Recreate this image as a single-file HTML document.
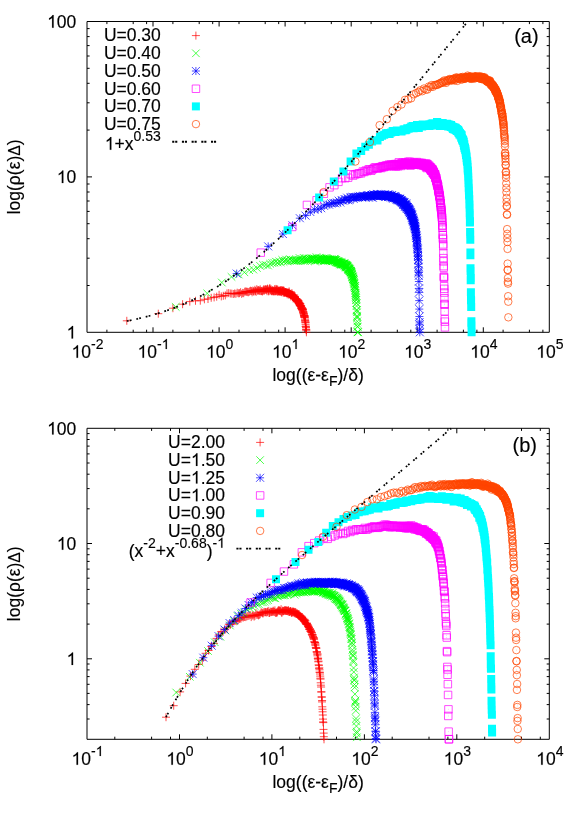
<!DOCTYPE html>
<html><head><meta charset="utf-8"><title>log-log density plots</title>
<style>
html,body{margin:0;padding:0;background:#fff;overflow:hidden}
svg{display:block;will-change:transform}
text{font-family:"Liberation Sans",sans-serif;fill:#000;stroke:#000;stroke-width:.15px}
.o{fill:none;stroke:none}
</style></head>
<body>
<svg width="581" height="814" viewBox="0 0 581 814">
<rect width="581" height="814" fill="#fff"/>
<g id="panel-a">
<path d="M87 21.5H549.3V332.3H87Z" stroke="#000" stroke-width="1" fill="none"/>
<path d="M106.9 332.3v-2.6M106.9 21.5v2.6M133.2 332.3v-2.6M133.2 21.5v2.6M146.6 332.3v-2.6M146.6 21.5v2.6M153 332.3v-5M153 21.5v5M172.9 332.3v-2.6M172.9 21.5v2.6M199.2 332.3v-2.6M199.2 21.5v2.6M212.7 332.3v-2.6M212.7 21.5v2.6M219.1 332.3v-5M219.1 21.5v5M239 332.3v-2.6M239 21.5v2.6M265.2 332.3v-2.6M265.2 21.5v2.6M278.7 332.3v-2.6M278.7 21.5v2.6M285.1 332.3v-5M285.1 21.5v5M305 332.3v-2.6M305 21.5v2.6M331.3 332.3v-2.6M331.3 21.5v2.6M344.8 332.3v-2.6M344.8 21.5v2.6M351.2 332.3v-5M351.2 21.5v5M371.1 332.3v-2.6M371.1 21.5v2.6M397.3 332.3v-2.6M397.3 21.5v2.6M410.8 332.3v-2.6M410.8 21.5v2.6M417.2 332.3v-5M417.2 21.5v5M437.1 332.3v-2.6M437.1 21.5v2.6M463.4 332.3v-2.6M463.4 21.5v2.6M476.9 332.3v-2.6M476.9 21.5v2.6M483.3 332.3v-5M483.3 21.5v5M503.1 332.3v-2.6M503.1 21.5v2.6M529.4 332.3v-2.6M529.4 21.5v2.6M542.9 332.3v-2.6M542.9 21.5v2.6M87 285.5h2.6M549.3 285.5h-2.6M87 258.2h2.6M549.3 258.2h-2.6M87 238.7h2.6M549.3 238.7h-2.6M87 223.7h2.6M549.3 223.7h-2.6M87 211.4h2.6M549.3 211.4h-2.6M87 201h2.6M549.3 201h-2.6M87 192h2.6M549.3 192h-2.6M87 184h2.6M549.3 184h-2.6M87 176.9h5M549.3 176.9h-5M87 130.1h2.6M549.3 130.1h-2.6M87 102.8h2.6M549.3 102.8h-2.6M87 83.3h2.6M549.3 83.3h-2.6M87 68.3h2.6M549.3 68.3h-2.6M87 56h2.6M549.3 56h-2.6M87 45.6h2.6M549.3 45.6h-2.6M87 36.6h2.6M549.3 36.6h-2.6M87 28.6h2.6M549.3 28.6h-2.6" stroke="#000" stroke-width="1" fill="none"/>
<text x="76.3" y="27.7" text-anchor="end" font-size="17.5"><tspan class="o">1</tspan>00</text>
<text x="76.3" y="183.1" text-anchor="end" font-size="17.5"><tspan class="o">1</tspan>0</text>
<text x="76.3" y="338.5" text-anchor="end" font-size="17.5"><tspan class="o">1</tspan></text>
<text x="87.5" y="357.8" text-anchor="middle" font-size="17.5"><tspan class="o">1</tspan>0<tspan font-size="14.0" dy="-8.8">-2</tspan></text>
<text x="153.5" y="357.8" text-anchor="middle" font-size="17.5"><tspan class="o">1</tspan>0<tspan font-size="14.0" dy="-8.8">-<tspan class="o">1</tspan></tspan></text>
<text x="219.6" y="357.8" text-anchor="middle" font-size="17.5"><tspan class="o">1</tspan>0<tspan font-size="14.0" dy="-8.8">0</tspan></text>
<text x="285.6" y="357.8" text-anchor="middle" font-size="17.5"><tspan class="o">1</tspan>0<tspan font-size="14.0" dy="-8.8"><tspan class="o">1</tspan></tspan></text>
<text x="351.7" y="357.8" text-anchor="middle" font-size="17.5"><tspan class="o">1</tspan>0<tspan font-size="14.0" dy="-8.8">2</tspan></text>
<text x="417.7" y="357.8" text-anchor="middle" font-size="17.5"><tspan class="o">1</tspan>0<tspan font-size="14.0" dy="-8.8">3</tspan></text>
<text x="483.8" y="357.8" text-anchor="middle" font-size="17.5"><tspan class="o">1</tspan>0<tspan font-size="14.0" dy="-8.8">4</tspan></text>
<text x="549.8" y="357.8" text-anchor="middle" font-size="17.5"><tspan class="o">1</tspan>0<tspan font-size="14.0" dy="-8.8">5</tspan></text>
<text x="318.1" y="381.3" text-anchor="middle" font-size="17.5">log((&#949;-&#949;<tspan font-size="14.0" dy="4.6">F</tspan><tspan dy="-4.6">)/&#948;)</tspan></text>
<text transform="translate(19.9 176.9) rotate(-90)" text-anchor="middle" font-size="17.5">log(&#961;(&#949;)<tspan font-size="15.6">&#916;</tspan>)</text>
<text x="538.6" y="42.9" text-anchor="end" font-size="20">(a)</text>
<path d="M122.8 320.8h8M126.8 316.8v8M154.3 313.7h8M158.3 309.7v8M168.9 308.2h8M172.9 304.2v8M178.6 304.2h8M182.6 300.2v8M185.8 301.6h8M189.8 297.6v8M191.5 300.8h8M195.5 296.8v8M196.3 300.7h8M200.3 296.7v8M200.4 299.3h8M204.4 295.3v8M204 299h8M208 295v8M207.2 297.8h8M211.2 293.8v8M210.1 297.4h8M214.1 293.4v8M212.7 296.7h8M216.7 292.7v8M215.1 294.8h8M219.1 290.8v8M217.3 296.4h8M221.3 292.4v8M219.3 295.8h8M223.3 291.8v8M221.3 295.4h8M225.3 291.4v8M223 293.4h8M227 289.4v8M224.7 293.1h8M228.7 289.1v8M226.3 293.5h8M230.3 289.5v8M227.8 293.6h8M231.8 289.6v8M229.3 294h8M233.3 290v8M230.6 293.5h8M234.6 289.5v8M231.9 293.8h8M235.9 289.8v8M233.2 292.7h8M237.2 288.7v8M234.4 293.3h8M238.4 289.3v8M235.5 293.2h8M239.5 289.2v8M236.6 292.2h8M240.6 288.2v8M237.7 293.9h8M241.7 289.9v8M238.7 292.9h8M242.7 288.9v8M239.7 293.2h8M243.7 289.2v8M240.7 291.7h8M244.7 287.7v8M241.6 291.5h8M245.6 287.5v8M242.5 291.7h8M246.5 287.7v8M243.4 291.8h8M247.4 287.8v8M244.2 292.3h8M248.2 288.3v8M245 291.9h8M249 287.9v8M245.8 291.2h8M249.8 287.2v8M246.6 290.7h8M250.6 286.7v8M247.4 291h8M251.4 287v8M248.1 292.3h8M252.1 288.3v8M248.8 290.6h8M252.8 286.6v8M249.5 291.4h8M253.5 287.4v8M250.2 291.4h8M254.2 287.4v8M250.9 289.8h8M254.9 285.8v8M251.5 291h8M255.5 287v8M252.1 291.9h8M256.1 287.9v8M252.8 289.2h8M256.8 285.2v8M253.4 290.5h8M257.4 286.5v8M254 290.6h8M258 286.6v8M254.6 290h8M258.6 286v8M255.1 291h8M259.1 287v8M255.7 290.5h8M259.7 286.5v8M256.2 289.3h8M260.2 285.3v8M256.8 291.1h8M260.8 287.1v8M257.3 290.9h8M261.3 286.9v8M257.8 291.1h8M261.8 287.1v8M258.4 291.5h8M262.4 287.5v8M258.9 290.6h8M262.9 286.6v8M259.4 290.4h8M263.4 286.4v8M259.8 289.2h8M263.8 285.2v8M260.3 290.7h8M264.3 286.7v8M260.8 289.7h8M264.8 285.7v8M261.2 289.8h8M265.2 285.8v8M261.7 289.2h8M265.7 285.2v8M262.2 289.4h8M266.2 285.4v8M262.6 289.8h8M266.6 285.8v8M263 291.2h8M267 287.2v8M263.5 288.6h8M267.5 284.6v8M263.9 289h8M267.9 285v8M264.3 290.4h8M268.3 286.4v8M264.7 291.4h8M268.7 287.4v8M265.1 290.7h8M269.1 286.7v8M265.5 288.7h8M269.5 284.7v8M265.9 288.2h8M269.9 284.2v8M266.3 290.5h8M270.3 286.5v8M266.7 289.7h8M270.7 285.7v8M267 289.4h8M271 285.4v8M267.4 291.1h8M271.4 287.1v8M267.8 291.2h8M271.8 287.2v8M268.1 290.5h8M272.1 286.5v8M268.5 290.5h8M272.5 286.5v8M268.9 290.7h8M272.9 286.7v8M269.2 291.6h8M273.2 287.6v8M269.6 290.9h8M273.6 286.9v8M269.9 290.8h8M273.9 286.8v8M270.2 290.9h8M274.2 286.9v8M270.6 289.2h8M274.6 285.2v8M270.9 291.5h8M274.9 287.5v8M271.2 291.2h8M275.2 287.2v8M271.5 290.9h8M275.5 286.9v8M271.9 288.9h8M275.9 284.9v8M272.2 290h8M276.2 286v8M272.5 291.2h8M276.5 287.2v8M272.8 289.1h8M276.8 285.1v8M273.1 290.4h8M277.1 286.4v8M273.4 291.4h8M277.4 287.4v8M273.7 289.6h8M277.7 285.6v8M274 291.9h8M278 287.9v8M274.3 291.1h8M278.3 287.1v8M274.6 290.6h8M278.6 286.6v8M274.9 291h8M278.9 287v8M275.2 291.3h8M279.2 287.3v8M275.4 290.9h8M279.4 286.9v8M275.7 291.7h8M279.7 287.7v8M276 290.3h8M280 286.3v8M276.3 290.5h8M280.3 286.5v8M276.5 291.7h8M280.5 287.7v8M276.8 290.9h8M280.8 286.9v8M277.1 290.2h8M281.1 286.2v8M277.3 291.7h8M281.3 287.7v8M277.6 292.2h8M281.6 288.2v8M277.9 290.7h8M281.9 286.7v8M278.1 290h8M282.1 286v8M278.4 291.1h8M282.4 287.1v8M278.6 291.1h8M282.6 287.1v8M278.9 291h8M282.9 287v8M279.1 292.5h8M283.1 288.5v8M279.4 290.6h8M283.4 286.6v8M279.6 292.5h8M283.6 288.5v8M279.8 290.5h8M283.8 286.5v8M280.1 291h8M284.1 287v8M280.3 292.2h8M284.3 288.2v8M280.5 292.6h8M284.5 288.6v8M280.8 292.5h8M284.8 288.5v8M281 292.2h8M285 288.2v8M281.2 292.1h8M285.2 288.1v8M281.5 292.2h8M285.5 288.2v8M281.7 292.6h8M285.7 288.6v8M281.9 292h8M285.9 288v8M282.1 292.5h8M286.1 288.5v8M282.4 292.8h8M286.4 288.8v8M282.6 292.4h8M286.6 288.4v8M282.8 293.1h8M286.8 289.1v8M283 293h8M287 289v8M283.2 294.3h8M287.2 290.3v8M283.4 293h8M287.4 289v8M283.7 292.5h8M287.7 288.5v8M283.9 292.6h8M287.9 288.6v8M284.1 293h8M288.1 289v8M284.3 293.8h8M288.3 289.8v8M284.5 292.9h8M288.5 288.9v8M284.7 293.6h8M288.7 289.6v8M284.9 294.8h8M288.9 290.8v8M285.1 291.4h8M289.1 287.4v8M285.3 292.7h8M289.3 288.7v8M285.5 293.9h8M289.5 289.9v8M285.7 294.1h8M289.7 290.1v8M285.9 294.1h8M289.9 290.1v8M286.1 293.7h8M290.1 289.7v8M286.3 294.7h8M290.3 290.7v8M286.5 294.5h8M290.5 290.5v8M286.6 294h8M290.6 290v8M286.8 296.4h8M290.8 292.4v8M287 294.9h8M291 290.9v8M287.2 294.3h8M291.2 290.3v8M287.4 294.8h8M291.4 290.8v8M287.6 294.9h8M291.6 290.9v8M287.8 295.1h8M291.8 291.1v8M287.9 293.1h8M291.9 289.1v8M288.1 295.1h8M292.1 291.1v8M288.3 296.4h8M292.3 292.4v8M288.5 294.8h8M292.5 290.8v8M288.7 295.8h8M292.7 291.8v8M288.8 296.8h8M292.8 292.8v8M289 296.9h8M293 292.9v8M289.2 297.5h8M293.2 293.5v8M289.4 295.1h8M293.4 291.1v8M289.5 296.4h8M293.5 292.4v8M289.7 296.5h8M293.7 292.5v8M289.9 297.4h8M293.9 293.4v8M290 298h8M294 294v8M290.2 295.1h8M294.2 291.1v8M290.4 298.3h8M294.4 294.3v8M290.5 296.4h8M294.5 292.4v8M290.7 298.3h8M294.7 294.3v8M290.9 296.7h8M294.9 292.7v8M291 298.2h8M295 294.2v8M291.2 299.1h8M295.2 295.1v8M291.3 298.2h8M295.3 294.2v8M291.5 298.7h8M295.5 294.7v8M291.7 299.3h8M295.7 295.3v8M291.8 298.9h8M295.8 294.9v8M292 298.9h8M296 294.9v8M292.1 300.4h8M296.1 296.4v8M292.3 300.2h8M296.3 296.2v8M292.5 299.3h8M296.5 295.3v8M292.6 301.9h8M296.6 297.9v8M292.8 298.9h8M296.8 294.9v8M292.9 300.8h8M296.9 296.8v8M293.1 300h8M297.1 296v8M293.2 300.5h8M297.2 296.5v8M293.4 301.2h8M297.4 297.2v8M293.5 301h8M297.5 297v8M293.7 301.5h8M297.7 297.5v8M293.8 300h8M297.8 296v8M294 300.2h8M298 296.2v8M294.1 302.1h8M298.1 298.1v8M294.2 301h8M298.2 297v8M294.4 301.2h8M298.4 297.2v8M294.5 301h8M298.5 297v8M294.7 303.4h8M298.7 299.4v8M294.8 303.2h8M298.8 299.2v8M295 304h8M299 300v8M295.1 302.3h8M299.1 298.3v8M295.2 303.3h8M299.2 299.3v8M295.4 302.6h8M299.4 298.6v8M295.5 304.3h8M299.5 300.3v8M295.7 305.2h8M299.7 301.2v8M295.8 303.5h8M299.8 299.5v8M295.9 305.7h8M299.9 301.7v8M296.1 305.4h8M300.1 301.4v8M296.2 304.7h8M300.2 300.7v8M296.3 303.5h8M300.3 299.5v8M296.5 306.5h8M300.5 302.5v8M296.6 305.5h8M300.6 301.5v8M296.8 305.4h8M300.8 301.4v8M296.9 306.4h8M300.9 302.4v8M297 306.7h8M301 302.7v8M297.1 307.8h8M301.1 303.8v8M297.3 306.1h8M301.3 302.1v8M297.4 308.1h8M301.4 304.1v8M297.5 308.6h8M301.5 304.6v8M297.7 308.9h8M301.7 304.9v8M297.8 307.9h8M301.8 303.9v8M297.9 307.7h8M301.9 303.7v8M298.1 309.4h8M302.1 305.4v8M298.2 309h8M302.2 305v8M298.3 309.4h8M302.3 305.4v8M298.4 310.7h8M302.4 306.7v8M298.6 309.7h8M302.6 305.7v8M298.7 308.4h8M302.7 304.4v8M298.8 310.3h8M302.8 306.3v8M298.9 309.5h8M302.9 305.5v8M299.1 312h8M303.1 308v8M299.2 312h8M303.2 308v8M299.3 311.6h8M303.3 307.6v8M299.4 312.5h8M303.4 308.5v8M299.5 313.6h8M303.5 309.6v8M299.7 313.4h8M303.7 309.4v8M299.8 314.8h8M303.8 310.8v8M299.9 314.2h8M303.9 310.2v8M300 315.5h8M304 311.5v8M300.1 316.3h8M304.1 312.3v8M300.3 316.9h8M304.3 312.9v8M300.4 315.6h8M304.4 311.6v8M300.5 317.4h8M304.5 313.4v8M300.6 315.8h8M304.6 311.8v8M300.7 317h8M304.7 313v8M300.8 317h8M304.8 313v8M301 320.1h8M305 316.1v8M301.1 319h8M305.1 315v8M301.2 320.7h8M305.2 316.7v8M301.3 321.3h8M305.3 317.3v8M301.4 322.3h8M305.4 318.3v8M301.5 322.7h8M305.5 318.7v8M301.6 324.3h8M305.6 320.3v8M301.7 326.5h8M305.7 322.5v8M301.9 326.1h8M305.9 322.1v8M302 327.5h8M306 323.5v8M302.1 329.1h8M306.1 325.1v8M302.2 329.6h8M306.2 325.6v8M302.3 330.3h8M306.3 326.3v8M302.4 332.3h8M306.4 328.3v8" fill="none" stroke="#ff0000" stroke-width="0.7"/>
<path d="M171.9 303.1l7.6 7.6M171.9 310.7l7.6 -7.6M203.4 289.6l7.6 7.6M203.4 297.2l7.6 -7.6M218 278.7l7.6 7.6M218 286.3l7.6 -7.6M227.7 273.1l7.6 7.6M227.7 280.7l7.6 -7.6M234.9 270.7l7.6 7.6M234.9 278.3l7.6 -7.6M240.6 268.5l7.6 7.6M240.6 276.1l7.6 -7.6M245.4 266.4l7.6 7.6M245.4 274l7.6 -7.6M249.5 265.8l7.6 7.6M249.5 273.4l7.6 -7.6M253.1 264.2l7.6 7.6M253.1 271.8l7.6 -7.6M256.3 262.1l7.6 7.6M256.3 269.7l7.6 -7.6M259.2 261l7.6 7.6M259.2 268.6l7.6 -7.6M261.8 261.1l7.6 7.6M261.8 268.7l7.6 -7.6M264.2 261.7l7.6 7.6M264.2 269.3l7.6 -7.6M266.4 260l7.6 7.6M266.4 267.6l7.6 -7.6M268.4 259.2l7.6 7.6M268.4 266.8l7.6 -7.6M270.4 258.9l7.6 7.6M270.4 266.5l7.6 -7.6M272.1 257.9l7.6 7.6M272.1 265.5l7.6 -7.6M273.8 258.7l7.6 7.6M273.8 266.3l7.6 -7.6M275.4 257.6l7.6 7.6M275.4 265.2l7.6 -7.6M276.9 258.5l7.6 7.6M276.9 266.1l7.6 -7.6M278.4 256.1l7.6 7.6M278.4 263.7l7.6 -7.6M279.7 258l7.6 7.6M279.7 265.6l7.6 -7.6M281 257l7.6 7.6M281 264.6l7.6 -7.6M282.3 255.8l7.6 7.6M282.3 263.4l7.6 -7.6M283.5 257.7l7.6 7.6M283.5 265.3l7.6 -7.6M284.6 256.8l7.6 7.6M284.6 264.4l7.6 -7.6M285.7 255.1l7.6 7.6M285.7 262.7l7.6 -7.6M286.8 256l7.6 7.6M286.8 263.6l7.6 -7.6M287.8 256.8l7.6 7.6M287.8 264.4l7.6 -7.6M288.8 256.1l7.6 7.6M288.8 263.7l7.6 -7.6M289.8 257l7.6 7.6M289.8 264.6l7.6 -7.6M290.7 256.9l7.6 7.6M290.7 264.5l7.6 -7.6M291.6 256.8l7.6 7.6M291.6 264.4l7.6 -7.6M292.5 256.4l7.6 7.6M292.5 264l7.6 -7.6M293.3 257.1l7.6 7.6M293.3 264.7l7.6 -7.6M294.1 256.5l7.6 7.6M294.1 264.1l7.6 -7.6M294.9 256.3l7.6 7.6M294.9 263.9l7.6 -7.6M295.7 254.2l7.6 7.6M295.7 261.8l7.6 -7.6M296.4 256.5l7.6 7.6M296.4 264.1l7.6 -7.6M297.2 256.8l7.6 7.6M297.2 264.4l7.6 -7.6M297.9 255.4l7.6 7.6M297.9 263l7.6 -7.6M298.6 255.2l7.6 7.6M298.6 262.8l7.6 -7.6M299.3 257.1l7.6 7.6M299.3 264.7l7.6 -7.6M299.9 254.1l7.6 7.6M299.9 261.7l7.6 -7.6M300.6 255.9l7.6 7.6M300.6 263.5l7.6 -7.6M301.2 257.4l7.6 7.6M301.2 265l7.6 -7.6M301.9 254.7l7.6 7.6M301.9 262.3l7.6 -7.6M302.5 255.9l7.6 7.6M302.5 263.5l7.6 -7.6M303.1 256.9l7.6 7.6M303.1 264.5l7.6 -7.6M303.7 255.2l7.6 7.6M303.7 262.8l7.6 -7.6M304.2 255.8l7.6 7.6M304.2 263.4l7.6 -7.6M304.8 256l7.6 7.6M304.8 263.6l7.6 -7.6M305.3 254.6l7.6 7.6M305.3 262.2l7.6 -7.6M305.9 255.2l7.6 7.6M305.9 262.8l7.6 -7.6M306.4 255.5l7.6 7.6M306.4 263.1l7.6 -7.6M306.9 256l7.6 7.6M306.9 263.6l7.6 -7.6M307.4 255.3l7.6 7.6M307.4 262.9l7.6 -7.6M308 255.1l7.6 7.6M308 262.7l7.6 -7.6M308.4 254.5l7.6 7.6M308.4 262.1l7.6 -7.6M308.9 255l7.6 7.6M308.9 262.6l7.6 -7.6M309.4 256l7.6 7.6M309.4 263.6l7.6 -7.6M309.9 255.4l7.6 7.6M309.9 263l7.6 -7.6M310.3 254.6l7.6 7.6M310.3 262.2l7.6 -7.6M310.8 254.7l7.6 7.6M310.8 262.3l7.6 -7.6M311.2 257.5l7.6 7.6M311.2 265.1l7.6 -7.6M311.7 256.3l7.6 7.6M311.7 263.9l7.6 -7.6M312.1 255.9l7.6 7.6M312.1 263.5l7.6 -7.6M312.6 253.3l7.6 7.6M312.6 260.9l7.6 -7.6M313 255.9l7.6 7.6M313 263.5l7.6 -7.6M313.4 255.8l7.6 7.6M313.4 263.4l7.6 -7.6M313.8 256.7l7.6 7.6M313.8 264.3l7.6 -7.6M314.2 255.8l7.6 7.6M314.2 263.4l7.6 -7.6M314.6 255.4l7.6 7.6M314.6 263l7.6 -7.6M315 255.8l7.6 7.6M315 263.4l7.6 -7.6M315.4 253.9l7.6 7.6M315.4 261.5l7.6 -7.6M315.8 256.3l7.6 7.6M315.8 263.9l7.6 -7.6M316.1 255.7l7.6 7.6M316.1 263.3l7.6 -7.6M316.5 254.9l7.6 7.6M316.5 262.5l7.6 -7.6M316.9 256.5l7.6 7.6M316.9 264.1l7.6 -7.6M317.2 256.9l7.6 7.6M317.2 264.5l7.6 -7.6M317.6 254.4l7.6 7.6M317.6 262l7.6 -7.6M318 255l7.6 7.6M318 262.6l7.6 -7.6M318.3 255.8l7.6 7.6M318.3 263.4l7.6 -7.6M318.7 255.7l7.6 7.6M318.7 263.3l7.6 -7.6M319 255.2l7.6 7.6M319 262.8l7.6 -7.6M319.3 254.8l7.6 7.6M319.3 262.4l7.6 -7.6M319.7 257.3l7.6 7.6M319.7 264.9l7.6 -7.6M320 256.4l7.6 7.6M320 264l7.6 -7.6M320.3 254.7l7.6 7.6M320.3 262.3l7.6 -7.6M320.6 254.5l7.6 7.6M320.6 262.1l7.6 -7.6M321 257l7.6 7.6M321 264.6l7.6 -7.6M321.3 256.4l7.6 7.6M321.3 264l7.6 -7.6M321.6 257.1l7.6 7.6M321.6 264.7l7.6 -7.6M321.9 256.3l7.6 7.6M321.9 263.9l7.6 -7.6M322.2 255l7.6 7.6M322.2 262.6l7.6 -7.6M322.5 256l7.6 7.6M322.5 263.6l7.6 -7.6M322.8 254l7.6 7.6M322.8 261.6l7.6 -7.6M323.1 255.2l7.6 7.6M323.1 262.8l7.6 -7.6M323.4 255.8l7.6 7.6M323.4 263.4l7.6 -7.6M323.7 256.3l7.6 7.6M323.7 263.9l7.6 -7.6M324 255.3l7.6 7.6M324 262.9l7.6 -7.6M324.3 255.8l7.6 7.6M324.3 263.4l7.6 -7.6M324.5 256.3l7.6 7.6M324.5 263.9l7.6 -7.6M324.8 256.3l7.6 7.6M324.8 263.9l7.6 -7.6M325.1 256.5l7.6 7.6M325.1 264.1l7.6 -7.6M325.4 256.2l7.6 7.6M325.4 263.8l7.6 -7.6M325.6 255.8l7.6 7.6M325.6 263.4l7.6 -7.6M325.9 256.7l7.6 7.6M325.9 264.3l7.6 -7.6M326.2 256.2l7.6 7.6M326.2 263.8l7.6 -7.6M326.4 255.5l7.6 7.6M326.4 263.1l7.6 -7.6M326.7 255.7l7.6 7.6M326.7 263.3l7.6 -7.6M326.9 256.3l7.6 7.6M326.9 263.9l7.6 -7.6M327.2 256.2l7.6 7.6M327.2 263.8l7.6 -7.6M327.5 256.5l7.6 7.6M327.5 264.1l7.6 -7.6M327.7 256.4l7.6 7.6M327.7 264l7.6 -7.6M328 256.6l7.6 7.6M328 264.2l7.6 -7.6M328.2 256.3l7.6 7.6M328.2 263.9l7.6 -7.6M328.4 255.5l7.6 7.6M328.4 263.1l7.6 -7.6M328.7 256.9l7.6 7.6M328.7 264.5l7.6 -7.6M328.9 257.4l7.6 7.6M328.9 265l7.6 -7.6M329.2 257l7.6 7.6M329.2 264.6l7.6 -7.6M329.4 256.5l7.6 7.6M329.4 264.1l7.6 -7.6M329.6 257.1l7.6 7.6M329.6 264.7l7.6 -7.6M329.9 256l7.6 7.6M329.9 263.6l7.6 -7.6M330.1 255.3l7.6 7.6M330.1 262.9l7.6 -7.6M330.3 256.9l7.6 7.6M330.3 264.5l7.6 -7.6M330.6 256.1l7.6 7.6M330.6 263.7l7.6 -7.6M330.8 257.5l7.6 7.6M330.8 265.1l7.6 -7.6M331 256.1l7.6 7.6M331 263.7l7.6 -7.6M331.2 254.9l7.6 7.6M331.2 262.5l7.6 -7.6M331.5 256.2l7.6 7.6M331.5 263.8l7.6 -7.6M331.7 258.4l7.6 7.6M331.7 266l7.6 -7.6M331.9 256.8l7.6 7.6M331.9 264.4l7.6 -7.6M332.1 256.1l7.6 7.6M332.1 263.7l7.6 -7.6M332.3 256.6l7.6 7.6M332.3 264.2l7.6 -7.6M332.5 257.7l7.6 7.6M332.5 265.3l7.6 -7.6M332.7 257.8l7.6 7.6M332.7 265.4l7.6 -7.6M333 257.6l7.6 7.6M333 265.2l7.6 -7.6M333.2 258.7l7.6 7.6M333.2 266.3l7.6 -7.6M333.4 258.1l7.6 7.6M333.4 265.7l7.6 -7.6M333.6 257.6l7.6 7.6M333.6 265.2l7.6 -7.6M333.8 258.2l7.6 7.6M333.8 265.8l7.6 -7.6M334 259.1l7.6 7.6M334 266.7l7.6 -7.6M334.2 258.6l7.6 7.6M334.2 266.2l7.6 -7.6M334.4 258.7l7.6 7.6M334.4 266.3l7.6 -7.6M334.6 257.1l7.6 7.6M334.6 264.7l7.6 -7.6M334.8 257.9l7.6 7.6M334.8 265.5l7.6 -7.6M335 258.7l7.6 7.6M335 266.3l7.6 -7.6M335.2 258l7.6 7.6M335.2 265.6l7.6 -7.6M335.4 259.1l7.6 7.6M335.4 266.7l7.6 -7.6M335.5 258.8l7.6 7.6M335.5 266.4l7.6 -7.6M335.7 259.2l7.6 7.6M335.7 266.8l7.6 -7.6M335.9 258.4l7.6 7.6M335.9 266l7.6 -7.6M336.1 260.6l7.6 7.6M336.1 268.2l7.6 -7.6M336.3 259.7l7.6 7.6M336.3 267.3l7.6 -7.6M336.5 258.6l7.6 7.6M336.5 266.2l7.6 -7.6M336.7 258.9l7.6 7.6M336.7 266.5l7.6 -7.6M336.9 261l7.6 7.6M336.9 268.6l7.6 -7.6M337 258.8l7.6 7.6M337 266.4l7.6 -7.6M337.2 259.8l7.6 7.6M337.2 267.4l7.6 -7.6M337.4 260l7.6 7.6M337.4 267.6l7.6 -7.6M337.6 259.3l7.6 7.6M337.6 266.9l7.6 -7.6M337.7 258.5l7.6 7.6M337.7 266.1l7.6 -7.6M337.9 259.6l7.6 7.6M337.9 267.2l7.6 -7.6M338.1 259.9l7.6 7.6M338.1 267.5l7.6 -7.6M338.3 260.6l7.6 7.6M338.3 268.2l7.6 -7.6M338.4 260.4l7.6 7.6M338.4 268l7.6 -7.6M338.6 259.9l7.6 7.6M338.6 267.5l7.6 -7.6M338.8 260.6l7.6 7.6M338.8 268.2l7.6 -7.6M339 260.5l7.6 7.6M339 268.1l7.6 -7.6M339.1 260.3l7.6 7.6M339.1 267.9l7.6 -7.6M339.3 260.3l7.6 7.6M339.3 267.9l7.6 -7.6M339.5 260.1l7.6 7.6M339.5 267.7l7.6 -7.6M339.6 261l7.6 7.6M339.6 268.6l7.6 -7.6M339.8 259.7l7.6 7.6M339.8 267.3l7.6 -7.6M340 260.1l7.6 7.6M340 267.7l7.6 -7.6M340.1 260.7l7.6 7.6M340.1 268.3l7.6 -7.6M340.3 259.7l7.6 7.6M340.3 267.3l7.6 -7.6M340.4 260.6l7.6 7.6M340.4 268.2l7.6 -7.6M340.6 259.4l7.6 7.6M340.6 267l7.6 -7.6M340.8 260.6l7.6 7.6M340.8 268.2l7.6 -7.6M340.9 261.7l7.6 7.6M340.9 269.3l7.6 -7.6M341.1 261.8l7.6 7.6M341.1 269.4l7.6 -7.6M341.2 261.5l7.6 7.6M341.2 269.1l7.6 -7.6M341.4 261.4l7.6 7.6M341.4 269l7.6 -7.6M341.5 260.6l7.6 7.6M341.5 268.2l7.6 -7.6M341.7 263.3l7.6 7.6M341.7 270.9l7.6 -7.6M341.9 262.4l7.6 7.6M341.9 270l7.6 -7.6M342 263l7.6 7.6M342 270.6l7.6 -7.6M342.2 261.5l7.6 7.6M342.2 269.1l7.6 -7.6M342.3 262.2l7.6 7.6M342.3 269.8l7.6 -7.6M342.5 261l7.6 7.6M342.5 268.6l7.6 -7.6M342.6 263.3l7.6 7.6M342.6 270.9l7.6 -7.6M342.8 263.5l7.6 7.6M342.8 271.1l7.6 -7.6M342.9 261.4l7.6 7.6M342.9 269l7.6 -7.6M343.1 263l7.6 7.6M343.1 270.6l7.6 -7.6M343.2 263.7l7.6 7.6M343.2 271.3l7.6 -7.6M343.3 261.9l7.6 7.6M343.3 269.5l7.6 -7.6M343.5 262l7.6 7.6M343.5 269.6l7.6 -7.6M343.6 262.8l7.6 7.6M343.6 270.4l7.6 -7.6M343.8 263.3l7.6 7.6M343.8 270.9l7.6 -7.6M343.9 262.8l7.6 7.6M343.9 270.4l7.6 -7.6M344.1 264.1l7.6 7.6M344.1 271.7l7.6 -7.6M344.2 264.5l7.6 7.6M344.2 272.1l7.6 -7.6M344.3 264.9l7.6 7.6M344.3 272.5l7.6 -7.6M344.5 265.2l7.6 7.6M344.5 272.8l7.6 -7.6M344.6 266l7.6 7.6M344.6 273.6l7.6 -7.6M344.8 265.9l7.6 7.6M344.8 273.5l7.6 -7.6M344.9 264.1l7.6 7.6M344.9 271.7l7.6 -7.6M345 264.9l7.6 7.6M345 272.5l7.6 -7.6M345.2 264.6l7.6 7.6M345.2 272.2l7.6 -7.6M345.3 264.8l7.6 7.6M345.3 272.4l7.6 -7.6M345.4 265.8l7.6 7.6M345.4 273.4l7.6 -7.6M345.6 266l7.6 7.6M345.6 273.6l7.6 -7.6M345.7 266.6l7.6 7.6M345.7 274.2l7.6 -7.6M345.8 265.1l7.6 7.6M345.8 272.7l7.6 -7.6M346 265.6l7.6 7.6M346 273.2l7.6 -7.6M346.1 266.8l7.6 7.6M346.1 274.4l7.6 -7.6M346.2 266.9l7.6 7.6M346.2 274.5l7.6 -7.6M346.4 267l7.6 7.6M346.4 274.6l7.6 -7.6M346.5 267.4l7.6 7.6M346.5 275l7.6 -7.6M346.6 267l7.6 7.6M346.6 274.6l7.6 -7.6M346.8 268.4l7.6 7.6M346.8 276l7.6 -7.6M346.9 268.4l7.6 7.6M346.9 276l7.6 -7.6M347 268.3l7.6 7.6M347 275.9l7.6 -7.6M347.1 268.1l7.6 7.6M347.1 275.7l7.6 -7.6M347.3 268.8l7.6 7.6M347.3 276.4l7.6 -7.6M347.4 267l7.6 7.6M347.4 274.6l7.6 -7.6M347.5 268.7l7.6 7.6M347.5 276.3l7.6 -7.6M347.7 269.8l7.6 7.6M347.7 277.4l7.6 -7.6M347.8 268.9l7.6 7.6M347.8 276.5l7.6 -7.6M347.9 270.6l7.6 7.6M347.9 278.2l7.6 -7.6M348 270.9l7.6 7.6M348 278.5l7.6 -7.6M348.1 270l7.6 7.6M348.1 277.6l7.6 -7.6M348.3 271.2l7.6 7.6M348.3 278.8l7.6 -7.6M348.4 271.5l7.6 7.6M348.4 279.1l7.6 -7.6M348.5 272.5l7.6 7.6M348.5 280.1l7.6 -7.6M348.6 273l7.6 7.6M348.6 280.6l7.6 -7.6M348.8 272.9l7.6 7.6M348.8 280.5l7.6 -7.6M348.9 272.7l7.6 7.6M348.9 280.3l7.6 -7.6M349 273.6l7.6 7.6M349 281.2l7.6 -7.6M349.1 274.1l7.6 7.6M349.1 281.7l7.6 -7.6M349.2 275.2l7.6 7.6M349.2 282.8l7.6 -7.6M349.3 275.3l7.6 7.6M349.3 282.9l7.6 -7.6M349.5 274.9l7.6 7.6M349.5 282.5l7.6 -7.6M349.6 274.9l7.6 7.6M349.6 282.5l7.6 -7.6M349.7 276.1l7.6 7.6M349.7 283.7l7.6 -7.6M349.8 276.3l7.6 7.6M349.8 283.9l7.6 -7.6M349.9 276.5l7.6 7.6M349.9 284.1l7.6 -7.6M350 277.8l7.6 7.6M350 285.4l7.6 -7.6M350.2 278l7.6 7.6M350.2 285.6l7.6 -7.6M350.3 279l7.6 7.6M350.3 286.6l7.6 -7.6M350.4 279.9l7.6 7.6M350.4 287.5l7.6 -7.6M350.5 279.7l7.6 7.6M350.5 287.3l7.6 -7.6M350.6 282.5l7.6 7.6M350.6 290.1l7.6 -7.6M350.7 281l7.6 7.6M350.7 288.6l7.6 -7.6M350.8 282.8l7.6 7.6M350.8 290.4l7.6 -7.6M351 282.7l7.6 7.6M351 290.3l7.6 -7.6M351.1 284.2l7.6 7.6M351.1 291.8l7.6 -7.6M351.2 282.2l7.6 7.6M351.2 289.8l7.6 -7.6M351.3 284.3l7.6 7.6M351.3 291.9l7.6 -7.6M351.4 286l7.6 7.6M351.4 293.6l7.6 -7.6M351.5 287.2l7.6 7.6M351.5 294.8l7.6 -7.6M351.6 289.5l7.6 7.6M351.6 297.1l7.6 -7.6M351.7 288.9l7.6 7.6M351.7 296.5l7.6 -7.6M351.8 290.8l7.6 7.6M351.8 298.4l7.6 -7.6M351.9 291.4l7.6 7.6M351.9 299l7.6 -7.6M352 292.7l7.6 7.6M352 300.3l7.6 -7.6M352.2 293.6l7.6 7.6M352.2 301.2l7.6 -7.6M352.3 294.3l7.6 7.6M352.3 301.9l7.6 -7.6M352.4 296.1l7.6 7.6M352.4 303.7l7.6 -7.6M352.5 296.2l7.6 7.6M352.5 303.8l7.6 -7.6M352.6 299.4l7.6 7.6M352.6 307l7.6 -7.6M352.7 299.2l7.6 7.6M352.7 306.8l7.6 -7.6M352.8 302.2l7.6 7.6M352.8 309.8l7.6 -7.6M352.9 306.7l7.6 7.6M352.9 314.3l7.6 -7.6M353 306l7.6 7.6M353 313.6l7.6 -7.6M353.1 308.5l7.6 7.6M353.1 316.1l7.6 -7.6M353.2 312.1l7.6 7.6M353.2 319.7l7.6 -7.6M353.3 312.9l7.6 7.6M353.3 320.5l7.6 -7.6M353.4 314.1l7.6 7.6M353.4 321.7l7.6 -7.6M353.5 317.6l7.6 7.6M353.5 325.2l7.6 -7.6M353.6 320.2l7.6 7.6M353.6 327.8l7.6 -7.6M353.7 322.6l7.6 7.6M353.7 330.2l7.6 -7.6M353.8 323l7.6 7.6M353.8 330.6l7.6 -7.6M353.9 328.2l7.6 7.6M353.9 335.8l7.6 -7.6M354 328.5l7.6 7.6M354 336.1l7.6 -7.6M354.1 328.5l7.6 7.6M354.1 336.1l7.6 -7.6" fill="none" stroke="#00ff00" stroke-width="0.7"/>
<path d="M232.7 273.6h8M236.7 269.6v8M232.7 269.6l8 8M232.7 277.6l8 -8M264.2 246.4h8M268.2 242.4v8M264.2 242.4l8 8M264.2 250.4l8 -8M278.9 234h8M282.9 230v8M278.9 230l8 8M278.9 238l8 -8M288.5 225.3h8M292.5 221.3v8M288.5 221.3l8 8M288.5 229.3l8 -8M295.8 218.2h8M299.8 214.2v8M295.8 214.2l8 8M295.8 222.2l8 -8M301.5 215.6h8M305.5 211.6v8M301.5 211.6l8 8M301.5 219.6l8 -8M306.3 212h8M310.3 208v8M306.3 208l8 8M306.3 216l8 -8M310.4 209.7h8M314.4 205.7v8M310.4 205.7l8 8M310.4 213.7l8 -8M314 209.1h8M318 205.1v8M314 205.1l8 8M314 213.1l8 -8M317.2 208.2h8M321.2 204.2v8M317.2 204.2l8 8M317.2 212.2l8 -8M320.1 205.9h8M324.1 201.9v8M320.1 201.9l8 8M320.1 209.9l8 -8M322.7 204.4h8M326.7 200.4v8M322.7 200.4l8 8M322.7 208.4l8 -8M325.1 204.7h8M329.1 200.7v8M325.1 200.7l8 8M325.1 208.7l8 -8M327.3 203.3h8M331.3 199.3v8M327.3 199.3l8 8M327.3 207.3l8 -8M329.3 202.9h8M333.3 198.9v8M329.3 198.9l8 8M329.3 206.9l8 -8M331.2 203.3h8M335.2 199.3v8M331.2 199.3l8 8M331.2 207.3l8 -8M333 202.5h8M337 198.5v8M333 198.5l8 8M333 206.5l8 -8M334.7 200.7h8M338.7 196.7v8M334.7 196.7l8 8M334.7 204.7l8 -8M336.3 202.5h8M340.3 198.5v8M336.3 198.5l8 8M336.3 206.5l8 -8M337.8 200.3h8M341.8 196.3v8M337.8 196.3l8 8M337.8 204.3l8 -8M339.2 200.6h8M343.2 196.6v8M339.2 196.6l8 8M339.2 204.6l8 -8M340.6 199.1h8M344.6 195.1v8M340.6 195.1l8 8M340.6 203.1l8 -8M341.9 199.3h8M345.9 195.3v8M341.9 195.3l8 8M341.9 203.3l8 -8M343.2 197.7h8M347.2 193.7v8M343.2 193.7l8 8M343.2 201.7l8 -8M344.4 200.3h8M348.4 196.3v8M344.4 196.3l8 8M344.4 204.3l8 -8M345.5 199.8h8M349.5 195.8v8M345.5 195.8l8 8M345.5 203.8l8 -8M346.6 197.5h8M350.6 193.5v8M346.6 193.5l8 8M346.6 201.5l8 -8M347.7 197.1h8M351.7 193.1v8M347.7 193.1l8 8M347.7 201.1l8 -8M348.7 196.8h8M352.7 192.8v8M348.7 192.8l8 8M348.7 200.8l8 -8M349.7 198.9h8M353.7 194.9v8M349.7 194.9l8 8M349.7 202.9l8 -8M350.6 197.4h8M354.6 193.4v8M350.6 193.4l8 8M350.6 201.4l8 -8M351.6 197.6h8M355.6 193.6v8M351.6 193.6l8 8M351.6 201.6l8 -8M352.5 197.3h8M356.5 193.3v8M352.5 193.3l8 8M352.5 201.3l8 -8M353.3 197.3h8M357.3 193.3v8M353.3 193.3l8 8M353.3 201.3l8 -8M354.2 196.4h8M358.2 192.4v8M354.2 192.4l8 8M354.2 200.4l8 -8M355 197.2h8M359 193.2v8M355 193.2l8 8M355 201.2l8 -8M355.8 195.9h8M359.8 191.9v8M355.8 191.9l8 8M355.8 199.9l8 -8M356.6 196.9h8M360.6 192.9v8M356.6 192.9l8 8M356.6 200.9l8 -8M357.3 197.1h8M361.3 193.1v8M357.3 193.1l8 8M357.3 201.1l8 -8M358.1 197.1h8M362.1 193.1v8M358.1 193.1l8 8M358.1 201.1l8 -8M358.8 196.5h8M362.8 192.5v8M358.8 192.5l8 8M358.8 200.5l8 -8M359.5 195.8h8M363.5 191.8v8M359.5 191.8l8 8M359.5 199.8l8 -8M360.2 196.6h8M364.2 192.6v8M360.2 192.6l8 8M360.2 200.6l8 -8M360.8 196h8M364.8 192v8M360.8 192l8 8M360.8 200l8 -8M361.5 197.5h8M365.5 193.5v8M361.5 193.5l8 8M361.5 201.5l8 -8M362.1 196.8h8M366.1 192.8v8M362.1 192.8l8 8M362.1 200.8l8 -8M362.7 196h8M366.7 192v8M362.7 192l8 8M362.7 200l8 -8M363.3 195.7h8M367.3 191.7v8M363.3 191.7l8 8M363.3 199.7l8 -8M363.9 195.4h8M367.9 191.4v8M363.9 191.4l8 8M363.9 199.4l8 -8M364.5 195.1h8M368.5 191.1v8M364.5 191.1l8 8M364.5 199.1l8 -8M365.1 195.5h8M369.1 191.5v8M365.1 191.5l8 8M365.1 199.5l8 -8M365.7 196h8M369.7 192v8M365.7 192l8 8M365.7 200l8 -8M366.2 196.1h8M370.2 192.1v8M366.2 192.1l8 8M366.2 200.1l8 -8M366.8 196.1h8M370.8 192.1v8M366.8 192.1l8 8M366.8 200.1l8 -8M367.3 197.3h8M371.3 193.3v8M367.3 193.3l8 8M367.3 201.3l8 -8M367.8 195h8M371.8 191v8M367.8 191l8 8M367.8 199l8 -8M368.3 195.5h8M372.3 191.5v8M368.3 191.5l8 8M368.3 199.5l8 -8M368.8 197.7h8M372.8 193.7v8M368.8 193.7l8 8M368.8 201.7l8 -8M369.3 194h8M373.3 190v8M369.3 190l8 8M369.3 198l8 -8M369.8 195h8M373.8 191v8M369.8 191l8 8M369.8 199l8 -8M370.3 195.6h8M374.3 191.6v8M370.3 191.6l8 8M370.3 199.6l8 -8M370.8 195.5h8M374.8 191.5v8M370.8 191.5l8 8M370.8 199.5l8 -8M371.2 195.7h8M375.2 191.7v8M371.2 191.7l8 8M371.2 199.7l8 -8M371.7 195.2h8M375.7 191.2v8M371.7 191.2l8 8M371.7 199.2l8 -8M372.1 195.7h8M376.1 191.7v8M372.1 191.7l8 8M372.1 199.7l8 -8M372.6 195.4h8M376.6 191.4v8M372.6 191.4l8 8M372.6 199.4l8 -8M373 196h8M377 192v8M373 192l8 8M373 200l8 -8M373.4 193.9h8M377.4 189.9v8M373.4 189.9l8 8M373.4 197.9l8 -8M373.8 194.7h8M377.8 190.7v8M373.8 190.7l8 8M373.8 198.7l8 -8M374.3 195.4h8M378.3 191.4v8M374.3 191.4l8 8M374.3 199.4l8 -8M374.7 194.6h8M378.7 190.6v8M374.7 190.6l8 8M374.7 198.6l8 -8M375.1 194.6h8M379.1 190.6v8M375.1 190.6l8 8M375.1 198.6l8 -8M375.5 195.9h8M379.5 191.9v8M375.5 191.9l8 8M375.5 199.9l8 -8M375.9 194.9h8M379.9 190.9v8M375.9 190.9l8 8M375.9 198.9l8 -8M376.3 195.9h8M380.3 191.9v8M376.3 191.9l8 8M376.3 199.9l8 -8M376.6 196h8M380.6 192v8M376.6 192l8 8M376.6 200l8 -8M377 195.7h8M381 191.7v8M377 191.7l8 8M377 199.7l8 -8M377.4 195.9h8M381.4 191.9v8M377.4 191.9l8 8M377.4 199.9l8 -8M377.8 195.4h8M381.8 191.4v8M377.8 191.4l8 8M377.8 199.4l8 -8M378.1 194.3h8M382.1 190.3v8M378.1 190.3l8 8M378.1 198.3l8 -8M378.5 195.5h8M382.5 191.5v8M378.5 191.5l8 8M378.5 199.5l8 -8M378.8 195.9h8M382.8 191.9v8M378.8 191.9l8 8M378.8 199.9l8 -8M379.2 195.1h8M383.2 191.1v8M379.2 191.1l8 8M379.2 199.1l8 -8M379.5 195.4h8M383.5 191.4v8M379.5 191.4l8 8M379.5 199.4l8 -8M379.9 196.1h8M383.9 192.1v8M379.9 192.1l8 8M379.9 200.1l8 -8M380.2 194.8h8M384.2 190.8v8M380.2 190.8l8 8M380.2 198.8l8 -8M380.5 196.1h8M384.5 192.1v8M380.5 192.1l8 8M380.5 200.1l8 -8M380.9 197h8M384.9 193v8M380.9 193l8 8M380.9 201l8 -8M381.2 195.1h8M385.2 191.1v8M381.2 191.1l8 8M381.2 199.1l8 -8M381.5 195.7h8M385.5 191.7v8M381.5 191.7l8 8M381.5 199.7l8 -8M381.8 195.5h8M385.8 191.5v8M381.8 191.5l8 8M381.8 199.5l8 -8M382.1 196.8h8M386.1 192.8v8M382.1 192.8l8 8M382.1 200.8l8 -8M382.5 195.9h8M386.5 191.9v8M382.5 191.9l8 8M382.5 199.9l8 -8M382.8 196.3h8M386.8 192.3v8M382.8 192.3l8 8M382.8 200.3l8 -8M383.1 195.1h8M387.1 191.1v8M383.1 191.1l8 8M383.1 199.1l8 -8M383.4 195.7h8M387.4 191.7v8M383.4 191.7l8 8M383.4 199.7l8 -8M383.7 195.7h8M387.7 191.7v8M383.7 191.7l8 8M383.7 199.7l8 -8M384 194.3h8M388 190.3v8M384 190.3l8 8M384 198.3l8 -8M384.3 196.9h8M388.3 192.9v8M384.3 192.9l8 8M384.3 200.9l8 -8M384.6 196.5h8M388.6 192.5v8M384.6 192.5l8 8M384.6 200.5l8 -8M384.8 194.5h8M388.8 190.5v8M384.8 190.5l8 8M384.8 198.5l8 -8M385.1 196.5h8M389.1 192.5v8M385.1 192.5l8 8M385.1 200.5l8 -8M385.4 195.9h8M389.4 191.9v8M385.4 191.9l8 8M385.4 199.9l8 -8M385.7 196.4h8M389.7 192.4v8M385.7 192.4l8 8M385.7 200.4l8 -8M386 196.4h8M390 192.4v8M386 192.4l8 8M386 200.4l8 -8M386.2 195h8M390.2 191v8M386.2 191l8 8M386.2 199l8 -8M386.5 196.1h8M390.5 192.1v8M386.5 192.1l8 8M386.5 200.1l8 -8M386.8 197.5h8M390.8 193.5v8M386.8 193.5l8 8M386.8 201.5l8 -8M387 195.9h8M391 191.9v8M387 191.9l8 8M387 199.9l8 -8M387.3 195.6h8M391.3 191.6v8M387.3 191.6l8 8M387.3 199.6l8 -8M387.6 195.4h8M391.6 191.4v8M387.6 191.4l8 8M387.6 199.4l8 -8M387.8 195.6h8M391.8 191.6v8M387.8 191.6l8 8M387.8 199.6l8 -8M388.1 196.9h8M392.1 192.9v8M388.1 192.9l8 8M388.1 200.9l8 -8M388.3 198.1h8M392.3 194.1v8M388.3 194.1l8 8M388.3 202.1l8 -8M388.6 197.1h8M392.6 193.1v8M388.6 193.1l8 8M388.6 201.1l8 -8M388.8 197.1h8M392.8 193.1v8M388.8 193.1l8 8M388.8 201.1l8 -8M389.1 198.7h8M393.1 194.7v8M389.1 194.7l8 8M389.1 202.7l8 -8M389.3 196.6h8M393.3 192.6v8M389.3 192.6l8 8M389.3 200.6l8 -8M389.6 196.6h8M393.6 192.6v8M389.6 192.6l8 8M389.6 200.6l8 -8M389.8 197.6h8M393.8 193.6v8M389.8 193.6l8 8M389.8 201.6l8 -8M390 197.7h8M394 193.7v8M390 193.7l8 8M390 201.7l8 -8M390.3 196.5h8M394.3 192.5v8M390.3 192.5l8 8M390.3 200.5l8 -8M390.5 196.5h8M394.5 192.5v8M390.5 192.5l8 8M390.5 200.5l8 -8M390.8 197.7h8M394.8 193.7v8M390.8 193.7l8 8M390.8 201.7l8 -8M391 197.8h8M395 193.8v8M391 193.8l8 8M391 201.8l8 -8M391.2 196.6h8M395.2 192.6v8M391.2 192.6l8 8M391.2 200.6l8 -8M391.4 197.6h8M395.4 193.6v8M391.4 193.6l8 8M391.4 201.6l8 -8M391.7 197.4h8M395.7 193.4v8M391.7 193.4l8 8M391.7 201.4l8 -8M391.9 198.3h8M395.9 194.3v8M391.9 194.3l8 8M391.9 202.3l8 -8M392.1 198h8M396.1 194v8M392.1 194l8 8M392.1 202l8 -8M392.3 198.1h8M396.3 194.1v8M392.3 194.1l8 8M392.3 202.1l8 -8M392.6 198h8M396.6 194v8M392.6 194l8 8M392.6 202l8 -8M392.8 199.2h8M396.8 195.2v8M392.8 195.2l8 8M392.8 203.2l8 -8M393 199.6h8M397 195.6v8M393 195.6l8 8M393 203.6l8 -8M393.2 198.3h8M397.2 194.3v8M393.2 194.3l8 8M393.2 202.3l8 -8M393.4 199.4h8M397.4 195.4v8M393.4 195.4l8 8M393.4 203.4l8 -8M393.6 198.2h8M397.6 194.2v8M393.6 194.2l8 8M393.6 202.2l8 -8M393.8 199h8M397.8 195v8M393.8 195l8 8M393.8 203l8 -8M394 199.7h8M398 195.7v8M394 195.7l8 8M394 203.7l8 -8M394.2 200.4h8M398.2 196.4v8M394.2 196.4l8 8M394.2 204.4l8 -8M394.5 199h8M398.5 195v8M394.5 195l8 8M394.5 203l8 -8M394.7 199.4h8M398.7 195.4v8M394.7 195.4l8 8M394.7 203.4l8 -8M394.9 199.7h8M398.9 195.7v8M394.9 195.7l8 8M394.9 203.7l8 -8M395.1 198.5h8M399.1 194.5v8M395.1 194.5l8 8M395.1 202.5l8 -8M395.3 199.8h8M399.3 195.8v8M395.3 195.8l8 8M395.3 203.8l8 -8M395.5 199.4h8M399.5 195.4v8M395.5 195.4l8 8M395.5 203.4l8 -8M395.6 200.4h8M399.6 196.4v8M395.6 196.4l8 8M395.6 204.4l8 -8M395.8 199.3h8M399.8 195.3v8M395.8 195.3l8 8M395.8 203.3l8 -8M396 198.8h8M400 194.8v8M396 194.8l8 8M396 202.8l8 -8M396.2 200.5h8M400.2 196.5v8M396.2 196.5l8 8M396.2 204.5l8 -8M396.4 200.8h8M400.4 196.8v8M396.4 196.8l8 8M396.4 204.8l8 -8M396.6 200.3h8M400.6 196.3v8M396.6 196.3l8 8M396.6 204.3l8 -8M396.8 201.6h8M400.8 197.6v8M396.8 197.6l8 8M396.8 205.6l8 -8M397 200.8h8M401 196.8v8M397 196.8l8 8M397 204.8l8 -8M397.2 200.7h8M401.2 196.7v8M397.2 196.7l8 8M397.2 204.7l8 -8M397.4 201.7h8M401.4 197.7v8M397.4 197.7l8 8M397.4 205.7l8 -8M397.5 200.2h8M401.5 196.2v8M397.5 196.2l8 8M397.5 204.2l8 -8M397.7 201h8M401.7 197v8M397.7 197l8 8M397.7 205l8 -8M397.9 201.7h8M401.9 197.7v8M397.9 197.7l8 8M397.9 205.7l8 -8M398.1 202.5h8M402.1 198.5v8M398.1 198.5l8 8M398.1 206.5l8 -8M398.3 201.8h8M402.3 197.8v8M398.3 197.8l8 8M398.3 205.8l8 -8M398.4 202.4h8M402.4 198.4v8M398.4 198.4l8 8M398.4 206.4l8 -8M398.6 201.7h8M402.6 197.7v8M398.6 197.7l8 8M398.6 205.7l8 -8M398.8 202.6h8M402.8 198.6v8M398.8 198.6l8 8M398.8 206.6l8 -8M399 203.9h8M403 199.9v8M399 199.9l8 8M399 207.9l8 -8M399.1 202.2h8M403.1 198.2v8M399.1 198.2l8 8M399.1 206.2l8 -8M399.3 204.8h8M403.3 200.8v8M399.3 200.8l8 8M399.3 208.8l8 -8M399.5 202.5h8M403.5 198.5v8M399.5 198.5l8 8M399.5 206.5l8 -8M399.7 203.2h8M403.7 199.2v8M399.7 199.2l8 8M399.7 207.2l8 -8M399.8 203.5h8M403.8 199.5v8M399.8 199.5l8 8M399.8 207.5l8 -8M400 204.3h8M404 200.3v8M400 200.3l8 8M400 208.3l8 -8M400.2 202.7h8M404.2 198.7v8M400.2 198.7l8 8M400.2 206.7l8 -8M400.3 202.2h8M404.3 198.2v8M400.3 198.2l8 8M400.3 206.2l8 -8M400.5 204.5h8M404.5 200.5v8M400.5 200.5l8 8M400.5 208.5l8 -8M400.7 204.8h8M404.7 200.8v8M400.7 200.8l8 8M400.7 208.8l8 -8M400.8 204.9h8M404.8 200.9v8M400.8 200.9l8 8M400.8 208.9l8 -8M401 206.7h8M405 202.7v8M401 202.7l8 8M401 210.7l8 -8M401.2 204.9h8M405.2 200.9v8M401.2 200.9l8 8M401.2 208.9l8 -8M401.3 205.1h8M405.3 201.1v8M401.3 201.1l8 8M401.3 209.1l8 -8M401.5 205.8h8M405.5 201.8v8M401.5 201.8l8 8M401.5 209.8l8 -8M401.6 205.6h8M405.6 201.6v8M401.6 201.6l8 8M401.6 209.6l8 -8M401.8 206.8h8M405.8 202.8v8M401.8 202.8l8 8M401.8 210.8l8 -8M402 204.7h8M406 200.7v8M402 200.7l8 8M402 208.7l8 -8M402.1 205.6h8M406.1 201.6v8M402.1 201.6l8 8M402.1 209.6l8 -8M402.3 203.3h8M406.3 199.3v8M402.3 199.3l8 8M402.3 207.3l8 -8M402.4 206.9h8M406.4 202.9v8M402.4 202.9l8 8M402.4 210.9l8 -8M402.6 206.1h8M406.6 202.1v8M402.6 202.1l8 8M402.6 210.1l8 -8M402.7 207.4h8M406.7 203.4v8M402.7 203.4l8 8M402.7 211.4l8 -8M402.9 208.6h8M406.9 204.6v8M402.9 204.6l8 8M402.9 212.6l8 -8M403 207h8M407 203v8M403 203l8 8M403 211l8 -8M403.2 207.1h8M407.2 203.1v8M403.2 203.1l8 8M403.2 211.1l8 -8M403.3 207.1h8M407.3 203.1v8M403.3 203.1l8 8M403.3 211.1l8 -8M403.5 207h8M407.5 203v8M403.5 203l8 8M403.5 211l8 -8M403.6 207.4h8M407.6 203.4v8M403.6 203.4l8 8M403.6 211.4l8 -8M403.8 208.6h8M407.8 204.6v8M403.8 204.6l8 8M403.8 212.6l8 -8M403.9 208.3h8M407.9 204.3v8M403.9 204.3l8 8M403.9 212.3l8 -8M404.1 208.6h8M408.1 204.6v8M404.1 204.6l8 8M404.1 212.6l8 -8M404.2 208.6h8M408.2 204.6v8M404.2 204.6l8 8M404.2 212.6l8 -8M404.4 209.7h8M408.4 205.7v8M404.4 205.7l8 8M404.4 213.7l8 -8M404.5 209.6h8M408.5 205.6v8M404.5 205.6l8 8M404.5 213.6l8 -8M404.6 209.3h8M408.6 205.3v8M404.6 205.3l8 8M404.6 213.3l8 -8M404.8 210.2h8M408.8 206.2v8M404.8 206.2l8 8M404.8 214.2l8 -8M404.9 209.8h8M408.9 205.8v8M404.9 205.8l8 8M404.9 213.8l8 -8M405.1 209.2h8M409.1 205.2v8M405.1 205.2l8 8M405.1 213.2l8 -8M405.2 211.5h8M409.2 207.5v8M405.2 207.5l8 8M405.2 215.5l8 -8M405.4 211h8M409.4 207v8M405.4 207l8 8M405.4 215l8 -8M405.5 210.1h8M409.5 206.1v8M405.5 206.1l8 8M405.5 214.1l8 -8M405.6 212h8M409.6 208v8M405.6 208l8 8M405.6 216l8 -8M405.8 211.6h8M409.8 207.6v8M405.8 207.6l8 8M405.8 215.6l8 -8M405.9 210.4h8M409.9 206.4v8M405.9 206.4l8 8M405.9 214.4l8 -8M406 213.2h8M410 209.2v8M406 209.2l8 8M406 217.2l8 -8M406.2 212.4h8M410.2 208.4v8M406.2 208.4l8 8M406.2 216.4l8 -8M406.3 213.1h8M410.3 209.1v8M406.3 209.1l8 8M406.3 217.1l8 -8M406.5 212.9h8M410.5 208.9v8M406.5 208.9l8 8M406.5 216.9l8 -8M406.6 212.9h8M410.6 208.9v8M406.6 208.9l8 8M406.6 216.9l8 -8M406.7 212h8M410.7 208v8M406.7 208l8 8M406.7 216l8 -8M406.9 214.4h8M410.9 210.4v8M406.9 210.4l8 8M406.9 218.4l8 -8M407 213.9h8M411 209.9v8M407 209.9l8 8M407 217.9l8 -8M407.1 213.9h8M411.1 209.9v8M407.1 209.9l8 8M407.1 217.9l8 -8M407.2 214.8h8M411.2 210.8v8M407.2 210.8l8 8M407.2 218.8l8 -8M407.4 214.9h8M411.4 210.9v8M407.4 210.9l8 8M407.4 218.9l8 -8M407.5 215.7h8M411.5 211.7v8M407.5 211.7l8 8M407.5 219.7l8 -8M407.6 215.2h8M411.6 211.2v8M407.6 211.2l8 8M407.6 219.2l8 -8M407.8 215.8h8M411.8 211.8v8M407.8 211.8l8 8M407.8 219.8l8 -8M407.9 214.4h8M411.9 210.4v8M407.9 210.4l8 8M407.9 218.4l8 -8M408 216.1h8M412 212.1v8M408 212.1l8 8M408 220.1l8 -8M408.1 217.3h8M412.1 213.3v8M408.1 213.3l8 8M408.1 221.3l8 -8M408.3 218.2h8M412.3 214.2v8M408.3 214.2l8 8M408.3 222.2l8 -8M408.4 217.2h8M412.4 213.2v8M408.4 213.2l8 8M408.4 221.2l8 -8M408.5 217.8h8M412.5 213.8v8M408.5 213.8l8 8M408.5 221.8l8 -8M408.6 219.5h8M412.6 215.5v8M408.6 215.5l8 8M408.6 223.5l8 -8M408.8 218.4h8M412.8 214.4v8M408.8 214.4l8 8M408.8 222.4l8 -8M408.9 219.6h8M412.9 215.6v8M408.9 215.6l8 8M408.9 223.6l8 -8M409 220.7h8M413 216.7v8M409 216.7l8 8M409 224.7l8 -8M409.1 219.8h8M413.1 215.8v8M409.1 215.8l8 8M409.1 223.8l8 -8M409.3 221.2h8M413.3 217.2v8M409.3 217.2l8 8M409.3 225.2l8 -8M409.4 220h8M413.4 216v8M409.4 216l8 8M409.4 224l8 -8M409.5 221.1h8M413.5 217.1v8M409.5 217.1l8 8M409.5 225.1l8 -8M409.6 221.3h8M413.6 217.3v8M409.6 217.3l8 8M409.6 225.3l8 -8M409.7 221.9h8M413.7 217.9v8M409.7 217.9l8 8M409.7 225.9l8 -8M409.9 223.2h8M413.9 219.2v8M409.9 219.2l8 8M409.9 227.2l8 -8M410 224.6h8M414 220.6v8M410 220.6l8 8M410 228.6l8 -8M410.1 222.6h8M414.1 218.6v8M410.1 218.6l8 8M410.1 226.6l8 -8M410.2 223.2h8M414.2 219.2v8M410.2 219.2l8 8M410.2 227.2l8 -8M410.3 224.5h8M414.3 220.5v8M410.3 220.5l8 8M410.3 228.5l8 -8M410.5 223.8h8M414.5 219.8v8M410.5 219.8l8 8M410.5 227.8l8 -8M410.6 225.6h8M414.6 221.6v8M410.6 221.6l8 8M410.6 229.6l8 -8M410.7 226.2h8M414.7 222.2v8M410.7 222.2l8 8M410.7 230.2l8 -8M410.8 226.1h8M414.8 222.1v8M410.8 222.1l8 8M410.8 230.1l8 -8M410.9 227.3h8M414.9 223.3v8M410.9 223.3l8 8M410.9 231.3l8 -8M411 226.2h8M415 222.2v8M411 222.2l8 8M411 230.2l8 -8M411.1 228.7h8M415.1 224.7v8M411.1 224.7l8 8M411.1 232.7l8 -8M411.3 227.4h8M415.3 223.4v8M411.3 223.4l8 8M411.3 231.4l8 -8M411.4 228.8h8M415.4 224.8v8M411.4 224.8l8 8M411.4 232.8l8 -8M411.5 229.5h8M415.5 225.5v8M411.5 225.5l8 8M411.5 233.5l8 -8M411.6 230.4h8M415.6 226.4v8M411.6 226.4l8 8M411.6 234.4l8 -8M411.7 232.1h8M415.7 228.1v8M411.7 228.1l8 8M411.7 236.1l8 -8M411.8 232.2h8M415.8 228.2v8M411.8 228.2l8 8M411.8 236.2l8 -8M411.9 232.5h8M415.9 228.5v8M411.9 228.5l8 8M411.9 236.5l8 -8M412 234.1h8M416 230.1v8M412 230.1l8 8M412 238.1l8 -8M412.2 235.7h8M416.2 231.7v8M412.2 231.7l8 8M412.2 239.7l8 -8M412.3 235.2h8M416.3 231.2v8M412.3 231.2l8 8M412.3 239.2l8 -8M412.4 236.3h8M416.4 232.3v8M412.4 232.3l8 8M412.4 240.3l8 -8M412.5 237.9h8M416.5 233.9v8M412.5 233.9l8 8M412.5 241.9l8 -8M412.6 238h8M416.6 234v8M412.6 234l8 8M412.6 242l8 -8M412.7 237.7h8M416.7 233.7v8M412.7 233.7l8 8M412.7 241.7l8 -8M412.8 241.8h8M416.8 237.8v8M412.8 237.8l8 8M412.8 245.8l8 -8M412.9 242.7h8M416.9 238.7v8M412.9 238.7l8 8M412.9 246.7l8 -8M413 240.5h8M417 236.5v8M413 236.5l8 8M413 244.5l8 -8M413.1 243.4h8M417.1 239.4v8M413.1 239.4l8 8M413.1 247.4l8 -8M413.2 245.1h8M417.2 241.1v8M413.2 241.1l8 8M413.2 249.1l8 -8M413.3 246.9h8M417.3 242.9v8M413.3 242.9l8 8M413.3 250.9l8 -8M413.4 248.2h8M417.4 244.2v8M413.4 244.2l8 8M413.4 252.2l8 -8M413.6 248.9h8M417.6 244.9v8M413.6 244.9l8 8M413.6 252.9l8 -8M413.7 249.8h8M417.7 245.8v8M413.7 245.8l8 8M413.7 253.8l8 -8M413.8 252.5h8M417.8 248.5v8M413.8 248.5l8 8M413.8 256.5l8 -8M413.9 255.1h8M417.9 251.1v8M413.9 251.1l8 8M413.9 259.1l8 -8M414 254.9h8M418 250.9v8M414 250.9l8 8M414 258.9l8 -8M414.1 256.8h8M418.1 252.8v8M414.1 252.8l8 8M414.1 260.8l8 -8M414.2 259.9h8M418.2 255.9v8M414.2 255.9l8 8M414.2 263.9l8 -8M414.3 259.7h8M418.3 255.7v8M414.3 255.7l8 8M414.3 263.7l8 -8M414.4 264.2h8M418.4 260.2v8M414.4 260.2l8 8M414.4 268.2l8 -8M414.5 266.7h8M418.5 262.7v8M414.5 262.7l8 8M414.5 270.7l8 -8M414.6 271.1h8M418.6 267.1v8M414.6 267.1l8 8M414.6 275.1l8 -8M414.7 272.5h8M418.7 268.5v8M414.7 268.5l8 8M414.7 276.5l8 -8M414.8 275.8h8M418.8 271.8v8M414.8 271.8l8 8M414.8 279.8l8 -8M414.9 281.5h8M418.9 277.5v8M414.9 277.5l8 8M414.9 285.5l8 -8M415 288.4h8M419 284.4v8M415 284.4l8 8M415 292.4l8 -8M415.1 292.4h8M419.1 288.4v8M415.1 288.4l8 8M415.1 296.4l8 -8M415.2 300.6h8M419.2 296.6v8M415.2 296.6l8 8M415.2 304.6l8 -8M415.3 309.1h8M419.3 305.1v8M415.3 305.1l8 8M415.3 313.1l8 -8M415.4 316.5h8M419.4 312.5v8M415.4 312.5l8 8M415.4 320.5l8 -8M415.5 324.2h8M419.5 320.2v8M415.5 320.2l8 8M415.5 328.2l8 -8M415.6 322h8M419.6 318v8M415.6 318l8 8M415.6 326l8 -8M415.7 329.2h8M419.7 325.2v8M415.7 325.2l8 8M415.7 333.2l8 -8M415.8 332.3h8M419.8 328.3v8M415.8 328.3l8 8M415.8 336.3l8 -8" fill="none" stroke="#0000ff" stroke-width="0.7"/>
<path d="M257 248.9h7.5v7.5h-7.5zM288.5 223.2h7.5v7.5h-7.5zM303.2 201.2h7.5v7.5h-7.5zM312.9 196.5h7.5v7.5h-7.5zM320.1 190h7.5v7.5h-7.5zM325.8 183.6h7.5v7.5h-7.5zM330.6 181.4h7.5v7.5h-7.5zM334.7 178.1h7.5v7.5h-7.5zM338.3 174.4h7.5v7.5h-7.5zM341.5 174.4h7.5v7.5h-7.5zM344.4 173.9h7.5v7.5h-7.5zM347 170.5h7.5v7.5h-7.5zM349.4 171.8h7.5v7.5h-7.5zM351.6 170.6h7.5v7.5h-7.5zM353.6 170.1h7.5v7.5h-7.5zM355.5 169.5h7.5v7.5h-7.5zM357.3 169.6h7.5v7.5h-7.5zM359 167.8h7.5v7.5h-7.5zM360.6 168.2h7.5v7.5h-7.5zM362.1 166.8h7.5v7.5h-7.5zM363.6 167.3h7.5v7.5h-7.5zM364.9 165.6h7.5v7.5h-7.5zM366.2 165.8h7.5v7.5h-7.5zM367.5 167h7.5v7.5h-7.5zM368.7 165.7h7.5v7.5h-7.5zM369.8 164.9h7.5v7.5h-7.5zM370.9 163.8h7.5v7.5h-7.5zM372 163.8h7.5v7.5h-7.5zM373 164.4h7.5v7.5h-7.5zM374 164.7h7.5v7.5h-7.5zM374.9 164.1h7.5v7.5h-7.5zM375.9 164h7.5v7.5h-7.5zM376.8 163.3h7.5v7.5h-7.5zM377.6 164.3h7.5v7.5h-7.5zM378.5 162.7h7.5v7.5h-7.5zM379.3 162.4h7.5v7.5h-7.5zM380.1 163.4h7.5v7.5h-7.5zM380.9 162.6h7.5v7.5h-7.5zM381.6 162.2h7.5v7.5h-7.5zM382.4 161.8h7.5v7.5h-7.5zM383.1 162h7.5v7.5h-7.5zM383.8 162.6h7.5v7.5h-7.5zM384.5 162.3h7.5v7.5h-7.5zM385.1 160.9h7.5v7.5h-7.5zM385.8 162.1h7.5v7.5h-7.5zM386.4 161.8h7.5v7.5h-7.5zM387 160.8h7.5v7.5h-7.5zM387.7 162.1h7.5v7.5h-7.5zM388.3 161.2h7.5v7.5h-7.5zM388.8 161.1h7.5v7.5h-7.5zM389.4 161.9h7.5v7.5h-7.5zM390 162.3h7.5v7.5h-7.5zM390.5 160.6h7.5v7.5h-7.5zM391.1 161.4h7.5v7.5h-7.5zM391.6 160.3h7.5v7.5h-7.5zM392.1 162.8h7.5v7.5h-7.5zM392.6 160.5h7.5v7.5h-7.5zM393.1 161.8h7.5v7.5h-7.5zM393.6 160.3h7.5v7.5h-7.5zM394.1 161.4h7.5v7.5h-7.5zM394.6 162.5h7.5v7.5h-7.5zM395.1 158.6h7.5v7.5h-7.5zM395.5 160.3h7.5v7.5h-7.5zM396 161h7.5v7.5h-7.5zM396.4 160.5h7.5v7.5h-7.5zM396.9 160h7.5v7.5h-7.5zM397.3 162.2h7.5v7.5h-7.5zM397.7 160.5h7.5v7.5h-7.5zM398.2 159.1h7.5v7.5h-7.5zM398.6 161.1h7.5v7.5h-7.5zM399 159h7.5v7.5h-7.5zM399.4 161.2h7.5v7.5h-7.5zM399.8 159.8h7.5v7.5h-7.5zM400.2 160.3h7.5v7.5h-7.5zM400.6 161.2h7.5v7.5h-7.5zM400.9 160.3h7.5v7.5h-7.5zM401.3 159h7.5v7.5h-7.5zM401.7 158.7h7.5v7.5h-7.5zM402.1 161h7.5v7.5h-7.5zM402.4 160.6h7.5v7.5h-7.5zM402.8 159.4h7.5v7.5h-7.5zM403.1 160.7h7.5v7.5h-7.5zM403.5 160.4h7.5v7.5h-7.5zM403.8 160.5h7.5v7.5h-7.5zM404.2 158.1h7.5v7.5h-7.5zM404.5 159.7h7.5v7.5h-7.5zM404.8 160.6h7.5v7.5h-7.5zM405.2 160.5h7.5v7.5h-7.5zM405.5 160.6h7.5v7.5h-7.5zM405.8 157.9h7.5v7.5h-7.5zM406.1 160h7.5v7.5h-7.5zM406.5 160.3h7.5v7.5h-7.5zM406.8 161.9h7.5v7.5h-7.5zM407.1 159.1h7.5v7.5h-7.5zM407.4 159.6h7.5v7.5h-7.5zM407.7 159.9h7.5v7.5h-7.5zM408 160.6h7.5v7.5h-7.5zM408.3 159.5h7.5v7.5h-7.5zM408.6 160.8h7.5v7.5h-7.5zM408.9 159.2h7.5v7.5h-7.5zM409.1 160.1h7.5v7.5h-7.5zM409.4 159.5h7.5v7.5h-7.5zM409.7 160h7.5v7.5h-7.5zM410 159.3h7.5v7.5h-7.5zM410.3 158.6h7.5v7.5h-7.5zM410.5 160.8h7.5v7.5h-7.5zM410.8 160.2h7.5v7.5h-7.5zM411.1 159.5h7.5v7.5h-7.5zM411.3 160.1h7.5v7.5h-7.5zM411.6 160.7h7.5v7.5h-7.5zM411.9 159.2h7.5v7.5h-7.5zM412.1 159.9h7.5v7.5h-7.5zM412.4 160.4h7.5v7.5h-7.5zM412.6 160.4h7.5v7.5h-7.5zM412.9 159.7h7.5v7.5h-7.5zM413.1 158.3h7.5v7.5h-7.5zM413.4 161h7.5v7.5h-7.5zM413.6 160.3h7.5v7.5h-7.5zM413.9 160.1h7.5v7.5h-7.5zM414.1 159.9h7.5v7.5h-7.5zM414.4 160.3h7.5v7.5h-7.5zM414.6 159.8h7.5v7.5h-7.5zM414.8 159.3h7.5v7.5h-7.5zM415.1 159.6h7.5v7.5h-7.5zM415.3 159.7h7.5v7.5h-7.5zM415.5 159.7h7.5v7.5h-7.5zM415.7 159.3h7.5v7.5h-7.5zM416 160.7h7.5v7.5h-7.5zM416.2 159.2h7.5v7.5h-7.5zM416.4 160.8h7.5v7.5h-7.5zM416.6 159.5h7.5v7.5h-7.5zM416.9 160.6h7.5v7.5h-7.5zM417.1 161.4h7.5v7.5h-7.5zM417.3 160.5h7.5v7.5h-7.5zM417.5 159.8h7.5v7.5h-7.5zM417.7 160.5h7.5v7.5h-7.5zM417.9 160.6h7.5v7.5h-7.5zM418.1 159.1h7.5v7.5h-7.5zM418.3 160.1h7.5v7.5h-7.5zM418.6 160.7h7.5v7.5h-7.5zM418.8 160.3h7.5v7.5h-7.5zM419 160.8h7.5v7.5h-7.5zM419.2 161.3h7.5v7.5h-7.5zM419.4 161.4h7.5v7.5h-7.5zM419.6 161.6h7.5v7.5h-7.5zM419.8 161.4h7.5v7.5h-7.5zM420 160.7h7.5v7.5h-7.5zM420.2 161h7.5v7.5h-7.5zM420.3 160.9h7.5v7.5h-7.5zM420.5 160.9h7.5v7.5h-7.5zM420.7 161.1h7.5v7.5h-7.5zM420.9 159.9h7.5v7.5h-7.5zM421.1 161.1h7.5v7.5h-7.5zM421.3 161.4h7.5v7.5h-7.5zM421.5 160.7h7.5v7.5h-7.5zM421.7 161.5h7.5v7.5h-7.5zM421.9 162.1h7.5v7.5h-7.5zM422 161.6h7.5v7.5h-7.5zM422.2 163.4h7.5v7.5h-7.5zM422.4 159.8h7.5v7.5h-7.5zM422.6 161.8h7.5v7.5h-7.5zM422.8 160.5h7.5v7.5h-7.5zM422.9 162.9h7.5v7.5h-7.5zM423.1 164.3h7.5v7.5h-7.5zM423.3 160.2h7.5v7.5h-7.5zM423.5 162.4h7.5v7.5h-7.5zM423.6 162.8h7.5v7.5h-7.5zM423.8 162.2h7.5v7.5h-7.5zM424 163h7.5v7.5h-7.5zM424.1 160.8h7.5v7.5h-7.5zM424.3 163.4h7.5v7.5h-7.5zM424.5 163.1h7.5v7.5h-7.5zM424.6 163h7.5v7.5h-7.5zM424.8 162.6h7.5v7.5h-7.5zM425 163.7h7.5v7.5h-7.5zM425.1 162.9h7.5v7.5h-7.5zM425.3 163.6h7.5v7.5h-7.5zM425.5 163.1h7.5v7.5h-7.5zM425.6 161.9h7.5v7.5h-7.5zM425.8 163.8h7.5v7.5h-7.5zM425.9 164.1h7.5v7.5h-7.5zM426.1 164.7h7.5v7.5h-7.5zM426.3 163.5h7.5v7.5h-7.5zM426.4 164.3h7.5v7.5h-7.5zM426.6 165h7.5v7.5h-7.5zM426.7 164.8h7.5v7.5h-7.5zM426.9 165.8h7.5v7.5h-7.5zM427 166.6h7.5v7.5h-7.5zM427.2 164.4h7.5v7.5h-7.5zM427.3 163.8h7.5v7.5h-7.5zM427.5 166.2h7.5v7.5h-7.5zM427.6 166.9h7.5v7.5h-7.5zM427.8 166.6h7.5v7.5h-7.5zM427.9 166.7h7.5v7.5h-7.5zM428.1 165.7h7.5v7.5h-7.5zM428.2 165.8h7.5v7.5h-7.5zM428.4 167.3h7.5v7.5h-7.5zM428.5 166h7.5v7.5h-7.5zM428.7 165.5h7.5v7.5h-7.5zM428.8 166.3h7.5v7.5h-7.5zM429 169.3h7.5v7.5h-7.5zM429.1 169.1h7.5v7.5h-7.5zM429.2 167.2h7.5v7.5h-7.5zM429.4 167.4h7.5v7.5h-7.5zM429.5 168.5h7.5v7.5h-7.5zM429.7 167.9h7.5v7.5h-7.5zM429.8 169.8h7.5v7.5h-7.5zM429.9 169h7.5v7.5h-7.5zM430.1 168.5h7.5v7.5h-7.5zM430.2 170.7h7.5v7.5h-7.5zM430.4 169.5h7.5v7.5h-7.5zM430.5 170.5h7.5v7.5h-7.5zM430.6 170.6h7.5v7.5h-7.5zM430.8 170.7h7.5v7.5h-7.5zM430.9 171.5h7.5v7.5h-7.5zM431 171h7.5v7.5h-7.5zM431.2 170.5h7.5v7.5h-7.5zM431.3 170.5h7.5v7.5h-7.5zM431.4 171.6h7.5v7.5h-7.5zM431.6 172.4h7.5v7.5h-7.5zM431.7 173.4h7.5v7.5h-7.5zM431.8 173.8h7.5v7.5h-7.5zM431.9 174.6h7.5v7.5h-7.5zM432.1 174.7h7.5v7.5h-7.5zM432.2 174.3h7.5v7.5h-7.5zM432.3 174.8h7.5v7.5h-7.5zM432.5 174.1h7.5v7.5h-7.5zM432.6 176h7.5v7.5h-7.5zM432.7 177h7.5v7.5h-7.5zM432.8 177.5h7.5v7.5h-7.5zM433 177.4h7.5v7.5h-7.5zM433.1 177.9h7.5v7.5h-7.5zM433.2 179.2h7.5v7.5h-7.5zM433.3 179h7.5v7.5h-7.5zM433.4 180.1h7.5v7.5h-7.5zM433.6 180.5h7.5v7.5h-7.5zM433.7 180.7h7.5v7.5h-7.5zM433.8 182.2h7.5v7.5h-7.5zM433.9 181.2h7.5v7.5h-7.5zM434.1 182h7.5v7.5h-7.5zM434.2 182.2h7.5v7.5h-7.5zM434.3 182.8h7.5v7.5h-7.5zM434.4 185.3h7.5v7.5h-7.5zM434.5 186.1h7.5v7.5h-7.5zM434.6 185.3h7.5v7.5h-7.5zM434.8 186.4h7.5v7.5h-7.5zM434.9 187.6h7.5v7.5h-7.5zM435 187.9h7.5v7.5h-7.5zM435.1 188.9h7.5v7.5h-7.5zM435.2 187.6h7.5v7.5h-7.5zM435.3 188.8h7.5v7.5h-7.5zM435.5 190.4h7.5v7.5h-7.5zM435.6 191.9h7.5v7.5h-7.5zM435.7 191.6h7.5v7.5h-7.5zM435.8 191.5h7.5v7.5h-7.5zM435.9 192.7h7.5v7.5h-7.5zM436 193.2h7.5v7.5h-7.5zM436.1 193.8h7.5v7.5h-7.5zM436.2 196.4h7.5v7.5h-7.5zM436.4 195.5h7.5v7.5h-7.5zM436.5 196.8h7.5v7.5h-7.5zM436.6 199.3h7.5v7.5h-7.5zM436.7 199.3h7.5v7.5h-7.5zM436.8 199.5h7.5v7.5h-7.5zM436.9 199.5h7.5v7.5h-7.5zM437 201.2h7.5v7.5h-7.5zM437.1 203.1h7.5v7.5h-7.5zM437.2 203.2h7.5v7.5h-7.5zM437.3 204.7h7.5v7.5h-7.5zM437.4 204.8h7.5v7.5h-7.5zM437.5 206.2h7.5v7.5h-7.5zM437.7 206.7h7.5v7.5h-7.5zM437.8 208.4h7.5v7.5h-7.5zM437.9 210.2h7.5v7.5h-7.5zM438 209.3h7.5v7.5h-7.5zM438.1 211.7h7.5v7.5h-7.5zM438.2 213.3h7.5v7.5h-7.5zM438.3 214.1h7.5v7.5h-7.5zM438.4 215.8h7.5v7.5h-7.5zM438.5 218.4h7.5v7.5h-7.5zM438.6 221.5h7.5v7.5h-7.5zM438.7 222.1h7.5v7.5h-7.5zM438.8 224h7.5v7.5h-7.5zM438.9 224h7.5v7.5h-7.5zM439 231.2h7.5v7.5h-7.5zM439.1 231.4h7.5v7.5h-7.5zM439.2 234.1h7.5v7.5h-7.5zM439.3 235.4h7.5v7.5h-7.5zM439.4 240.6h7.5v7.5h-7.5zM439.5 242.4h7.5v7.5h-7.5zM439.6 249.3h7.5v7.5h-7.5zM439.7 254.4h7.5v7.5h-7.5zM439.8 257.6h7.5v7.5h-7.5zM439.9 262.4h7.5v7.5h-7.5zM440 263.9h7.5v7.5h-7.5zM440.1 273.4h7.5v7.5h-7.5zM440.2 272.8h7.5v7.5h-7.5zM440.3 274.3h7.5v7.5h-7.5zM440.4 282.3h7.5v7.5h-7.5zM440.5 285.1h7.5v7.5h-7.5zM440.6 288.8h7.5v7.5h-7.5zM440.7 294.5h7.5v7.5h-7.5zM440.8 300.2h7.5v7.5h-7.5zM440.8 301h7.5v7.5h-7.5zM440.9 307.6h7.5v7.5h-7.5zM441 315.4h7.5v7.5h-7.5zM441.1 317.9h7.5v7.5h-7.5zM441.2 323.6h7.5v7.5h-7.5z" fill="none" stroke="#ff00ff" stroke-width="0.7"/><path d="M260.5 252.6h.6M292 227h.6M306.7 205h.6M316.3 200.3h.6M323.5 193.8h.6M329.3 187.4h.6M334.1 185.2h.6M338.2 181.9h.6M341.8 178.1h.6M344.9 178.2h.6M347.8 177.7h.6M350.4 174.2h.6M352.8 175.5h.6M355 174.3h.6M357.1 173.9h.6M359 173.2h.6M360.8 173.3h.6M362.5 171.6h.6M364.1 172h.6M365.6 170.5h.6M367 171h.6M368.4 169.4h.6M369.7 169.6h.6M370.9 170.7h.6M372.1 169.4h.6M373.3 168.6h.6M374.4 167.6h.6M375.4 167.6h.6M376.5 168.1h.6M377.4 168.5h.6M378.4 167.9h.6M379.3 167.7h.6M380.2 167.1h.6M381.1 168h.6M381.9 166.4h.6M382.8 166.2h.6M383.5 167.2h.6M384.3 166.3h.6M385.1 165.9h.6M385.8 165.6h.6M386.5 165.7h.6M387.2 166.3h.6M387.9 166h.6M388.6 164.7h.6M389.2 165.9h.6M389.9 165.6h.6M390.5 164.6h.6M391.1 165.9h.6M391.7 165h.6M392.3 164.8h.6M392.9 165.7h.6M393.4 166h.6M394 164.4h.6M394.5 165.2h.6M395 164.1h.6M395.6 166.6h.6M396.1 164.3h.6M396.6 165.6h.6M397.1 164h.6M397.6 165.2h.6M398 166.2h.6M398.5 162.4h.6M399 164h.6M399.4 164.7h.6M399.9 164.2h.6M400.3 163.7h.6M400.8 165.9h.6M401.2 164.3h.6M401.6 162.8h.6M402 164.8h.6M402.4 162.7h.6M402.8 165h.6M403.2 163.5h.6M403.6 164.1h.6M404 165h.6M404.4 164h.6M404.8 162.8h.6M405.1 162.5h.6M405.5 164.8h.6M405.9 164.4h.6M406.2 163.1h.6M406.6 164.4h.6M406.9 164.1h.6M407.3 164.2h.6M407.6 161.9h.6M408 163.4h.6M408.3 164.4h.6M408.6 164.2h.6M409 164.3h.6M409.3 161.7h.6M409.6 163.8h.6M409.9 164h.6M410.2 165.6h.6M410.5 162.8h.6M410.8 163.3h.6M411.1 163.6h.6M411.4 164.3h.6M411.7 163.2h.6M412 164.5h.6M412.3 163h.6M412.6 163.8h.6M412.9 163.2h.6M413.2 163.8h.6M413.4 163.1h.6M413.7 162.4h.6M414 164.5h.6M414.3 163.9h.6M414.5 163.2h.6M414.8 163.8h.6M415.1 164.5h.6M415.3 162.9h.6M415.6 163.6h.6M415.8 164.2h.6M416.1 164.2h.6M416.3 163.5h.6M416.6 162.1h.6M416.8 164.8h.6M417.1 164.1h.6M417.3 163.8h.6M417.6 163.6h.6M417.8 164.1h.6M418 163.5h.6M418.3 163.1h.6M418.5 163.3h.6M418.7 163.4h.6M419 163.5h.6M419.2 163h.6M419.4 164.5h.6M419.6 162.9h.6M419.9 164.5h.6M420.1 163.2h.6M420.3 164.3h.6M420.5 165.2h.6M420.7 164.3h.6M421 163.6h.6M421.2 164.2h.6M421.4 164.3h.6M421.6 162.9h.6M421.8 163.8h.6M422 164.5h.6M422.2 164h.6M422.4 164.5h.6M422.6 165.1h.6M422.8 165.2h.6M423 165.3h.6M423.2 165.1h.6M423.4 164.5h.6M423.6 164.8h.6M423.8 164.6h.6M424 164.7h.6M424.2 164.8h.6M424.4 163.7h.6M424.6 164.8h.6M424.7 165.2h.6M424.9 164.5h.6M425.1 165.3h.6M425.3 165.8h.6M425.5 165.3h.6M425.7 167.2h.6M425.8 163.5h.6M426 165.5h.6M426.2 164.3h.6M426.4 166.6h.6M426.6 168h.6M426.7 164h.6M426.9 166.2h.6M427.1 166.6h.6M427.2 166h.6M427.4 166.7h.6M427.6 164.6h.6M427.8 167.2h.6M427.9 166.9h.6M428.1 166.7h.6M428.3 166.3h.6M428.4 167.4h.6M428.6 166.6h.6M428.8 167.3h.6M428.9 166.9h.6M429.1 165.6h.6M429.2 167.5h.6M429.4 167.8h.6M429.6 168.4h.6M429.7 167.3h.6M429.9 168.1h.6M430 168.7h.6M430.2 168.5h.6M430.3 169.6h.6M430.5 170.3h.6M430.6 168.2h.6M430.8 167.5h.6M430.9 169.9h.6M431.1 170.6h.6M431.2 170.3h.6M431.4 170.4h.6M431.5 169.4h.6M431.7 169.6h.6M431.8 171h.6M432 169.8h.6M432.1 169.2h.6M432.3 170.1h.6M432.4 173.1h.6M432.5 172.8h.6M432.7 171h.6M432.8 171.2h.6M433 172.2h.6M433.1 171.7h.6M433.3 173.6h.6M433.4 172.8h.6M433.5 172.2h.6M433.7 174.5h.6M433.8 173.2h.6M433.9 174.2h.6M434.1 174.3h.6M434.2 174.4h.6M434.3 175.3h.6M434.5 174.8h.6M434.6 174.2h.6M434.7 174.3h.6M434.9 175.4h.6M435 176.2h.6M435.1 177.1h.6M435.3 177.6h.6M435.4 178.4h.6M435.5 178.4h.6M435.6 178.1h.6M435.8 178.5h.6M435.9 177.8h.6M436 179.8h.6M436.2 180.7h.6M436.3 181.2h.6M436.4 181.2h.6M436.5 181.6h.6M436.7 183h.6M436.8 182.7h.6M436.9 183.8h.6M437 184.2h.6M437.1 184.5h.6M437.3 185.9h.6M437.4 185h.6M437.5 185.7h.6M437.6 186h.6M437.7 186.6h.6M437.9 189.1h.6M438 189.8h.6M438.1 189.1h.6M438.2 190.2h.6M438.3 191.3h.6M438.4 191.7h.6M438.6 192.7h.6M438.7 191.4h.6M438.8 192.6h.6M438.9 194.2h.6M439 195.7h.6M439.1 195.3h.6M439.2 195.3h.6M439.4 196.4h.6M439.5 196.9h.6M439.6 197.5h.6M439.7 200.2h.6M439.8 199.2h.6M439.9 200.5h.6M440 203h.6M440.1 203.1h.6M440.2 203.2h.6M440.4 203.3h.6M440.5 205h.6M440.6 206.9h.6M440.7 207h.6M440.8 208.5h.6M440.9 208.6h.6M441 209.9h.6M441.1 210.5h.6M441.2 212.1h.6M441.3 214h.6M441.4 213.1h.6M441.5 215.5h.6M441.6 217.1h.6M441.7 217.8h.6M441.8 219.5h.6M441.9 222.1h.6M442 225.2h.6M442.1 225.9h.6M442.2 227.8h.6M442.3 227.7h.6M442.4 235h.6M442.5 235.1h.6M442.6 237.9h.6M442.7 239.1h.6M442.8 244.4h.6M442.9 246.1h.6M443 253h.6M443.1 258.1h.6M443.2 261.3h.6M443.3 266.1h.6M443.4 267.7h.6M443.5 277.2h.6M443.6 276.5h.6M443.7 278.1h.6M443.8 286h.6M443.9 288.9h.6M444 292.5h.6M444.1 298.2h.6M444.2 303.9h.6M444.3 304.7h.6M444.4 311.3h.6M444.5 319.2h.6M444.6 321.6h.6M444.7 327.4h.6" stroke="#ff00ff" stroke-width=".6" fill="none" opacity=".6"/>
<path d="M283.6 226.2h8v8h-8zM315.1 193.6h8v8h-8zM329.8 177.6h8v8h-8zM339.4 167.4h8v8h-8zM346.6 157.6h8v8h-8zM352.4 149.6h8v8h-8zM357.2 147.1h8v8h-8zM361.3 142.7h8v8h-8zM364.9 140.8h8v8h-8zM368.1 137.4h8v8h-8zM370.9 136.3h8v8h-8zM373.5 136.6h8v8h-8zM375.9 132.9h8v8h-8zM378.1 131.8h8v8h-8zM380.2 130.8h8v8h-8zM382.1 129.2h8v8h-8zM383.9 128.9h8v8h-8zM385.6 130h8v8h-8zM387.2 128.6h8v8h-8zM388.7 127.1h8v8h-8zM390.1 126.9h8v8h-8zM391.5 128.1h8v8h-8zM392.8 126.6h8v8h-8zM394 126.5h8v8h-8zM395.2 126.7h8v8h-8zM396.4 127.2h8v8h-8zM397.5 127.4h8v8h-8zM398.5 126.4h8v8h-8zM399.6 125.5h8v8h-8zM400.6 125.3h8v8h-8zM401.5 126.3h8v8h-8zM402.4 125.8h8v8h-8zM403.3 124.2h8v8h-8zM404.2 124.7h8v8h-8zM405 124.4h8v8h-8zM405.9 124h8v8h-8zM406.7 123.4h8v8h-8zM407.4 122.6h8v8h-8zM408.2 123.1h8v8h-8zM408.9 122.1h8v8h-8zM409.6 124.2h8v8h-8zM410.3 123.5h8v8h-8zM411 122h8v8h-8zM411.7 124h8v8h-8zM412.3 123.5h8v8h-8zM413 121.1h8v8h-8zM413.6 124h8v8h-8zM414.2 123.1h8v8h-8zM414.8 123.9h8v8h-8zM415.4 121.2h8v8h-8zM416 122.5h8v8h-8zM416.5 122.3h8v8h-8zM417.1 122.1h8v8h-8zM417.6 122h8v8h-8zM418.2 122.6h8v8h-8zM418.7 120.5h8v8h-8zM419.2 120.6h8v8h-8zM419.7 120.4h8v8h-8zM420.2 121h8v8h-8zM420.7 120.9h8v8h-8zM421.2 121.6h8v8h-8zM421.6 121.4h8v8h-8zM422.1 121.2h8v8h-8zM422.5 120.6h8v8h-8zM423 120.7h8v8h-8zM423.4 121.8h8v8h-8zM423.9 121.6h8v8h-8zM424.3 121h8v8h-8zM424.7 120.6h8v8h-8zM425.1 122.1h8v8h-8zM425.5 120.3h8v8h-8zM425.9 121.3h8v8h-8zM426.3 121.7h8v8h-8zM426.7 120.5h8v8h-8zM427.1 121.3h8v8h-8zM427.5 119.7h8v8h-8zM427.9 121.4h8v8h-8zM428.3 120.7h8v8h-8zM428.6 119.2h8v8h-8zM429 121h8v8h-8zM429.3 119.7h8v8h-8zM429.7 121.4h8v8h-8zM430 119.9h8v8h-8zM430.4 120.2h8v8h-8zM430.7 120.6h8v8h-8zM431.1 120.1h8v8h-8zM431.4 120.5h8v8h-8zM431.7 119.8h8v8h-8zM432.1 120.8h8v8h-8zM432.4 120.3h8v8h-8zM432.7 120.4h8v8h-8zM433 118h8v8h-8zM433.3 121.1h8v8h-8zM433.6 120.2h8v8h-8zM433.9 118.8h8v8h-8zM434.2 120.3h8v8h-8zM434.5 120.6h8v8h-8zM434.8 121.1h8v8h-8zM435.1 119.3h8v8h-8zM435.4 121.4h8v8h-8zM435.7 120.1h8v8h-8zM436 122.1h8v8h-8zM436.3 120.1h8v8h-8zM436.6 120.8h8v8h-8zM436.8 120h8v8h-8zM437.1 119.4h8v8h-8zM437.4 121.2h8v8h-8zM437.6 121.1h8v8h-8zM437.9 121.6h8v8h-8zM438.2 121.1h8v8h-8zM438.4 120h8v8h-8zM438.7 119.1h8v8h-8zM438.9 120h8v8h-8zM439.2 120h8v8h-8zM439.5 119.9h8v8h-8zM439.7 121h8v8h-8zM439.9 120.9h8v8h-8zM440.2 120.4h8v8h-8zM440.4 120.8h8v8h-8zM440.7 120.6h8v8h-8zM440.9 120.9h8v8h-8zM441.2 121.4h8v8h-8zM441.4 121.6h8v8h-8zM441.6 120.3h8v8h-8zM441.9 119.7h8v8h-8zM442.1 122h8v8h-8zM442.3 121h8v8h-8zM442.5 121.9h8v8h-8zM442.8 119.7h8v8h-8zM443 120.8h8v8h-8zM443.2 121.1h8v8h-8zM443.4 120h8v8h-8zM443.6 120.8h8v8h-8zM443.9 121.8h8v8h-8zM444.1 122.2h8v8h-8zM444.3 122.6h8v8h-8zM444.5 120.7h8v8h-8zM444.7 120.4h8v8h-8zM444.9 122h8v8h-8zM445.1 122.4h8v8h-8zM445.3 121.9h8v8h-8zM445.5 120.7h8v8h-8zM445.7 122.5h8v8h-8zM445.9 122.5h8v8h-8zM446.1 122.4h8v8h-8zM446.3 121.7h8v8h-8zM446.5 122.4h8v8h-8zM446.7 122.9h8v8h-8zM446.9 121.9h8v8h-8zM447.1 120.9h8v8h-8zM447.3 122.7h8v8h-8zM447.5 122.9h8v8h-8zM447.7 122.7h8v8h-8zM447.9 123.4h8v8h-8zM448 122.4h8v8h-8zM448.2 122.8h8v8h-8zM448.4 122.8h8v8h-8zM448.6 123.6h8v8h-8zM448.8 124.5h8v8h-8zM449 123.1h8v8h-8zM449.1 125h8v8h-8zM449.3 124.7h8v8h-8zM449.5 124.2h8v8h-8zM449.7 124.1h8v8h-8zM449.8 125.2h8v8h-8zM450 123.7h8v8h-8zM450.2 123.9h8v8h-8zM450.4 123.2h8v8h-8zM450.5 124.6h8v8h-8zM450.7 125.4h8v8h-8zM450.9 124.8h8v8h-8zM451 124.9h8v8h-8zM451.2 124.5h8v8h-8zM451.4 124.9h8v8h-8zM451.5 123.8h8v8h-8zM451.7 125.9h8v8h-8zM451.9 124.8h8v8h-8zM452 124.4h8v8h-8zM452.2 124.9h8v8h-8zM452.3 124.9h8v8h-8zM452.5 126.4h8v8h-8zM452.7 126.8h8v8h-8zM452.8 125h8v8h-8zM453 127h8v8h-8zM453.1 127.1h8v8h-8zM453.3 126.1h8v8h-8zM453.4 125.6h8v8h-8zM453.6 126.3h8v8h-8zM453.7 126.6h8v8h-8zM453.9 127.6h8v8h-8zM454.1 127.2h8v8h-8zM454.2 126.1h8v8h-8zM454.4 128.1h8v8h-8zM454.5 126.9h8v8h-8zM454.6 129h8v8h-8zM454.8 127.5h8v8h-8zM454.9 128.1h8v8h-8zM455.1 128.2h8v8h-8zM455.2 128.7h8v8h-8zM455.4 130.4h8v8h-8zM455.5 130.2h8v8h-8zM455.7 130.3h8v8h-8zM455.8 130.3h8v8h-8zM455.9 129h8v8h-8zM456.1 130h8v8h-8zM456.2 130.2h8v8h-8zM456.4 130.1h8v8h-8zM456.5 131.6h8v8h-8zM456.6 130.8h8v8h-8zM456.8 131.1h8v8h-8zM456.9 131h8v8h-8zM457.1 130.5h8v8h-8zM457.2 132.9h8v8h-8zM457.3 133.7h8v8h-8zM457.5 133h8v8h-8zM457.6 132.4h8v8h-8zM457.7 131.3h8v8h-8zM457.9 133.9h8v8h-8zM458 135h8v8h-8zM458.1 134.6h8v8h-8zM458.2 135.4h8v8h-8zM458.4 136.2h8v8h-8zM458.5 136.3h8v8h-8zM458.6 135.4h8v8h-8zM458.8 136.9h8v8h-8zM458.9 137.1h8v8h-8zM459 135.6h8v8h-8zM459.1 136.9h8v8h-8zM459.3 136.5h8v8h-8zM459.4 138h8v8h-8zM459.5 139h8v8h-8zM459.6 138.1h8v8h-8zM459.8 137.7h8v8h-8zM459.9 140.9h8v8h-8zM460 140.6h8v8h-8zM460.1 141.9h8v8h-8zM460.3 140.2h8v8h-8zM460.4 142.6h8v8h-8zM460.5 143.9h8v8h-8zM460.6 144.3h8v8h-8zM460.7 143h8v8h-8zM460.9 143.9h8v8h-8zM461 144.1h8v8h-8zM461.1 145.6h8v8h-8zM461.2 146.1h8v8h-8zM461.3 145.9h8v8h-8zM461.4 145.3h8v8h-8zM461.6 147.6h8v8h-8zM461.7 147.2h8v8h-8zM461.8 148.7h8v8h-8zM461.9 149.1h8v8h-8zM462 150.8h8v8h-8zM462.1 151.1h8v8h-8zM462.2 150.6h8v8h-8zM462.4 152h8v8h-8zM462.5 153.9h8v8h-8zM462.6 152.9h8v8h-8zM462.7 154.6h8v8h-8zM462.8 156.1h8v8h-8zM462.9 157.1h8v8h-8zM463 157.4h8v8h-8zM463.1 157h8v8h-8zM463.2 158h8v8h-8zM463.4 160.3h8v8h-8zM463.5 161.6h8v8h-8zM463.6 164.4h8v8h-8zM463.7 163h8v8h-8zM463.8 166h8v8h-8zM463.9 167.3h8v8h-8zM464 166.8h8v8h-8zM464.1 169.4h8v8h-8zM464.2 172.3h8v8h-8zM464.3 173.6h8v8h-8zM464.4 176.1h8v8h-8zM464.5 179h8v8h-8zM464.6 179.6h8v8h-8zM464.7 183.4h8v8h-8zM464.8 184.2h8v8h-8zM464.9 186.6h8v8h-8zM465 190.4h8v8h-8zM465.1 191.4h8v8h-8zM465.3 195.3h8v8h-8zM465.4 200.2h8v8h-8zM465.5 200.8h8v8h-8zM465.6 203.7h8v8h-8zM465.7 209h8v8h-8zM465.8 210.7h8v8h-8zM465.9 218.4h8v8h-8zM466 217.2h8v8h-8zM466.1 227.9h8v8h-8zM466.2 230.3h8v8h-8zM466.3 235.7h8v8h-8zM466.4 251.3h8v8h-8zM466.4 248.5h8v8h-8zM466.5 264.3h8v8h-8zM466.6 266.9h8v8h-8zM466.7 276.2h8v8h-8zM466.8 274h8v8h-8zM466.9 288.3h8v8h-8zM467 295.7h8v8h-8zM467.1 296.6h8v8h-8zM467.2 303.1h8v8h-8zM467.3 318.8h8v8h-8zM467.4 317.2h8v8h-8zM467.5 321.5h8v8h-8zM467.6 328.3h8v8h-8z" fill="#00ffff" stroke="none"/>
<path d="M320 192.1a3.75 3.75 0 1 0 7.5 0a3.75 3.75 0 1 0 -7.5 0M351.6 161.5a3.75 3.75 0 1 0 7.5 0a3.75 3.75 0 1 0 -7.5 0M366.2 142a3.75 3.75 0 1 0 7.5 0a3.75 3.75 0 1 0 -7.5 0M375.9 125.2a3.75 3.75 0 1 0 7.5 0a3.75 3.75 0 1 0 -7.5 0M383.1 119.2a3.75 3.75 0 1 0 7.5 0a3.75 3.75 0 1 0 -7.5 0M388.8 110.8a3.75 3.75 0 1 0 7.5 0a3.75 3.75 0 1 0 -7.5 0M393.6 107.1a3.75 3.75 0 1 0 7.5 0a3.75 3.75 0 1 0 -7.5 0M397.7 104.5a3.75 3.75 0 1 0 7.5 0a3.75 3.75 0 1 0 -7.5 0M401.3 99.8a3.75 3.75 0 1 0 7.5 0a3.75 3.75 0 1 0 -7.5 0M404.5 99.3a3.75 3.75 0 1 0 7.5 0a3.75 3.75 0 1 0 -7.5 0M407.4 98.3a3.75 3.75 0 1 0 7.5 0a3.75 3.75 0 1 0 -7.5 0M410 94.3a3.75 3.75 0 1 0 7.5 0a3.75 3.75 0 1 0 -7.5 0M412.4 93.1a3.75 3.75 0 1 0 7.5 0a3.75 3.75 0 1 0 -7.5 0M414.6 92a3.75 3.75 0 1 0 7.5 0a3.75 3.75 0 1 0 -7.5 0M416.6 90.3a3.75 3.75 0 1 0 7.5 0a3.75 3.75 0 1 0 -7.5 0M418.5 91.2a3.75 3.75 0 1 0 7.5 0a3.75 3.75 0 1 0 -7.5 0M420.3 88.5a3.75 3.75 0 1 0 7.5 0a3.75 3.75 0 1 0 -7.5 0M422 89.6a3.75 3.75 0 1 0 7.5 0a3.75 3.75 0 1 0 -7.5 0M423.6 89.6a3.75 3.75 0 1 0 7.5 0a3.75 3.75 0 1 0 -7.5 0M425.1 86.5a3.75 3.75 0 1 0 7.5 0a3.75 3.75 0 1 0 -7.5 0M426.6 87a3.75 3.75 0 1 0 7.5 0a3.75 3.75 0 1 0 -7.5 0M427.9 85.1a3.75 3.75 0 1 0 7.5 0a3.75 3.75 0 1 0 -7.5 0M429.2 86.8a3.75 3.75 0 1 0 7.5 0a3.75 3.75 0 1 0 -7.5 0M430.5 85.1a3.75 3.75 0 1 0 7.5 0a3.75 3.75 0 1 0 -7.5 0M431.7 85a3.75 3.75 0 1 0 7.5 0a3.75 3.75 0 1 0 -7.5 0M432.8 84.8a3.75 3.75 0 1 0 7.5 0a3.75 3.75 0 1 0 -7.5 0M433.9 84.8a3.75 3.75 0 1 0 7.5 0a3.75 3.75 0 1 0 -7.5 0M435 83.7a3.75 3.75 0 1 0 7.5 0a3.75 3.75 0 1 0 -7.5 0M436 83.6a3.75 3.75 0 1 0 7.5 0a3.75 3.75 0 1 0 -7.5 0M437 82.8a3.75 3.75 0 1 0 7.5 0a3.75 3.75 0 1 0 -7.5 0M438 83a3.75 3.75 0 1 0 7.5 0a3.75 3.75 0 1 0 -7.5 0M438.9 81.6a3.75 3.75 0 1 0 7.5 0a3.75 3.75 0 1 0 -7.5 0M439.8 82.3a3.75 3.75 0 1 0 7.5 0a3.75 3.75 0 1 0 -7.5 0M440.6 80.4a3.75 3.75 0 1 0 7.5 0a3.75 3.75 0 1 0 -7.5 0M441.5 81.2a3.75 3.75 0 1 0 7.5 0a3.75 3.75 0 1 0 -7.5 0M442.3 82.9a3.75 3.75 0 1 0 7.5 0a3.75 3.75 0 1 0 -7.5 0M443.1 81.2a3.75 3.75 0 1 0 7.5 0a3.75 3.75 0 1 0 -7.5 0M443.9 79.9a3.75 3.75 0 1 0 7.5 0a3.75 3.75 0 1 0 -7.5 0M444.6 80.9a3.75 3.75 0 1 0 7.5 0a3.75 3.75 0 1 0 -7.5 0M445.4 79.7a3.75 3.75 0 1 0 7.5 0a3.75 3.75 0 1 0 -7.5 0M446.1 79a3.75 3.75 0 1 0 7.5 0a3.75 3.75 0 1 0 -7.5 0M446.8 79.6a3.75 3.75 0 1 0 7.5 0a3.75 3.75 0 1 0 -7.5 0M447.5 80.6a3.75 3.75 0 1 0 7.5 0a3.75 3.75 0 1 0 -7.5 0M448.1 80.2a3.75 3.75 0 1 0 7.5 0a3.75 3.75 0 1 0 -7.5 0M448.8 79.7a3.75 3.75 0 1 0 7.5 0a3.75 3.75 0 1 0 -7.5 0M449.4 78.9a3.75 3.75 0 1 0 7.5 0a3.75 3.75 0 1 0 -7.5 0M450 78.6a3.75 3.75 0 1 0 7.5 0a3.75 3.75 0 1 0 -7.5 0M450.7 80.5a3.75 3.75 0 1 0 7.5 0a3.75 3.75 0 1 0 -7.5 0M451.3 79.5a3.75 3.75 0 1 0 7.5 0a3.75 3.75 0 1 0 -7.5 0M451.8 78.4a3.75 3.75 0 1 0 7.5 0a3.75 3.75 0 1 0 -7.5 0M452.4 77.4a3.75 3.75 0 1 0 7.5 0a3.75 3.75 0 1 0 -7.5 0M453 77.9a3.75 3.75 0 1 0 7.5 0a3.75 3.75 0 1 0 -7.5 0M453.5 80.9a3.75 3.75 0 1 0 7.5 0a3.75 3.75 0 1 0 -7.5 0M454.1 77.9a3.75 3.75 0 1 0 7.5 0a3.75 3.75 0 1 0 -7.5 0M454.6 78.7a3.75 3.75 0 1 0 7.5 0a3.75 3.75 0 1 0 -7.5 0M455.1 78.8a3.75 3.75 0 1 0 7.5 0a3.75 3.75 0 1 0 -7.5 0M455.6 78.5a3.75 3.75 0 1 0 7.5 0a3.75 3.75 0 1 0 -7.5 0M456.1 78.3a3.75 3.75 0 1 0 7.5 0a3.75 3.75 0 1 0 -7.5 0M456.6 77.4a3.75 3.75 0 1 0 7.5 0a3.75 3.75 0 1 0 -7.5 0M457.1 77.6a3.75 3.75 0 1 0 7.5 0a3.75 3.75 0 1 0 -7.5 0M457.6 79.7a3.75 3.75 0 1 0 7.5 0a3.75 3.75 0 1 0 -7.5 0M458.1 77.7a3.75 3.75 0 1 0 7.5 0a3.75 3.75 0 1 0 -7.5 0M458.5 79a3.75 3.75 0 1 0 7.5 0a3.75 3.75 0 1 0 -7.5 0M459 76.9a3.75 3.75 0 1 0 7.5 0a3.75 3.75 0 1 0 -7.5 0M459.4 78a3.75 3.75 0 1 0 7.5 0a3.75 3.75 0 1 0 -7.5 0M459.9 78.4a3.75 3.75 0 1 0 7.5 0a3.75 3.75 0 1 0 -7.5 0M460.3 78.9a3.75 3.75 0 1 0 7.5 0a3.75 3.75 0 1 0 -7.5 0M460.7 77.2a3.75 3.75 0 1 0 7.5 0a3.75 3.75 0 1 0 -7.5 0M461.2 78.5a3.75 3.75 0 1 0 7.5 0a3.75 3.75 0 1 0 -7.5 0M461.6 78.3a3.75 3.75 0 1 0 7.5 0a3.75 3.75 0 1 0 -7.5 0M462 77.4a3.75 3.75 0 1 0 7.5 0a3.75 3.75 0 1 0 -7.5 0M462.4 78.3a3.75 3.75 0 1 0 7.5 0a3.75 3.75 0 1 0 -7.5 0M462.8 77.2a3.75 3.75 0 1 0 7.5 0a3.75 3.75 0 1 0 -7.5 0M463.2 77.2a3.75 3.75 0 1 0 7.5 0a3.75 3.75 0 1 0 -7.5 0M463.6 77.8a3.75 3.75 0 1 0 7.5 0a3.75 3.75 0 1 0 -7.5 0M463.9 75.6a3.75 3.75 0 1 0 7.5 0a3.75 3.75 0 1 0 -7.5 0M464.3 77.7a3.75 3.75 0 1 0 7.5 0a3.75 3.75 0 1 0 -7.5 0M464.7 76.9a3.75 3.75 0 1 0 7.5 0a3.75 3.75 0 1 0 -7.5 0M465.1 76.5a3.75 3.75 0 1 0 7.5 0a3.75 3.75 0 1 0 -7.5 0M465.4 77.3a3.75 3.75 0 1 0 7.5 0a3.75 3.75 0 1 0 -7.5 0M465.8 78.3a3.75 3.75 0 1 0 7.5 0a3.75 3.75 0 1 0 -7.5 0M466.1 77.3a3.75 3.75 0 1 0 7.5 0a3.75 3.75 0 1 0 -7.5 0M466.5 78.6a3.75 3.75 0 1 0 7.5 0a3.75 3.75 0 1 0 -7.5 0M466.8 76.7a3.75 3.75 0 1 0 7.5 0a3.75 3.75 0 1 0 -7.5 0M467.2 76.5a3.75 3.75 0 1 0 7.5 0a3.75 3.75 0 1 0 -7.5 0M467.5 78.8a3.75 3.75 0 1 0 7.5 0a3.75 3.75 0 1 0 -7.5 0M467.9 77.9a3.75 3.75 0 1 0 7.5 0a3.75 3.75 0 1 0 -7.5 0M468.2 78.3a3.75 3.75 0 1 0 7.5 0a3.75 3.75 0 1 0 -7.5 0M468.5 76.9a3.75 3.75 0 1 0 7.5 0a3.75 3.75 0 1 0 -7.5 0M468.8 78.2a3.75 3.75 0 1 0 7.5 0a3.75 3.75 0 1 0 -7.5 0M469.1 77.7a3.75 3.75 0 1 0 7.5 0a3.75 3.75 0 1 0 -7.5 0M469.5 78a3.75 3.75 0 1 0 7.5 0a3.75 3.75 0 1 0 -7.5 0M469.8 77.5a3.75 3.75 0 1 0 7.5 0a3.75 3.75 0 1 0 -7.5 0M470.1 78.5a3.75 3.75 0 1 0 7.5 0a3.75 3.75 0 1 0 -7.5 0M470.4 77a3.75 3.75 0 1 0 7.5 0a3.75 3.75 0 1 0 -7.5 0M470.7 76.7a3.75 3.75 0 1 0 7.5 0a3.75 3.75 0 1 0 -7.5 0M471 76.3a3.75 3.75 0 1 0 7.5 0a3.75 3.75 0 1 0 -7.5 0M471.3 78.4a3.75 3.75 0 1 0 7.5 0a3.75 3.75 0 1 0 -7.5 0M471.6 76.9a3.75 3.75 0 1 0 7.5 0a3.75 3.75 0 1 0 -7.5 0M471.9 76.7a3.75 3.75 0 1 0 7.5 0a3.75 3.75 0 1 0 -7.5 0M472.2 76.8a3.75 3.75 0 1 0 7.5 0a3.75 3.75 0 1 0 -7.5 0M472.4 77.2a3.75 3.75 0 1 0 7.5 0a3.75 3.75 0 1 0 -7.5 0M472.7 76.6a3.75 3.75 0 1 0 7.5 0a3.75 3.75 0 1 0 -7.5 0M473 77.4a3.75 3.75 0 1 0 7.5 0a3.75 3.75 0 1 0 -7.5 0M473.3 77.1a3.75 3.75 0 1 0 7.5 0a3.75 3.75 0 1 0 -7.5 0M473.5 77.2a3.75 3.75 0 1 0 7.5 0a3.75 3.75 0 1 0 -7.5 0M473.8 76.9a3.75 3.75 0 1 0 7.5 0a3.75 3.75 0 1 0 -7.5 0M474.1 77.7a3.75 3.75 0 1 0 7.5 0a3.75 3.75 0 1 0 -7.5 0M474.4 77.3a3.75 3.75 0 1 0 7.5 0a3.75 3.75 0 1 0 -7.5 0M474.6 77.8a3.75 3.75 0 1 0 7.5 0a3.75 3.75 0 1 0 -7.5 0M474.9 78a3.75 3.75 0 1 0 7.5 0a3.75 3.75 0 1 0 -7.5 0M475.1 78.1a3.75 3.75 0 1 0 7.5 0a3.75 3.75 0 1 0 -7.5 0M475.4 76.1a3.75 3.75 0 1 0 7.5 0a3.75 3.75 0 1 0 -7.5 0M475.6 77.4a3.75 3.75 0 1 0 7.5 0a3.75 3.75 0 1 0 -7.5 0M475.9 77.2a3.75 3.75 0 1 0 7.5 0a3.75 3.75 0 1 0 -7.5 0M476.1 78.5a3.75 3.75 0 1 0 7.5 0a3.75 3.75 0 1 0 -7.5 0M476.4 76.7a3.75 3.75 0 1 0 7.5 0a3.75 3.75 0 1 0 -7.5 0M476.6 77.4a3.75 3.75 0 1 0 7.5 0a3.75 3.75 0 1 0 -7.5 0M476.9 77.8a3.75 3.75 0 1 0 7.5 0a3.75 3.75 0 1 0 -7.5 0M477.1 77.8a3.75 3.75 0 1 0 7.5 0a3.75 3.75 0 1 0 -7.5 0M477.4 78.9a3.75 3.75 0 1 0 7.5 0a3.75 3.75 0 1 0 -7.5 0M477.6 77.7a3.75 3.75 0 1 0 7.5 0a3.75 3.75 0 1 0 -7.5 0M477.8 78.9a3.75 3.75 0 1 0 7.5 0a3.75 3.75 0 1 0 -7.5 0M478.1 77a3.75 3.75 0 1 0 7.5 0a3.75 3.75 0 1 0 -7.5 0M478.3 76.8a3.75 3.75 0 1 0 7.5 0a3.75 3.75 0 1 0 -7.5 0M478.5 79.2a3.75 3.75 0 1 0 7.5 0a3.75 3.75 0 1 0 -7.5 0M478.8 78.6a3.75 3.75 0 1 0 7.5 0a3.75 3.75 0 1 0 -7.5 0M479 78.7a3.75 3.75 0 1 0 7.5 0a3.75 3.75 0 1 0 -7.5 0M479.2 78.5a3.75 3.75 0 1 0 7.5 0a3.75 3.75 0 1 0 -7.5 0M479.4 78.8a3.75 3.75 0 1 0 7.5 0a3.75 3.75 0 1 0 -7.5 0M479.6 77.5a3.75 3.75 0 1 0 7.5 0a3.75 3.75 0 1 0 -7.5 0M479.9 79.2a3.75 3.75 0 1 0 7.5 0a3.75 3.75 0 1 0 -7.5 0M480.1 78.1a3.75 3.75 0 1 0 7.5 0a3.75 3.75 0 1 0 -7.5 0M480.3 79.4a3.75 3.75 0 1 0 7.5 0a3.75 3.75 0 1 0 -7.5 0M480.5 78.8a3.75 3.75 0 1 0 7.5 0a3.75 3.75 0 1 0 -7.5 0M480.7 77.2a3.75 3.75 0 1 0 7.5 0a3.75 3.75 0 1 0 -7.5 0M480.9 77.8a3.75 3.75 0 1 0 7.5 0a3.75 3.75 0 1 0 -7.5 0M481.1 79.8a3.75 3.75 0 1 0 7.5 0a3.75 3.75 0 1 0 -7.5 0M481.4 78.9a3.75 3.75 0 1 0 7.5 0a3.75 3.75 0 1 0 -7.5 0M481.6 78.8a3.75 3.75 0 1 0 7.5 0a3.75 3.75 0 1 0 -7.5 0M481.8 79.4a3.75 3.75 0 1 0 7.5 0a3.75 3.75 0 1 0 -7.5 0M482 79a3.75 3.75 0 1 0 7.5 0a3.75 3.75 0 1 0 -7.5 0M482.2 79a3.75 3.75 0 1 0 7.5 0a3.75 3.75 0 1 0 -7.5 0M482.4 79.7a3.75 3.75 0 1 0 7.5 0a3.75 3.75 0 1 0 -7.5 0M482.6 79.8a3.75 3.75 0 1 0 7.5 0a3.75 3.75 0 1 0 -7.5 0M482.8 81a3.75 3.75 0 1 0 7.5 0a3.75 3.75 0 1 0 -7.5 0M483 80a3.75 3.75 0 1 0 7.5 0a3.75 3.75 0 1 0 -7.5 0M483.2 81.6a3.75 3.75 0 1 0 7.5 0a3.75 3.75 0 1 0 -7.5 0M483.4 81.6a3.75 3.75 0 1 0 7.5 0a3.75 3.75 0 1 0 -7.5 0M483.5 81.7a3.75 3.75 0 1 0 7.5 0a3.75 3.75 0 1 0 -7.5 0M483.7 81.3a3.75 3.75 0 1 0 7.5 0a3.75 3.75 0 1 0 -7.5 0M483.9 80.7a3.75 3.75 0 1 0 7.5 0a3.75 3.75 0 1 0 -7.5 0M484.1 80.9a3.75 3.75 0 1 0 7.5 0a3.75 3.75 0 1 0 -7.5 0M484.3 80.8a3.75 3.75 0 1 0 7.5 0a3.75 3.75 0 1 0 -7.5 0M484.5 80.4a3.75 3.75 0 1 0 7.5 0a3.75 3.75 0 1 0 -7.5 0M484.7 81.1a3.75 3.75 0 1 0 7.5 0a3.75 3.75 0 1 0 -7.5 0M484.9 80.8a3.75 3.75 0 1 0 7.5 0a3.75 3.75 0 1 0 -7.5 0M485 82.8a3.75 3.75 0 1 0 7.5 0a3.75 3.75 0 1 0 -7.5 0M485.2 82a3.75 3.75 0 1 0 7.5 0a3.75 3.75 0 1 0 -7.5 0M485.4 81.4a3.75 3.75 0 1 0 7.5 0a3.75 3.75 0 1 0 -7.5 0M485.6 80.3a3.75 3.75 0 1 0 7.5 0a3.75 3.75 0 1 0 -7.5 0M485.8 82a3.75 3.75 0 1 0 7.5 0a3.75 3.75 0 1 0 -7.5 0M485.9 81.8a3.75 3.75 0 1 0 7.5 0a3.75 3.75 0 1 0 -7.5 0M486.1 81.5a3.75 3.75 0 1 0 7.5 0a3.75 3.75 0 1 0 -7.5 0M486.3 81.6a3.75 3.75 0 1 0 7.5 0a3.75 3.75 0 1 0 -7.5 0M486.5 80.8a3.75 3.75 0 1 0 7.5 0a3.75 3.75 0 1 0 -7.5 0M486.6 83.3a3.75 3.75 0 1 0 7.5 0a3.75 3.75 0 1 0 -7.5 0M486.8 82.9a3.75 3.75 0 1 0 7.5 0a3.75 3.75 0 1 0 -7.5 0M487 85.2a3.75 3.75 0 1 0 7.5 0a3.75 3.75 0 1 0 -7.5 0M487.1 83.3a3.75 3.75 0 1 0 7.5 0a3.75 3.75 0 1 0 -7.5 0M487.3 83.4a3.75 3.75 0 1 0 7.5 0a3.75 3.75 0 1 0 -7.5 0M487.5 84.8a3.75 3.75 0 1 0 7.5 0a3.75 3.75 0 1 0 -7.5 0M487.6 84a3.75 3.75 0 1 0 7.5 0a3.75 3.75 0 1 0 -7.5 0M487.8 84.2a3.75 3.75 0 1 0 7.5 0a3.75 3.75 0 1 0 -7.5 0M488 84a3.75 3.75 0 1 0 7.5 0a3.75 3.75 0 1 0 -7.5 0M488.1 84a3.75 3.75 0 1 0 7.5 0a3.75 3.75 0 1 0 -7.5 0M488.3 85.9a3.75 3.75 0 1 0 7.5 0a3.75 3.75 0 1 0 -7.5 0M488.5 85.7a3.75 3.75 0 1 0 7.5 0a3.75 3.75 0 1 0 -7.5 0M488.6 86.5a3.75 3.75 0 1 0 7.5 0a3.75 3.75 0 1 0 -7.5 0M488.8 85a3.75 3.75 0 1 0 7.5 0a3.75 3.75 0 1 0 -7.5 0M488.9 85.6a3.75 3.75 0 1 0 7.5 0a3.75 3.75 0 1 0 -7.5 0M489.1 85a3.75 3.75 0 1 0 7.5 0a3.75 3.75 0 1 0 -7.5 0M489.3 86.7a3.75 3.75 0 1 0 7.5 0a3.75 3.75 0 1 0 -7.5 0M489.4 85.1a3.75 3.75 0 1 0 7.5 0a3.75 3.75 0 1 0 -7.5 0M489.6 86.9a3.75 3.75 0 1 0 7.5 0a3.75 3.75 0 1 0 -7.5 0M489.7 87.5a3.75 3.75 0 1 0 7.5 0a3.75 3.75 0 1 0 -7.5 0M489.9 88a3.75 3.75 0 1 0 7.5 0a3.75 3.75 0 1 0 -7.5 0M490 86.4a3.75 3.75 0 1 0 7.5 0a3.75 3.75 0 1 0 -7.5 0M490.2 88.3a3.75 3.75 0 1 0 7.5 0a3.75 3.75 0 1 0 -7.5 0M490.3 87.1a3.75 3.75 0 1 0 7.5 0a3.75 3.75 0 1 0 -7.5 0M490.5 87.3a3.75 3.75 0 1 0 7.5 0a3.75 3.75 0 1 0 -7.5 0M490.6 87.1a3.75 3.75 0 1 0 7.5 0a3.75 3.75 0 1 0 -7.5 0M490.8 89.3a3.75 3.75 0 1 0 7.5 0a3.75 3.75 0 1 0 -7.5 0M490.9 89.9a3.75 3.75 0 1 0 7.5 0a3.75 3.75 0 1 0 -7.5 0M491.1 88.4a3.75 3.75 0 1 0 7.5 0a3.75 3.75 0 1 0 -7.5 0M491.2 88.5a3.75 3.75 0 1 0 7.5 0a3.75 3.75 0 1 0 -7.5 0M491.4 89.1a3.75 3.75 0 1 0 7.5 0a3.75 3.75 0 1 0 -7.5 0M491.5 91.7a3.75 3.75 0 1 0 7.5 0a3.75 3.75 0 1 0 -7.5 0M491.7 90.7a3.75 3.75 0 1 0 7.5 0a3.75 3.75 0 1 0 -7.5 0M491.8 89.8a3.75 3.75 0 1 0 7.5 0a3.75 3.75 0 1 0 -7.5 0M492 89a3.75 3.75 0 1 0 7.5 0a3.75 3.75 0 1 0 -7.5 0M492.1 90.2a3.75 3.75 0 1 0 7.5 0a3.75 3.75 0 1 0 -7.5 0M492.2 92a3.75 3.75 0 1 0 7.5 0a3.75 3.75 0 1 0 -7.5 0M492.4 92.9a3.75 3.75 0 1 0 7.5 0a3.75 3.75 0 1 0 -7.5 0M492.5 91.5a3.75 3.75 0 1 0 7.5 0a3.75 3.75 0 1 0 -7.5 0M492.7 91.4a3.75 3.75 0 1 0 7.5 0a3.75 3.75 0 1 0 -7.5 0M492.8 91.9a3.75 3.75 0 1 0 7.5 0a3.75 3.75 0 1 0 -7.5 0M492.9 91.1a3.75 3.75 0 1 0 7.5 0a3.75 3.75 0 1 0 -7.5 0M493.1 93.7a3.75 3.75 0 1 0 7.5 0a3.75 3.75 0 1 0 -7.5 0M493.2 92.5a3.75 3.75 0 1 0 7.5 0a3.75 3.75 0 1 0 -7.5 0M493.4 94.5a3.75 3.75 0 1 0 7.5 0a3.75 3.75 0 1 0 -7.5 0M493.5 92.7a3.75 3.75 0 1 0 7.5 0a3.75 3.75 0 1 0 -7.5 0M493.6 93.4a3.75 3.75 0 1 0 7.5 0a3.75 3.75 0 1 0 -7.5 0M493.8 95a3.75 3.75 0 1 0 7.5 0a3.75 3.75 0 1 0 -7.5 0M493.9 94.5a3.75 3.75 0 1 0 7.5 0a3.75 3.75 0 1 0 -7.5 0M494 96.2a3.75 3.75 0 1 0 7.5 0a3.75 3.75 0 1 0 -7.5 0M494.2 95.9a3.75 3.75 0 1 0 7.5 0a3.75 3.75 0 1 0 -7.5 0M494.3 95.4a3.75 3.75 0 1 0 7.5 0a3.75 3.75 0 1 0 -7.5 0M494.4 97.2a3.75 3.75 0 1 0 7.5 0a3.75 3.75 0 1 0 -7.5 0M494.6 97.8a3.75 3.75 0 1 0 7.5 0a3.75 3.75 0 1 0 -7.5 0M494.7 96a3.75 3.75 0 1 0 7.5 0a3.75 3.75 0 1 0 -7.5 0M494.8 99.4a3.75 3.75 0 1 0 7.5 0a3.75 3.75 0 1 0 -7.5 0M494.9 98.8a3.75 3.75 0 1 0 7.5 0a3.75 3.75 0 1 0 -7.5 0M495.1 99.4a3.75 3.75 0 1 0 7.5 0a3.75 3.75 0 1 0 -7.5 0M495.2 97.7a3.75 3.75 0 1 0 7.5 0a3.75 3.75 0 1 0 -7.5 0M495.3 99.1a3.75 3.75 0 1 0 7.5 0a3.75 3.75 0 1 0 -7.5 0M495.5 99.9a3.75 3.75 0 1 0 7.5 0a3.75 3.75 0 1 0 -7.5 0M495.6 101.5a3.75 3.75 0 1 0 7.5 0a3.75 3.75 0 1 0 -7.5 0M495.7 100a3.75 3.75 0 1 0 7.5 0a3.75 3.75 0 1 0 -7.5 0M495.8 101a3.75 3.75 0 1 0 7.5 0a3.75 3.75 0 1 0 -7.5 0M496 100.6a3.75 3.75 0 1 0 7.5 0a3.75 3.75 0 1 0 -7.5 0M496.1 102.5a3.75 3.75 0 1 0 7.5 0a3.75 3.75 0 1 0 -7.5 0M496.2 103.5a3.75 3.75 0 1 0 7.5 0a3.75 3.75 0 1 0 -7.5 0M496.3 102.5a3.75 3.75 0 1 0 7.5 0a3.75 3.75 0 1 0 -7.5 0M496.5 103.9a3.75 3.75 0 1 0 7.5 0a3.75 3.75 0 1 0 -7.5 0M496.6 105.4a3.75 3.75 0 1 0 7.5 0a3.75 3.75 0 1 0 -7.5 0M496.7 106.8a3.75 3.75 0 1 0 7.5 0a3.75 3.75 0 1 0 -7.5 0M496.8 106.7a3.75 3.75 0 1 0 7.5 0a3.75 3.75 0 1 0 -7.5 0M496.9 106.5a3.75 3.75 0 1 0 7.5 0a3.75 3.75 0 1 0 -7.5 0M497.1 106.4a3.75 3.75 0 1 0 7.5 0a3.75 3.75 0 1 0 -7.5 0M497.2 107.2a3.75 3.75 0 1 0 7.5 0a3.75 3.75 0 1 0 -7.5 0M497.3 108.1a3.75 3.75 0 1 0 7.5 0a3.75 3.75 0 1 0 -7.5 0M497.4 109.4a3.75 3.75 0 1 0 7.5 0a3.75 3.75 0 1 0 -7.5 0M497.5 109.8a3.75 3.75 0 1 0 7.5 0a3.75 3.75 0 1 0 -7.5 0M497.7 111.9a3.75 3.75 0 1 0 7.5 0a3.75 3.75 0 1 0 -7.5 0M497.8 111.4a3.75 3.75 0 1 0 7.5 0a3.75 3.75 0 1 0 -7.5 0M497.9 111a3.75 3.75 0 1 0 7.5 0a3.75 3.75 0 1 0 -7.5 0M498 113.7a3.75 3.75 0 1 0 7.5 0a3.75 3.75 0 1 0 -7.5 0M498.1 113.9a3.75 3.75 0 1 0 7.5 0a3.75 3.75 0 1 0 -7.5 0M498.2 113.8a3.75 3.75 0 1 0 7.5 0a3.75 3.75 0 1 0 -7.5 0M498.3 113.8a3.75 3.75 0 1 0 7.5 0a3.75 3.75 0 1 0 -7.5 0M498.5 113.6a3.75 3.75 0 1 0 7.5 0a3.75 3.75 0 1 0 -7.5 0M498.6 114.9a3.75 3.75 0 1 0 7.5 0a3.75 3.75 0 1 0 -7.5 0M498.7 117.2a3.75 3.75 0 1 0 7.5 0a3.75 3.75 0 1 0 -7.5 0M498.8 116.5a3.75 3.75 0 1 0 7.5 0a3.75 3.75 0 1 0 -7.5 0M498.9 116.9a3.75 3.75 0 1 0 7.5 0a3.75 3.75 0 1 0 -7.5 0M499 118.8a3.75 3.75 0 1 0 7.5 0a3.75 3.75 0 1 0 -7.5 0M499.1 119.7a3.75 3.75 0 1 0 7.5 0a3.75 3.75 0 1 0 -7.5 0M499.3 120.8a3.75 3.75 0 1 0 7.5 0a3.75 3.75 0 1 0 -7.5 0M499.4 121.7a3.75 3.75 0 1 0 7.5 0a3.75 3.75 0 1 0 -7.5 0M499.5 123.2a3.75 3.75 0 1 0 7.5 0a3.75 3.75 0 1 0 -7.5 0M499.6 122.3a3.75 3.75 0 1 0 7.5 0a3.75 3.75 0 1 0 -7.5 0M499.7 124.7a3.75 3.75 0 1 0 7.5 0a3.75 3.75 0 1 0 -7.5 0M499.8 124.2a3.75 3.75 0 1 0 7.5 0a3.75 3.75 0 1 0 -7.5 0M499.9 126.6a3.75 3.75 0 1 0 7.5 0a3.75 3.75 0 1 0 -7.5 0M500 127.4a3.75 3.75 0 1 0 7.5 0a3.75 3.75 0 1 0 -7.5 0M500.1 128.7a3.75 3.75 0 1 0 7.5 0a3.75 3.75 0 1 0 -7.5 0M500.2 130.6a3.75 3.75 0 1 0 7.5 0a3.75 3.75 0 1 0 -7.5 0M500.3 131.3a3.75 3.75 0 1 0 7.5 0a3.75 3.75 0 1 0 -7.5 0M500.4 133.7a3.75 3.75 0 1 0 7.5 0a3.75 3.75 0 1 0 -7.5 0M500.6 135.2a3.75 3.75 0 1 0 7.5 0a3.75 3.75 0 1 0 -7.5 0M500.7 136.2a3.75 3.75 0 1 0 7.5 0a3.75 3.75 0 1 0 -7.5 0M500.8 137.3a3.75 3.75 0 1 0 7.5 0a3.75 3.75 0 1 0 -7.5 0M500.9 138.9a3.75 3.75 0 1 0 7.5 0a3.75 3.75 0 1 0 -7.5 0M501 141.1a3.75 3.75 0 1 0 7.5 0a3.75 3.75 0 1 0 -7.5 0M501.1 143.7a3.75 3.75 0 1 0 7.5 0a3.75 3.75 0 1 0 -7.5 0M501.2 146.5a3.75 3.75 0 1 0 7.5 0a3.75 3.75 0 1 0 -7.5 0M501.3 153.4a3.75 3.75 0 1 0 7.5 0a3.75 3.75 0 1 0 -7.5 0M501.4 152.7a3.75 3.75 0 1 0 7.5 0a3.75 3.75 0 1 0 -7.5 0M501.5 155.5a3.75 3.75 0 1 0 7.5 0a3.75 3.75 0 1 0 -7.5 0M501.6 155.8a3.75 3.75 0 1 0 7.5 0a3.75 3.75 0 1 0 -7.5 0M501.7 158.5a3.75 3.75 0 1 0 7.5 0a3.75 3.75 0 1 0 -7.5 0M501.8 161.5a3.75 3.75 0 1 0 7.5 0a3.75 3.75 0 1 0 -7.5 0M501.9 164.7a3.75 3.75 0 1 0 7.5 0a3.75 3.75 0 1 0 -7.5 0M502 165.5a3.75 3.75 0 1 0 7.5 0a3.75 3.75 0 1 0 -7.5 0M502.1 172.2a3.75 3.75 0 1 0 7.5 0a3.75 3.75 0 1 0 -7.5 0M502.2 171.8a3.75 3.75 0 1 0 7.5 0a3.75 3.75 0 1 0 -7.5 0M502.3 177.9a3.75 3.75 0 1 0 7.5 0a3.75 3.75 0 1 0 -7.5 0M502.4 175a3.75 3.75 0 1 0 7.5 0a3.75 3.75 0 1 0 -7.5 0M502.5 183.4a3.75 3.75 0 1 0 7.5 0a3.75 3.75 0 1 0 -7.5 0M502.6 188.1a3.75 3.75 0 1 0 7.5 0a3.75 3.75 0 1 0 -7.5 0M502.7 192.3a3.75 3.75 0 1 0 7.5 0a3.75 3.75 0 1 0 -7.5 0M502.8 197.9a3.75 3.75 0 1 0 7.5 0a3.75 3.75 0 1 0 -7.5 0M502.9 201.9a3.75 3.75 0 1 0 7.5 0a3.75 3.75 0 1 0 -7.5 0M503 206.5a3.75 3.75 0 1 0 7.5 0a3.75 3.75 0 1 0 -7.5 0M503.1 205.8a3.75 3.75 0 1 0 7.5 0a3.75 3.75 0 1 0 -7.5 0M503.2 214.3a3.75 3.75 0 1 0 7.5 0a3.75 3.75 0 1 0 -7.5 0M503.3 214.8a3.75 3.75 0 1 0 7.5 0a3.75 3.75 0 1 0 -7.5 0M503.4 229.1a3.75 3.75 0 1 0 7.5 0a3.75 3.75 0 1 0 -7.5 0M503.5 233.9a3.75 3.75 0 1 0 7.5 0a3.75 3.75 0 1 0 -7.5 0M503.6 238.1a3.75 3.75 0 1 0 7.5 0a3.75 3.75 0 1 0 -7.5 0M503.7 242a3.75 3.75 0 1 0 7.5 0a3.75 3.75 0 1 0 -7.5 0M503.8 248.9a3.75 3.75 0 1 0 7.5 0a3.75 3.75 0 1 0 -7.5 0M503.9 263.6a3.75 3.75 0 1 0 7.5 0a3.75 3.75 0 1 0 -7.5 0M503.9 269.8a3.75 3.75 0 1 0 7.5 0a3.75 3.75 0 1 0 -7.5 0M504 270.1a3.75 3.75 0 1 0 7.5 0a3.75 3.75 0 1 0 -7.5 0M504.1 281.9a3.75 3.75 0 1 0 7.5 0a3.75 3.75 0 1 0 -7.5 0M504.2 278a3.75 3.75 0 1 0 7.5 0a3.75 3.75 0 1 0 -7.5 0M504.3 283.6a3.75 3.75 0 1 0 7.5 0a3.75 3.75 0 1 0 -7.5 0M504.4 296.2a3.75 3.75 0 1 0 7.5 0a3.75 3.75 0 1 0 -7.5 0M504.5 301.7a3.75 3.75 0 1 0 7.5 0a3.75 3.75 0 1 0 -7.5 0M504.6 317.3a3.75 3.75 0 1 0 7.5 0a3.75 3.75 0 1 0 -7.5 0" fill="none" stroke="#ff4500" stroke-width="0.7"/><path d="M323.5 192.1h.6M355 161.5h.6M369.7 142h.6M379.3 125.2h.6M386.5 119.2h.6M392.3 110.8h.6M397.1 107.1h.6M401.2 104.5h.6M404.8 99.8h.6M407.9 99.3h.6M410.8 98.3h.6M413.4 94.3h.6M415.8 93.1h.6M418 92h.6M420.1 90.3h.6M422 91.2h.6M423.8 88.5h.6M425.5 89.6h.6M427.1 89.6h.6M428.6 86.5h.6M430 87h.6M431.4 85.1h.6M432.7 86.8h.6M433.9 85.1h.6M435.1 85h.6M436.3 84.8h.6M437.4 84.8h.6M438.4 83.7h.6M439.5 83.6h.6M440.4 82.8h.6M441.4 83h.6M442.3 81.6h.6M443.2 82.3h.6M444.1 80.4h.6M444.9 81.2h.6M445.8 82.9h.6M446.6 81.2h.6M447.3 79.9h.6M448.1 80.9h.6M448.8 79.7h.6M449.5 79h.6M450.2 79.6h.6M450.9 80.6h.6M451.6 80.2h.6M452.2 79.7h.6M452.9 78.9h.6M453.5 78.6h.6M454.1 80.5h.6M454.7 79.5h.6M455.3 78.4h.6M455.9 77.4h.6M456.4 77.9h.6M457 80.9h.6M457.5 77.9h.6M458.1 78.7h.6M458.6 78.8h.6M459.1 78.5h.6M459.6 78.3h.6M460.1 77.4h.6M460.6 77.6h.6M461 79.7h.6M461.5 77.7h.6M462 79h.6M462.4 76.9h.6M462.9 78h.6M463.3 78.4h.6M463.8 78.9h.6M464.2 77.2h.6M464.6 78.5h.6M465 78.3h.6M465.4 77.4h.6M465.8 78.3h.6M466.2 77.2h.6M466.6 77.2h.6M467 77.8h.6M467.4 75.6h.6M467.8 77.7h.6M468.1 76.9h.6M468.5 76.5h.6M468.9 77.3h.6M469.2 78.3h.6M469.6 77.3h.6M469.9 78.6h.6M470.3 76.7h.6M470.6 76.5h.6M471 78.8h.6M471.3 77.9h.6M471.6 78.3h.6M472 76.9h.6M472.3 78.2h.6M472.6 77.7h.6M472.9 78h.6M473.2 77.5h.6M473.5 78.5h.6M473.8 77h.6M474.1 76.7h.6M474.4 76.3h.6M474.7 78.4h.6M475 76.9h.6M475.3 76.7h.6M475.6 76.8h.6M475.9 77.2h.6M476.2 76.6h.6M476.4 77.4h.6M476.7 77.1h.6M477 77.2h.6M477.3 76.9h.6M477.5 77.7h.6M477.8 77.3h.6M478.1 77.8h.6M478.3 78h.6M478.6 78.1h.6M478.8 76.1h.6M479.1 77.4h.6M479.3 77.2h.6M479.6 78.5h.6M479.8 76.7h.6M480.1 77.4h.6M480.3 77.8h.6M480.6 77.8h.6M480.8 78.9h.6M481 77.7h.6M481.3 78.9h.6M481.5 77h.6M481.7 76.8h.6M482 79.2h.6M482.2 78.6h.6M482.4 78.7h.6M482.7 78.5h.6M482.9 78.8h.6M483.1 77.5h.6M483.3 79.2h.6M483.5 78.1h.6M483.7 79.4h.6M484 78.8h.6M484.2 77.2h.6M484.4 77.8h.6M484.6 79.8h.6M484.8 78.9h.6M485 78.8h.6M485.2 79.4h.6M485.4 79h.6M485.6 79h.6M485.8 79.7h.6M486 79.8h.6M486.2 81h.6M486.4 80h.6M486.6 81.6h.6M486.8 81.6h.6M487 81.7h.6M487.2 81.3h.6M487.4 80.7h.6M487.6 80.9h.6M487.8 80.8h.6M487.9 80.4h.6M488.1 81.1h.6M488.3 80.8h.6M488.5 82.8h.6M488.7 82h.6M488.9 81.4h.6M489 80.3h.6M489.2 82h.6M489.4 81.8h.6M489.6 81.5h.6M489.7 81.6h.6M489.9 80.8h.6M490.1 83.3h.6M490.3 82.9h.6M490.4 85.2h.6M490.6 83.3h.6M490.8 83.4h.6M490.9 84.8h.6M491.1 84h.6M491.3 84.2h.6M491.4 84h.6M491.6 84h.6M491.8 85.9h.6M491.9 85.7h.6M492.1 86.5h.6M492.2 85h.6M492.4 85.6h.6M492.6 85h.6M492.7 86.7h.6M492.9 85.1h.6M493 86.9h.6M493.2 87.5h.6M493.3 88h.6M493.5 86.4h.6M493.6 88.3h.6M493.8 87.1h.6M493.9 87.3h.6M494.1 87.1h.6M494.2 89.3h.6M494.4 89.9h.6M494.5 88.4h.6M494.7 88.5h.6M494.8 89.1h.6M495 91.7h.6M495.1 90.7h.6M495.3 89.8h.6M495.4 89h.6M495.6 90.2h.6M495.7 92h.6M495.8 92.9h.6M496 91.5h.6M496.1 91.4h.6M496.3 91.9h.6M496.4 91.1h.6M496.5 93.7h.6M496.7 92.5h.6M496.8 94.5h.6M496.9 92.7h.6M497.1 93.4h.6M497.2 95h.6M497.3 94.5h.6M497.5 96.2h.6M497.6 95.9h.6M497.7 95.4h.6M497.9 97.2h.6M498 97.8h.6M498.1 96h.6M498.3 99.4h.6M498.4 98.8h.6M498.5 99.4h.6M498.7 97.7h.6M498.8 99.1h.6M498.9 99.9h.6M499 101.5h.6M499.2 100h.6M499.3 101h.6M499.4 100.6h.6M499.5 102.5h.6M499.7 103.5h.6M499.8 102.5h.6M499.9 103.9h.6M500 105.4h.6M500.1 106.8h.6M500.3 106.7h.6M500.4 106.5h.6M500.5 106.4h.6M500.6 107.2h.6M500.7 108.1h.6M500.9 109.4h.6M501 109.8h.6M501.1 111.9h.6M501.2 111.4h.6M501.3 111h.6M501.5 113.7h.6M501.6 113.9h.6M501.7 113.8h.6M501.8 113.8h.6M501.9 113.6h.6M502 114.9h.6M502.1 117.2h.6M502.3 116.5h.6M502.4 116.9h.6M502.5 118.8h.6M502.6 119.7h.6M502.7 120.8h.6M502.8 121.7h.6M502.9 123.2h.6M503 122.3h.6M503.1 124.7h.6M503.3 124.2h.6M503.4 126.6h.6M503.5 127.4h.6M503.6 128.7h.6M503.7 130.6h.6M503.8 131.3h.6M503.9 133.7h.6M504 135.2h.6M504.1 136.2h.6M504.2 137.3h.6M504.3 138.9h.6M504.4 141.1h.6M504.5 143.7h.6M504.6 146.5h.6M504.7 153.4h.6M504.8 152.7h.6M504.9 155.5h.6M505 155.8h.6M505.1 158.5h.6M505.2 161.5h.6M505.3 164.7h.6M505.4 165.5h.6M505.6 172.2h.6M505.7 171.8h.6M505.8 177.9h.6M505.9 175h.6M505.9 183.4h.6M506 188.1h.6M506.1 192.3h.6M506.2 197.9h.6M506.3 201.9h.6M506.4 206.5h.6M506.5 205.8h.6M506.6 214.3h.6M506.7 214.8h.6M506.8 229.1h.6M506.9 233.9h.6M507 238.1h.6M507.1 242h.6M507.2 248.9h.6M507.3 263.6h.6M507.4 269.8h.6M507.5 270.1h.6M507.6 281.9h.6M507.7 278h.6M507.8 283.6h.6M507.9 296.2h.6M508 301.7h.6M508.1 317.3h.6" stroke="#ff4500" stroke-width=".6" fill="none" opacity=".6"/>
<path d="M126.8 321L127.7 320.9L128.5 320.7L129.4 320.5L130.3 320.3L131.2 320.2L132.1 320L133 319.8L133.9 319.6L134.8 319.4L135.7 319.2L136.6 319L137.5 318.8L138.3 318.6L139.2 318.4L140.1 318.2L141 318L141.9 317.8L142.8 317.6L143.7 317.3L144.6 317.1L145.5 316.9L146.4 316.7L147.3 316.4L148.2 316.2L149 316L149.9 315.7L150.8 315.5L151.7 315.2L152.6 315L153.5 314.7L154.4 314.5L155.3 314.2L156.2 313.9L157.1 313.7L158 313.4L158.8 313.1L159.7 312.9L160.6 312.6L161.5 312.3L162.4 312L163.3 311.7L164.2 311.4L165.1 311.1L166 310.8L166.9 310.5L167.8 310.2L168.6 309.9L169.5 309.6L170.4 309.3L171.3 308.9L172.2 308.6L173.1 308.3L174 307.9L174.9 307.6L175.8 307.3L176.7 306.9L177.6 306.6L178.5 306.2L179.3 305.8L180.2 305.5L181.1 305.1L182 304.8L182.9 304.4L183.8 304L184.7 303.6L185.6 303.2L186.5 302.8L187.4 302.4L188.3 302L189.1 301.6L190 301.2L190.9 300.8L191.8 300.4L192.7 300L193.6 299.6L194.5 299.1L195.4 298.7L196.3 298.3L197.2 297.8L198.1 297.4L199 296.9L199.8 296.5L200.7 296L201.6 295.5L202.5 295.1L203.4 294.6L204.3 294.1L205.2 293.6L206.1 293.1L207 292.7L207.9 292.2L208.8 291.7L209.6 291.1L210.5 290.6L211.4 290.1L212.3 289.6L213.2 289.1L214.1 288.6L215 288L215.9 287.5L216.8 286.9L217.7 286.4L218.6 285.8L219.5 285.3L220.3 284.7L221.2 284.2L222.1 283.6L223 283L223.9 282.4L224.8 281.9L225.7 281.3L226.6 280.7L227.5 280.1L228.4 279.5L229.3 278.9L230.1 278.3L231 277.7L231.9 277L232.8 276.4L233.7 275.8L234.6 275.2L235.5 274.5L236.4 273.9L237.3 273.2L238.2 272.6L239.1 271.9L239.9 271.3L240.8 270.6L241.7 269.9L242.6 269.3L243.5 268.6L244.4 267.9L245.3 267.2L246.2 266.5L247.1 265.8L248 265.1L248.9 264.4L249.8 263.7L250.6 263L251.5 262.3L252.4 261.6L253.3 260.9L254.2 260.1L255.1 259.4L256 258.7L256.9 257.9L257.8 257.2L258.7 256.4L259.6 255.7L260.4 254.9L261.3 254.2L262.2 253.4L263.1 252.6L264 251.9L264.9 251.1L265.8 250.3L266.7 249.5L267.6 248.7L268.5 247.9L269.4 247.1L270.3 246.3L271.1 245.5L272 244.7L272.9 243.9L273.8 243.1L274.7 242.3L275.6 241.5L276.5 240.6L277.4 239.8L278.3 239L279.2 238.2L280.1 237.3L280.9 236.5L281.8 235.6L282.7 234.8L283.6 233.9L284.5 233.1L285.4 232.2L286.3 231.4L287.2 230.5L288.1 229.6L289 228.8L289.9 227.9L290.7 227L291.6 226.1L292.5 225.2L293.4 224.4L294.3 223.5L295.2 222.6L296.1 221.7L297 220.8L297.9 219.9L298.8 219L299.7 218.1L300.6 217.2L301.4 216.3L302.3 215.4L303.2 214.4L304.1 213.5L305 212.6L305.9 211.7L306.8 210.7L307.7 209.8L308.6 208.9L309.5 207.9L310.4 207L311.2 206.1L312.1 205.1L313 204.2L313.9 203.2L314.8 202.3L315.7 201.3L316.6 200.4L317.5 199.4L318.4 198.5L319.3 197.5L320.2 196.6L321.1 195.6L321.9 194.6L322.8 193.7L323.7 192.7L324.6 191.7L325.5 190.7L326.4 189.8L327.3 188.8L328.2 187.8L329.1 186.8L330 185.8L330.9 184.9L331.7 183.9L332.6 182.9L333.5 181.9L334.4 180.9L335.3 179.9L336.2 178.9L337.1 177.9L338 176.9L338.9 175.9L339.8 174.9L340.7 173.9L341.6 172.9L342.4 171.9L343.3 170.9L344.2 169.9L345.1 168.9L346 167.8L346.9 166.8L347.8 165.8L348.7 164.8L349.6 163.8L350.5 162.8L351.4 161.7L352.2 160.7L353.1 159.7L354 158.7L354.9 157.6L355.8 156.6L356.7 155.6L357.6 154.5L358.5 153.5L359.4 152.5L360.3 151.4L361.2 150.4L362 149.4L362.9 148.3L363.8 147.3L364.7 146.2L365.6 145.2L366.5 144.2L367.4 143.1L368.3 142.1L369.2 141L370.1 140L371 138.9L371.9 137.9L372.7 136.8L373.6 135.8L374.5 134.7L375.4 133.7L376.3 132.6L377.2 131.6L378.1 130.5L379 129.5L379.9 128.4L380.8 127.4L381.7 126.3L382.5 125.2L383.4 124.2L384.3 123.1L385.2 122.1L386.1 121L387 119.9L387.9 118.9L388.8 117.8L389.7 116.7L390.6 115.7L391.5 114.6L392.4 113.5L393.2 112.5L394.1 111.4L395 110.3L395.9 109.3L396.8 108.2L397.7 107.1L398.6 106L399.5 105L400.4 103.9L401.3 102.8L402.2 101.7L403 100.7L403.9 99.6L404.8 98.5L405.7 97.4L406.6 96.4L407.5 95.3L408.4 94.2L409.3 93.1L410.2 92L411.1 91L412 89.9L412.8 88.8L413.7 87.7L414.6 86.6L415.5 85.6L416.4 84.5L417.3 83.4L418.2 82.3L419.1 81.2L420 80.1L420.9 79.1L421.8 78L422.7 76.9L423.5 75.8L424.4 74.7L425.3 73.6L426.2 72.5L427.1 71.4L428 70.4L428.9 69.3L429.8 68.2L430.7 67.1L431.6 66L432.5 64.9L433.3 63.8L434.2 62.7L435.1 61.6L436 60.5L436.9 59.5L437.8 58.4L438.7 57.3L439.6 56.2L440.5 55.1L441.4 54L442.3 52.9L443.2 51.8L444 50.7L444.9 49.6L445.8 48.5L446.7 47.4L447.6 46.3L448.5 45.2L449.4 44.1L450.3 43L451.2 41.9L452.1 40.8L453 39.8L453.8 38.7L454.7 37.6L455.6 36.5L456.5 35.4L457.4 34.3L458.3 33.2L459.2 32.1L460.1 31L461 29.9L461.9 28.8L462.8 27.7L463.6 26.6L464.5 25.5L465.4 24.4L466.3 23.3L467.2 22.2" stroke="#000" stroke-width="1.7" fill="none" stroke-dasharray="1.8 1.2 1.8 4.9"/>
<text x="160.8" y="41.4" text-anchor="end" font-size="17.5">U=0.30</text>
<path d="M191.9 35.6h8M195.9 31.6v8" fill="none" stroke="#ff0000" stroke-width="0.7"/>
<text x="160.8" y="59.1" text-anchor="end" font-size="17.5">U=0.40</text>
<path d="M192.1 49.5l7.6 7.6M192.1 57.1l7.6 -7.6" fill="none" stroke="#00ff00" stroke-width="0.7"/>
<text x="160.8" y="76.8" text-anchor="end" font-size="17.5">U=0.50</text>
<path d="M191.9 71h8M195.9 67v8M191.9 67l8 8M191.9 75l8 -8" fill="none" stroke="#0000ff" stroke-width="0.7"/>
<text x="160.8" y="94.5" text-anchor="end" font-size="17.5">U=0.60</text>
<path d="M192.2 85h7.5v7.5h-7.5z" fill="none" stroke="#ff00ff" stroke-width="0.7"/><path d="M195.6 88.7h.6" stroke="#ff00ff" stroke-width=".6" fill="none" opacity=".6"/>
<text x="160.8" y="112.2" text-anchor="end" font-size="17.5">U=0.70</text>
<path d="M191.9 102.4h8v8h-8z" fill="#00ffff" stroke="none"/>
<text x="160.8" y="129.9" text-anchor="end" font-size="17.5">U=0.75</text>
<path d="M192.2 124.1a3.75 3.75 0 1 0 7.5 0a3.75 3.75 0 1 0 -7.5 0" fill="none" stroke="#ff4500" stroke-width="0.7"/><path d="M195.6 124.1h.6" stroke="#ff4500" stroke-width=".6" fill="none" opacity=".6"/>
<text x="160.8" y="149.7" text-anchor="end" font-size="17.5"><tspan class="o">1</tspan>+x<tspan font-size="14.0" dy="-8.8">0.53</tspan></text>
<path d="M172.2 141.8h44.5" stroke="#000" stroke-width="1.9" fill="none" stroke-dasharray="2.1 .9 2.1 4.6"/>
</g>
<g id="panel-b">
<path d="M87 428.3H549.3V739.3H87Z" stroke="#000" stroke-width="1" fill="none"/>
<path d="M114.8 739.3v-2.6M114.8 428.3v2.6M151.6 739.3v-2.6M151.6 428.3v2.6M170.5 739.3v-2.6M170.5 428.3v2.6M179.5 739.3v-5M179.5 428.3v5M207.3 739.3v-2.6M207.3 428.3v2.6M244.1 739.3v-2.6M244.1 428.3v2.6M263 739.3v-2.6M263 428.3v2.6M271.9 739.3v-5M271.9 428.3v5M299.8 739.3v-2.6M299.8 428.3v2.6M336.5 739.3v-2.6M336.5 428.3v2.6M355.4 739.3v-2.6M355.4 428.3v2.6M364.4 739.3v-5M364.4 428.3v5M392.2 739.3v-2.6M392.2 428.3v2.6M429 739.3v-2.6M429 428.3v2.6M447.9 739.3v-2.6M447.9 428.3v2.6M456.8 739.3v-5M456.8 428.3v5M484.7 739.3v-2.6M484.7 428.3v2.6M521.5 739.3v-2.6M521.5 428.3v2.6M540.3 739.3v-2.6M540.3 428.3v2.6M87 719h2.6M549.3 719h-2.6M87 704.6h2.6M549.3 704.6h-2.6M87 693.4h2.6M549.3 693.4h-2.6M87 684.3h2.6M549.3 684.3h-2.6M87 676.6h2.6M549.3 676.6h-2.6M87 669.9h2.6M549.3 669.9h-2.6M87 664h2.6M549.3 664h-2.6M87 658.8h5M549.3 658.8h-5M87 624.1h2.6M549.3 624.1h-2.6M87 603.8h2.6M549.3 603.8h-2.6M87 589.4h2.6M549.3 589.4h-2.6M87 578.2h2.6M549.3 578.2h-2.6M87 569.1h2.6M549.3 569.1h-2.6M87 561.4h2.6M549.3 561.4h-2.6M87 554.7h2.6M549.3 554.7h-2.6M87 548.8h2.6M549.3 548.8h-2.6M87 543.5h5M549.3 543.5h-5M87 508.8h2.6M549.3 508.8h-2.6M87 488.6h2.6M549.3 488.6h-2.6M87 474.2h2.6M549.3 474.2h-2.6M87 463h2.6M549.3 463h-2.6M87 453.9h2.6M549.3 453.9h-2.6M87 446.1h2.6M549.3 446.1h-2.6M87 439.5h2.6M549.3 439.5h-2.6M87 433.6h2.6M549.3 433.6h-2.6" stroke="#000" stroke-width="1" fill="none"/>
<text x="76.3" y="434.5" text-anchor="end" font-size="17.5"><tspan class="o">1</tspan>00</text>
<text x="76.3" y="549.7" text-anchor="end" font-size="17.5"><tspan class="o">1</tspan>0</text>
<text x="76.3" y="665" text-anchor="end" font-size="17.5"><tspan class="o">1</tspan></text>
<text x="87.5" y="764.8" text-anchor="middle" font-size="17.5"><tspan class="o">1</tspan>0<tspan font-size="14.0" dy="-8.8">-<tspan class="o">1</tspan></tspan></text>
<text x="180" y="764.8" text-anchor="middle" font-size="17.5"><tspan class="o">1</tspan>0<tspan font-size="14.0" dy="-8.8">0</tspan></text>
<text x="272.4" y="764.8" text-anchor="middle" font-size="17.5"><tspan class="o">1</tspan>0<tspan font-size="14.0" dy="-8.8"><tspan class="o">1</tspan></tspan></text>
<text x="364.9" y="764.8" text-anchor="middle" font-size="17.5"><tspan class="o">1</tspan>0<tspan font-size="14.0" dy="-8.8">2</tspan></text>
<text x="457.3" y="764.8" text-anchor="middle" font-size="17.5"><tspan class="o">1</tspan>0<tspan font-size="14.0" dy="-8.8">3</tspan></text>
<text x="549.8" y="764.8" text-anchor="middle" font-size="17.5"><tspan class="o">1</tspan>0<tspan font-size="14.0" dy="-8.8">4</tspan></text>
<text x="318.1" y="788.3" text-anchor="middle" font-size="17.5">log((&#949;-&#949;<tspan font-size="14.0" dy="4.6">F</tspan><tspan dy="-4.6">)/&#948;)</tspan></text>
<text transform="translate(19.9 583.8) rotate(-90)" text-anchor="middle" font-size="17.5">log(&#961;(&#949;)<tspan font-size="15.6">&#916;</tspan>)</text>
<text x="537" y="452.1" text-anchor="end" font-size="20">(b)</text>
<path d="M162 717.2h8M166 713.2v8M169.7 705.7h8M173.7 701.7v8M176.1 691.9h8M180.1 687.9v8M181.6 683.4h8M185.6 679.4v8M186.5 676.1h8M190.5 672.1v8M190.8 669.3h8M194.8 665.3v8M194.7 664.5h8M198.7 660.5v8M198.3 660.2h8M202.3 656.2v8M201.6 653.3h8M205.6 649.3v8M204.6 650.5h8M208.6 646.5v8M207.4 646.5h8M211.4 642.5v8M210 643.4h8M214 639.4v8M212.5 638.4h8M216.5 634.4v8M214.8 634.9h8M218.8 630.9v8M217 631.8h8M221 627.8v8M219.1 631.8h8M223.1 627.8v8M221.1 629.6h8M225.1 625.6v8M223 627.8h8M227 623.8v8M224.8 624.3h8M228.8 620.3v8M226.5 624.5h8M230.5 620.5v8M228.2 623h8M232.2 619v8M229.8 621.4h8M233.8 617.4v8M231.3 620.8h8M235.3 616.8v8M232.8 621.2h8M236.8 617.2v8M234.2 620.2h8M238.2 616.2v8M235.6 619h8M239.6 615v8M236.9 618.8h8M240.9 614.8v8M238.2 617.3h8M242.2 613.3v8M239.4 617.4h8M243.4 613.4v8M240.6 617h8M244.6 613v8M241.8 617.1h8M245.8 613.1v8M242.9 616.3h8M246.9 612.3v8M244 615.9h8M248 611.9v8M245.1 615.7h8M249.1 611.7v8M246.2 615h8M250.2 611v8M247.2 617.1h8M251.2 613.1v8M248.2 615.5h8M252.2 611.5v8M249.1 615.3h8M253.1 611.3v8M250.1 616.6h8M254.1 612.6v8M251 615.7h8M255 611.7v8M251.9 613.1h8M255.9 609.1v8M252.8 614.8h8M256.8 610.8v8M253.7 614.7h8M257.7 610.7v8M254.5 615.4h8M258.5 611.4v8M255.4 614.8h8M259.4 610.8v8M256.2 614.2h8M260.2 610.2v8M257 612.5h8M261 608.5v8M257.8 612.5h8M261.8 608.5v8M258.5 613.3h8M262.5 609.3v8M259.3 613.3h8M263.3 609.3v8M260 611.9h8M264 607.9v8M260.8 612.3h8M264.8 608.3v8M261.5 612.1h8M265.5 608.1v8M262.2 612.3h8M266.2 608.3v8M262.9 612.4h8M266.9 608.4v8M263.5 611.8h8M267.5 607.8v8M264.2 610.9h8M268.2 606.9v8M264.9 612.8h8M268.9 608.8v8M265.5 613h8M269.5 609v8M266.1 611.5h8M270.1 607.5v8M266.8 612.3h8M270.8 608.3v8M267.4 611.8h8M271.4 607.8v8M268 611.9h8M272 607.9v8M268.6 611.7h8M272.6 607.7v8M269.2 610.7h8M273.2 606.7v8M269.7 611.7h8M273.7 607.7v8M270.3 612h8M274.3 608v8M270.9 610.4h8M274.9 606.4v8M271.4 612.7h8M275.4 608.7v8M272 612.8h8M276 608.8v8M272.5 612.5h8M276.5 608.5v8M273.1 612.6h8M277.1 608.6v8M273.6 611.6h8M277.6 607.6v8M274.1 610.7h8M278.1 606.7v8M274.6 610.4h8M278.6 606.4v8M275.1 610.2h8M279.1 606.2v8M275.6 610.9h8M279.6 606.9v8M276.1 610.8h8M280.1 606.8v8M276.6 611.3h8M280.6 607.3v8M277.1 609.2h8M281.1 605.2v8M277.6 612.6h8M281.6 608.6v8M278 612.6h8M282 608.6v8M278.5 610.7h8M282.5 606.7v8M279 611.3h8M283 607.3v8M279.4 611.1h8M283.4 607.1v8M279.9 610.9h8M283.9 606.9v8M280.3 610.5h8M284.3 606.5v8M280.8 610.6h8M284.8 606.6v8M281.2 610h8M285.2 606v8M281.6 610.9h8M285.6 606.9v8M282 610.7h8M286 606.7v8M282.5 611h8M286.5 607v8M282.9 610.1h8M286.9 606.1v8M283.3 610.9h8M287.3 606.9v8M283.7 611h8M287.7 607v8M284.1 611.5h8M288.1 607.5v8M284.5 610.2h8M288.5 606.2v8M284.9 611.5h8M288.9 607.5v8M285.3 612h8M289.3 608v8M285.7 611.8h8M289.7 607.8v8M286.1 611.1h8M290.1 607.1v8M286.5 611.1h8M290.5 607.1v8M286.8 611.4h8M290.8 607.4v8M287.2 612.3h8M291.2 608.3v8M287.6 613h8M291.6 609v8M287.9 611.8h8M291.9 607.8v8M288.3 611.5h8M292.3 607.5v8M288.7 612.4h8M292.7 608.4v8M289 612.4h8M293 608.4v8M289.4 611.6h8M293.4 607.6v8M289.7 611.9h8M293.7 607.9v8M290.1 612.5h8M294.1 608.5v8M290.4 613.2h8M294.4 609.2v8M290.8 611.9h8M294.8 607.9v8M291.1 612.1h8M295.1 608.1v8M291.4 613.5h8M295.4 609.5v8M291.8 612.3h8M295.8 608.3v8M292.1 613.5h8M296.1 609.5v8M292.4 613.9h8M296.4 609.9v8M292.8 613.7h8M296.8 609.7v8M293.1 613.2h8M297.1 609.2v8M293.4 614.2h8M297.4 610.2v8M293.7 614.2h8M297.7 610.2v8M294 614.9h8M298 610.9v8M294.4 614.2h8M298.4 610.2v8M294.7 616h8M298.7 612v8M295 614h8M299 610v8M295.3 615.4h8M299.3 611.4v8M295.6 615.8h8M299.6 611.8v8M295.9 616.8h8M299.9 612.8v8M296.2 615.8h8M300.2 611.8v8M296.5 616.9h8M300.5 612.9v8M296.8 616.3h8M300.8 612.3v8M297.1 617.5h8M301.1 613.5v8M297.4 618.6h8M301.4 614.6v8M297.6 617.1h8M301.6 613.1v8M297.9 618.1h8M301.9 614.1v8M298.2 617.3h8M302.2 613.3v8M298.5 619.1h8M302.5 615.1v8M298.8 619.6h8M302.8 615.6v8M299.1 618.9h8M303.1 614.9v8M299.3 618.3h8M303.3 614.3v8M299.6 619.9h8M303.6 615.9v8M299.9 620.8h8M303.9 616.8v8M300.2 621.1h8M304.2 617.1v8M300.4 621.2h8M304.4 617.2v8M300.7 619.4h8M304.7 615.4v8M301 620.7h8M305 616.7v8M301.2 622.7h8M305.2 618.7v8M301.5 620.9h8M305.5 616.9v8M301.7 623.2h8M305.7 619.2v8M302 624.1h8M306 620.1v8M302.3 623.6h8M306.3 619.6v8M302.5 624.3h8M306.5 620.3v8M302.8 623.5h8M306.8 619.5v8M303 623.1h8M307 619.1v8M303.3 624.4h8M307.3 620.4v8M303.5 624.8h8M307.5 620.8v8M303.8 625.3h8M307.8 621.3v8M304 626.3h8M308 622.3v8M304.3 626h8M308.3 622v8M304.5 626.7h8M308.5 622.7v8M304.7 627.4h8M308.7 623.4v8M305 627.5h8M309 623.5v8M305.2 629.4h8M309.2 625.4v8M305.5 628.8h8M309.5 624.8v8M305.7 628.9h8M309.7 624.9v8M305.9 629.2h8M309.9 625.2v8M306.2 629.3h8M310.2 625.3v8M306.4 631.4h8M310.4 627.4v8M306.6 630.9h8M310.6 626.9v8M306.8 630.4h8M310.8 626.4v8M307.1 631.4h8M311.1 627.4v8M307.3 632.2h8M311.3 628.2v8M307.5 632.5h8M311.5 628.5v8M307.8 634.3h8M311.8 630.3v8M308 633h8M312 629v8M308.2 634.9h8M312.2 630.9v8M308.4 635.2h8M312.4 631.2v8M308.6 634.7h8M312.6 630.7v8M308.9 636.3h8M312.9 632.3v8M309.1 636.7h8M313.1 632.7v8M309.3 637.8h8M313.3 633.8v8M309.5 637.7h8M313.5 633.7v8M309.7 639h8M313.7 635v8M309.9 638.1h8M313.9 634.1v8M310.1 639.2h8M314.1 635.2v8M310.3 641.4h8M314.3 637.4v8M310.6 642.4h8M314.6 638.4v8M310.8 642.3h8M314.8 638.3v8M311 642.7h8M315 638.7v8M311.2 644.9h8M315.2 640.9v8M311.4 643.2h8M315.4 639.2v8M311.6 645.1h8M315.6 641.1v8M311.8 647.3h8M315.8 643.3v8M312 648.2h8M316 644.2v8M312.2 647.9h8M316.2 643.9v8M312.4 648.2h8M316.4 644.2v8M312.6 651.9h8M316.6 647.9v8M312.8 651.9h8M316.8 647.9v8M313 652.1h8M317 648.1v8M313.2 654h8M317.2 650v8M313.4 655.8h8M317.4 651.8v8M313.6 654.1h8M317.6 650.1v8M313.8 658.3h8M317.8 654.3v8M314 659.2h8M318 655.2v8M314.1 658.2h8M318.1 654.2v8M314.3 661.8h8M318.3 657.8v8M314.5 661.1h8M318.5 657.1v8M314.7 664.8h8M318.7 660.8v8M314.9 665.6h8M318.9 661.6v8M315.1 668.6h8M319.1 664.6v8M315.3 667.8h8M319.3 663.8v8M315.5 669.8h8M319.5 665.8v8M315.6 672.2h8M319.6 668.2v8M315.8 672.4h8M319.8 668.4v8M316 674h8M320 670v8M316.2 676.1h8M320.2 672.1v8M316.4 678.2h8M320.4 674.2v8M316.5 679.1h8M320.5 675.1v8M316.7 682.8h8M320.7 678.8v8M316.9 685.2h8M320.9 681.2v8M317.1 687h8M321.1 683v8M317.3 692h8M321.3 688v8M317.4 691.8h8M321.4 687.8v8M317.6 697h8M321.6 693v8M317.8 697h8M321.8 693v8M318 701.9h8M322 697.9v8M318.1 700.5h8M322.1 696.5v8M318.3 706.8h8M322.3 702.8v8M318.5 709.2h8M322.5 705.2v8M318.6 711.8h8M322.6 707.8v8M318.8 715h8M322.8 711v8M319 719.1h8M323 715.1v8M319.1 721.9h8M323.1 717.9v8M319.3 722.6h8M323.3 718.6v8M319.5 729.4h8M323.5 725.4v8M319.7 733.1h8M323.7 729.1v8M319.8 736.7h8M323.8 732.7v8M320 739.3h8M324 735.3v8" fill="none" stroke="#ff0000" stroke-width="0.7"/>
<path d="M172.4 688.7l7.6 7.6M172.4 696.3l7.6 -7.6M186 673l7.6 7.6M186 680.6l7.6 -7.6M196.1 658.9l7.6 7.6M196.1 666.5l7.6 -7.6M204.2 647.2l7.6 7.6M204.2 654.8l7.6 -7.6M210.9 638.4l7.6 7.6M210.9 646l7.6 -7.6M216.6 632.9l7.6 7.6M216.6 640.5l7.6 -7.6M221.6 626.7l7.6 7.6M221.6 634.3l7.6 -7.6M226.1 621.7l7.6 7.6M226.1 629.3l7.6 -7.6M230.1 617.3l7.6 7.6M230.1 624.9l7.6 -7.6M233.8 612.3l7.6 7.6M233.8 619.9l7.6 -7.6M237.1 609.8l7.6 7.6M237.1 617.4l7.6 -7.6M240.2 608.6l7.6 7.6M240.2 616.2l7.6 -7.6M243.1 605.4l7.6 7.6M243.1 613l7.6 -7.6M245.8 604.2l7.6 7.6M245.8 611.8l7.6 -7.6M248.3 603.2l7.6 7.6M248.3 610.8l7.6 -7.6M250.7 602l7.6 7.6M250.7 609.6l7.6 -7.6M252.9 600.3l7.6 7.6M252.9 607.9l7.6 -7.6M255 600.3l7.6 7.6M255 607.9l7.6 -7.6M257 598.5l7.6 7.6M257 606.1l7.6 -7.6M258.9 598.4l7.6 7.6M258.9 606l7.6 -7.6M260.7 597.9l7.6 7.6M260.7 605.5l7.6 -7.6M262.5 596.9l7.6 7.6M262.5 604.5l7.6 -7.6M264.2 596.4l7.6 7.6M264.2 604l7.6 -7.6M265.8 594.3l7.6 7.6M265.8 601.9l7.6 -7.6M267.3 593.6l7.6 7.6M267.3 601.2l7.6 -7.6M268.8 593.7l7.6 7.6M268.8 601.3l7.6 -7.6M270.2 594.1l7.6 7.6M270.2 601.7l7.6 -7.6M271.6 594.5l7.6 7.6M271.6 602.1l7.6 -7.6M273 591.9l7.6 7.6M273 599.5l7.6 -7.6M274.3 592.7l7.6 7.6M274.3 600.3l7.6 -7.6M275.5 591.4l7.6 7.6M275.5 599l7.6 -7.6M276.7 591.1l7.6 7.6M276.7 598.7l7.6 -7.6M277.9 591.2l7.6 7.6M277.9 598.8l7.6 -7.6M279.1 591.7l7.6 7.6M279.1 599.3l7.6 -7.6M280.2 591l7.6 7.6M280.2 598.6l7.6 -7.6M281.3 591.5l7.6 7.6M281.3 599.1l7.6 -7.6M282.3 589.5l7.6 7.6M282.3 597.1l7.6 -7.6M283.4 590.8l7.6 7.6M283.4 598.4l7.6 -7.6M284.4 590.6l7.6 7.6M284.4 598.2l7.6 -7.6M285.3 589.7l7.6 7.6M285.3 597.3l7.6 -7.6M286.3 589.8l7.6 7.6M286.3 597.4l7.6 -7.6M287.2 588.8l7.6 7.6M287.2 596.4l7.6 -7.6M288.1 588.2l7.6 7.6M288.1 595.8l7.6 -7.6M289 588.6l7.6 7.6M289 596.2l7.6 -7.6M289.9 588.2l7.6 7.6M289.9 595.8l7.6 -7.6M290.8 590.9l7.6 7.6M290.8 598.5l7.6 -7.6M291.6 588.1l7.6 7.6M291.6 595.7l7.6 -7.6M292.4 589.7l7.6 7.6M292.4 597.3l7.6 -7.6M293.2 588.4l7.6 7.6M293.2 596l7.6 -7.6M294 588.4l7.6 7.6M294 596l7.6 -7.6M294.8 588.7l7.6 7.6M294.8 596.3l7.6 -7.6M295.5 587.3l7.6 7.6M295.5 594.9l7.6 -7.6M296.3 588.6l7.6 7.6M296.3 596.2l7.6 -7.6M297 588.1l7.6 7.6M297 595.7l7.6 -7.6M297.7 586.5l7.6 7.6M297.7 594.1l7.6 -7.6M298.4 588.1l7.6 7.6M298.4 595.7l7.6 -7.6M299.1 588l7.6 7.6M299.1 595.6l7.6 -7.6M299.8 587.8l7.6 7.6M299.8 595.4l7.6 -7.6M300.5 588.7l7.6 7.6M300.5 596.3l7.6 -7.6M301.1 587l7.6 7.6M301.1 594.6l7.6 -7.6M301.8 587.7l7.6 7.6M301.8 595.3l7.6 -7.6M302.4 587.8l7.6 7.6M302.4 595.4l7.6 -7.6M303 586.5l7.6 7.6M303 594.1l7.6 -7.6M303.7 588.2l7.6 7.6M303.7 595.8l7.6 -7.6M304.3 586l7.6 7.6M304.3 593.6l7.6 -7.6M304.9 586.2l7.6 7.6M304.9 593.8l7.6 -7.6M305.5 587.6l7.6 7.6M305.5 595.2l7.6 -7.6M306 586.3l7.6 7.6M306 593.9l7.6 -7.6M306.6 587.1l7.6 7.6M306.6 594.7l7.6 -7.6M307.2 585.9l7.6 7.6M307.2 593.5l7.6 -7.6M307.7 587.3l7.6 7.6M307.7 594.9l7.6 -7.6M308.3 586.4l7.6 7.6M308.3 594l7.6 -7.6M308.8 587.6l7.6 7.6M308.8 595.2l7.6 -7.6M309.4 586.1l7.6 7.6M309.4 593.7l7.6 -7.6M309.9 587.7l7.6 7.6M309.9 595.3l7.6 -7.6M310.4 587.1l7.6 7.6M310.4 594.7l7.6 -7.6M310.9 587.4l7.6 7.6M310.9 595l7.6 -7.6M311.4 587.3l7.6 7.6M311.4 594.9l7.6 -7.6M311.9 587.5l7.6 7.6M311.9 595.1l7.6 -7.6M312.4 586.4l7.6 7.6M312.4 594l7.6 -7.6M312.9 585.4l7.6 7.6M312.9 593l7.6 -7.6M313.4 587.5l7.6 7.6M313.4 595.1l7.6 -7.6M313.9 586.8l7.6 7.6M313.9 594.4l7.6 -7.6M314.4 587.2l7.6 7.6M314.4 594.8l7.6 -7.6M314.8 587.9l7.6 7.6M314.8 595.5l7.6 -7.6M315.3 586l7.6 7.6M315.3 593.6l7.6 -7.6M315.7 587l7.6 7.6M315.7 594.6l7.6 -7.6M316.2 587.2l7.6 7.6M316.2 594.8l7.6 -7.6M316.6 586.9l7.6 7.6M316.6 594.5l7.6 -7.6M317.1 588l7.6 7.6M317.1 595.6l7.6 -7.6M317.5 587.7l7.6 7.6M317.5 595.3l7.6 -7.6M318 587.2l7.6 7.6M318 594.8l7.6 -7.6M318.4 587.2l7.6 7.6M318.4 594.8l7.6 -7.6M318.8 588.7l7.6 7.6M318.8 596.3l7.6 -7.6M319.2 587.6l7.6 7.6M319.2 595.2l7.6 -7.6M319.6 588.7l7.6 7.6M319.6 596.3l7.6 -7.6M320 588.7l7.6 7.6M320 596.3l7.6 -7.6M320.5 587l7.6 7.6M320.5 594.6l7.6 -7.6M320.9 587.7l7.6 7.6M320.9 595.3l7.6 -7.6M321.3 588.7l7.6 7.6M321.3 596.3l7.6 -7.6M321.6 589.1l7.6 7.6M321.6 596.7l7.6 -7.6M322 589.6l7.6 7.6M322 597.2l7.6 -7.6M322.4 589.8l7.6 7.6M322.4 597.4l7.6 -7.6M322.8 590.1l7.6 7.6M322.8 597.7l7.6 -7.6M323.2 589.1l7.6 7.6M323.2 596.7l7.6 -7.6M323.6 589.4l7.6 7.6M323.6 597l7.6 -7.6M323.9 590.3l7.6 7.6M323.9 597.9l7.6 -7.6M324.3 589.5l7.6 7.6M324.3 597.1l7.6 -7.6M324.7 590.9l7.6 7.6M324.7 598.5l7.6 -7.6M325 588.9l7.6 7.6M325 596.5l7.6 -7.6M325.4 590.8l7.6 7.6M325.4 598.4l7.6 -7.6M325.7 590.3l7.6 7.6M325.7 597.9l7.6 -7.6M326.1 589l7.6 7.6M326.1 596.6l7.6 -7.6M326.4 591.5l7.6 7.6M326.4 599.1l7.6 -7.6M326.8 591.1l7.6 7.6M326.8 598.7l7.6 -7.6M327.1 591.1l7.6 7.6M327.1 598.7l7.6 -7.6M327.5 590.4l7.6 7.6M327.5 598l7.6 -7.6M327.8 591l7.6 7.6M327.8 598.6l7.6 -7.6M328.1 592.8l7.6 7.6M328.1 600.4l7.6 -7.6M328.5 591.1l7.6 7.6M328.5 598.7l7.6 -7.6M328.8 589.2l7.6 7.6M328.8 596.8l7.6 -7.6M329.1 591.5l7.6 7.6M329.1 599.1l7.6 -7.6M329.5 591.4l7.6 7.6M329.5 599l7.6 -7.6M329.8 592.4l7.6 7.6M329.8 600l7.6 -7.6M330.1 592.4l7.6 7.6M330.1 600l7.6 -7.6M330.4 592.2l7.6 7.6M330.4 599.8l7.6 -7.6M330.7 592.5l7.6 7.6M330.7 600.1l7.6 -7.6M331 594.2l7.6 7.6M331 601.8l7.6 -7.6M331.3 592.5l7.6 7.6M331.3 600.1l7.6 -7.6M331.7 595.4l7.6 7.6M331.7 603l7.6 -7.6M332 593.7l7.6 7.6M332 601.3l7.6 -7.6M332.3 593.5l7.6 7.6M332.3 601.1l7.6 -7.6M332.6 595.2l7.6 7.6M332.6 602.8l7.6 -7.6M332.9 595.3l7.6 7.6M332.9 602.9l7.6 -7.6M333.1 594.3l7.6 7.6M333.1 601.9l7.6 -7.6M333.4 596l7.6 7.6M333.4 603.6l7.6 -7.6M333.7 594.2l7.6 7.6M333.7 601.8l7.6 -7.6M334 595.2l7.6 7.6M334 602.8l7.6 -7.6M334.3 597.1l7.6 7.6M334.3 604.7l7.6 -7.6M334.6 596.3l7.6 7.6M334.6 603.9l7.6 -7.6M334.9 595.8l7.6 7.6M334.9 603.4l7.6 -7.6M335.2 597.6l7.6 7.6M335.2 605.2l7.6 -7.6M335.4 598.3l7.6 7.6M335.4 605.9l7.6 -7.6M335.7 597.9l7.6 7.6M335.7 605.5l7.6 -7.6M336 596.8l7.6 7.6M336 604.4l7.6 -7.6M336.3 598.4l7.6 7.6M336.3 606l7.6 -7.6M336.5 599.4l7.6 7.6M336.5 607l7.6 -7.6M336.8 600.1l7.6 7.6M336.8 607.7l7.6 -7.6M337.1 601.4l7.6 7.6M337.1 609l7.6 -7.6M337.3 600.1l7.6 7.6M337.3 607.7l7.6 -7.6M337.6 600.4l7.6 7.6M337.6 608l7.6 -7.6M337.9 601.2l7.6 7.6M337.9 608.8l7.6 -7.6M338.1 602.6l7.6 7.6M338.1 610.2l7.6 -7.6M338.4 601.4l7.6 7.6M338.4 609l7.6 -7.6M338.6 603.6l7.6 7.6M338.6 611.2l7.6 -7.6M338.9 600.8l7.6 7.6M338.9 608.4l7.6 -7.6M339.1 604.1l7.6 7.6M339.1 611.7l7.6 -7.6M339.4 603.4l7.6 7.6M339.4 611l7.6 -7.6M339.7 604.8l7.6 7.6M339.7 612.4l7.6 -7.6M339.9 605.5l7.6 7.6M339.9 613.1l7.6 -7.6M340.2 604.4l7.6 7.6M340.2 612l7.6 -7.6M340.4 605.8l7.6 7.6M340.4 613.4l7.6 -7.6M340.6 606.6l7.6 7.6M340.6 614.2l7.6 -7.6M340.9 607.4l7.6 7.6M340.9 615l7.6 -7.6M341.1 606.7l7.6 7.6M341.1 614.3l7.6 -7.6M341.4 607.2l7.6 7.6M341.4 614.8l7.6 -7.6M341.6 607l7.6 7.6M341.6 614.6l7.6 -7.6M341.8 611.1l7.6 7.6M341.8 618.7l7.6 -7.6M342.1 609.5l7.6 7.6M342.1 617.1l7.6 -7.6M342.3 610.1l7.6 7.6M342.3 617.7l7.6 -7.6M342.5 609.7l7.6 7.6M342.5 617.3l7.6 -7.6M342.8 612.3l7.6 7.6M342.8 619.9l7.6 -7.6M343 611.8l7.6 7.6M343 619.4l7.6 -7.6M343.2 614l7.6 7.6M343.2 621.6l7.6 -7.6M343.5 614.3l7.6 7.6M343.5 621.9l7.6 -7.6M343.7 614.3l7.6 7.6M343.7 621.9l7.6 -7.6M343.9 615.7l7.6 7.6M343.9 623.3l7.6 -7.6M344.1 615l7.6 7.6M344.1 622.6l7.6 -7.6M344.4 616.5l7.6 7.6M344.4 624.1l7.6 -7.6M344.6 617.3l7.6 7.6M344.6 624.9l7.6 -7.6M344.8 617.7l7.6 7.6M344.8 625.3l7.6 -7.6M345 619.7l7.6 7.6M345 627.3l7.6 -7.6M345.2 620.6l7.6 7.6M345.2 628.2l7.6 -7.6M345.5 622.9l7.6 7.6M345.5 630.5l7.6 -7.6M345.7 620.1l7.6 7.6M345.7 627.7l7.6 -7.6M345.9 623.4l7.6 7.6M345.9 631l7.6 -7.6M346.1 624.3l7.6 7.6M346.1 631.9l7.6 -7.6M346.3 625.8l7.6 7.6M346.3 633.4l7.6 -7.6M346.5 627.8l7.6 7.6M346.5 635.4l7.6 -7.6M346.7 629l7.6 7.6M346.7 636.6l7.6 -7.6M347 630.1l7.6 7.6M347 637.7l7.6 -7.6M347.2 631.2l7.6 7.6M347.2 638.8l7.6 -7.6M347.4 633.7l7.6 7.6M347.4 641.3l7.6 -7.6M347.6 635.4l7.6 7.6M347.6 643l7.6 -7.6M347.8 635l7.6 7.6M347.8 642.6l7.6 -7.6M348 638.7l7.6 7.6M348 646.3l7.6 -7.6M348.2 639.5l7.6 7.6M348.2 647.1l7.6 -7.6M348.4 641.9l7.6 7.6M348.4 649.5l7.6 -7.6M348.6 646l7.6 7.6M348.6 653.6l7.6 -7.6M348.8 648.4l7.6 7.6M348.8 656l7.6 -7.6M349 651l7.6 7.6M349 658.6l7.6 -7.6M349.2 652.3l7.6 7.6M349.2 659.9l7.6 -7.6M349.4 656.5l7.6 7.6M349.4 664.1l7.6 -7.6M349.6 658.4l7.6 7.6M349.6 666l7.6 -7.6M349.8 664.2l7.6 7.6M349.8 671.8l7.6 -7.6M350 668.2l7.6 7.6M350 675.8l7.6 -7.6M350.2 673.7l7.6 7.6M350.2 681.3l7.6 -7.6M350.4 676.5l7.6 7.6M350.4 684.1l7.6 -7.6M350.5 676.1l7.6 7.6M350.5 683.7l7.6 -7.6M350.7 680.7l7.6 7.6M350.7 688.3l7.6 -7.6M350.9 683.6l7.6 7.6M350.9 691.2l7.6 -7.6M351.1 690.3l7.6 7.6M351.1 697.9l7.6 -7.6M351.3 698l7.6 7.6M351.3 705.6l7.6 -7.6M351.5 699.2l7.6 7.6M351.5 706.8l7.6 -7.6M351.7 696.8l7.6 7.6M351.7 704.4l7.6 -7.6M351.9 702.9l7.6 7.6M351.9 710.5l7.6 -7.6M352 706.8l7.6 7.6M352 714.4l7.6 -7.6M352.2 714.8l7.6 7.6M352.2 722.4l7.6 -7.6M352.4 717.7l7.6 7.6M352.4 725.3l7.6 -7.6M352.6 722.3l7.6 7.6M352.6 729.9l7.6 -7.6M352.8 729.6l7.6 7.6M352.8 737.2l7.6 -7.6M352.9 727.8l7.6 7.6M352.9 735.4l7.6 -7.6M353.1 733.5l7.6 7.6M353.1 741.1l7.6 -7.6" fill="none" stroke="#00ff00" stroke-width="0.7"/>
<path d="M188.7 674.1h8M192.7 670.1v8M188.7 670.1l8 8M188.7 678.1l8 -8M199.3 657.7h8M203.3 653.7v8M199.3 653.7l8 8M199.3 661.7l8 -8M207.7 645.7h8M211.7 641.7v8M207.7 641.7l8 8M207.7 649.7l8 -8M214.6 636.2h8M218.6 632.2v8M214.6 632.2l8 8M214.6 640.2l8 -8M220.5 629.6h8M224.5 625.6v8M220.5 625.6l8 8M220.5 633.6l8 -8M225.6 623.1h8M229.6 619.1v8M225.6 619.1l8 8M225.6 627.1l8 -8M230.2 620.1h8M234.2 616.1v8M230.2 616.1l8 8M230.2 624.1l8 -8M234.3 615.6h8M238.3 611.6v8M234.3 611.6l8 8M234.3 619.6l8 -8M238 612.7h8M242 608.7v8M238 608.7l8 8M238 616.7l8 -8M241.4 608.5h8M245.4 604.5v8M241.4 604.5l8 8M241.4 612.5l8 -8M244.6 605h8M248.6 601v8M244.6 601l8 8M244.6 609l8 -8M247.5 602.4h8M251.5 598.4v8M247.5 598.4l8 8M247.5 606.4l8 -8M250.2 602.3h8M254.2 598.3v8M250.2 598.3l8 8M250.2 606.3l8 -8M252.7 597.5h8M256.7 593.5v8M252.7 593.5l8 8M252.7 601.5l8 -8M255.1 597.6h8M259.1 593.6v8M255.1 593.6l8 8M255.1 601.6l8 -8M257.4 596.4h8M261.4 592.4v8M257.4 592.4l8 8M257.4 600.4l8 -8M259.5 595.9h8M263.5 591.9v8M259.5 591.9l8 8M259.5 599.9l8 -8M261.5 594.4h8M265.5 590.4v8M261.5 590.4l8 8M261.5 598.4l8 -8M263.5 594.4h8M267.5 590.4v8M263.5 590.4l8 8M263.5 598.4l8 -8M265.3 594.1h8M269.3 590.1v8M265.3 590.1l8 8M265.3 598.1l8 -8M267.1 592.7h8M271.1 588.7v8M267.1 588.7l8 8M267.1 596.7l8 -8M268.8 591.9h8M272.8 587.9v8M268.8 587.9l8 8M268.8 595.9l8 -8M270.4 591.5h8M274.4 587.5v8M270.4 587.5l8 8M270.4 595.5l8 -8M271.9 590.3h8M275.9 586.3v8M271.9 586.3l8 8M271.9 594.3l8 -8M273.4 590.4h8M277.4 586.4v8M273.4 586.4l8 8M273.4 594.4l8 -8M274.9 589.8h8M278.9 585.8v8M274.9 585.8l8 8M274.9 593.8l8 -8M276.3 589.8h8M280.3 585.8v8M276.3 585.8l8 8M276.3 593.8l8 -8M277.6 590.2h8M281.6 586.2v8M277.6 586.2l8 8M277.6 594.2l8 -8M278.9 589.8h8M282.9 585.8v8M278.9 585.8l8 8M278.9 593.8l8 -8M280.2 588h8M284.2 584v8M280.2 584l8 8M280.2 592l8 -8M281.4 588.5h8M285.4 584.5v8M281.4 584.5l8 8M281.4 592.5l8 -8M282.6 587.9h8M286.6 583.9v8M282.6 583.9l8 8M282.6 591.9l8 -8M283.7 588h8M287.7 584v8M283.7 584l8 8M283.7 592l8 -8M284.9 587.1h8M288.9 583.1v8M284.9 583.1l8 8M284.9 591.1l8 -8M286 587h8M290 583v8M286 583l8 8M286 591l8 -8M287 586.1h8M291 582.1v8M287 582.1l8 8M287 590.1l8 -8M288.1 585.6h8M292.1 581.6v8M288.1 581.6l8 8M288.1 589.6l8 -8M289.1 586.7h8M293.1 582.7v8M289.1 582.7l8 8M289.1 590.7l8 -8M290 586.8h8M294 582.8v8M290 582.8l8 8M290 590.8l8 -8M291 586.1h8M295 582.1v8M291 582.1l8 8M291 590.1l8 -8M291.9 585.7h8M295.9 581.7v8M291.9 581.7l8 8M291.9 589.7l8 -8M292.9 585.4h8M296.9 581.4v8M292.9 581.4l8 8M292.9 589.4l8 -8M293.8 584.6h8M297.8 580.6v8M293.8 580.6l8 8M293.8 588.6l8 -8M294.6 583.4h8M298.6 579.4v8M294.6 579.4l8 8M294.6 587.4l8 -8M295.5 585.2h8M299.5 581.2v8M295.5 581.2l8 8M295.5 589.2l8 -8M296.3 584.6h8M300.3 580.6v8M296.3 580.6l8 8M296.3 588.6l8 -8M297.2 583.9h8M301.2 579.9v8M297.2 579.9l8 8M297.2 587.9l8 -8M298 583.4h8M302 579.4v8M298 579.4l8 8M298 587.4l8 -8M298.8 585h8M302.8 581v8M298.8 581l8 8M298.8 589l8 -8M299.5 582.4h8M303.5 578.4v8M299.5 578.4l8 8M299.5 586.4l8 -8M300.3 585.2h8M304.3 581.2v8M300.3 581.2l8 8M300.3 589.2l8 -8M301 584.2h8M305 580.2v8M301 580.2l8 8M301 588.2l8 -8M301.8 585.5h8M305.8 581.5v8M301.8 581.5l8 8M301.8 589.5l8 -8M302.5 582.9h8M306.5 578.9v8M302.5 578.9l8 8M302.5 586.9l8 -8M303.2 583.4h8M307.2 579.4v8M303.2 579.4l8 8M303.2 587.4l8 -8M303.9 582.9h8M307.9 578.9v8M303.9 578.9l8 8M303.9 586.9l8 -8M304.6 583.4h8M308.6 579.4v8M304.6 579.4l8 8M304.6 587.4l8 -8M305.2 583h8M309.2 579v8M305.2 579l8 8M305.2 587l8 -8M305.9 582.6h8M309.9 578.6v8M305.9 578.6l8 8M305.9 586.6l8 -8M306.6 584h8M310.6 580v8M306.6 580l8 8M306.6 588l8 -8M307.2 582.4h8M311.2 578.4v8M307.2 578.4l8 8M307.2 586.4l8 -8M307.8 582.6h8M311.8 578.6v8M307.8 578.6l8 8M307.8 586.6l8 -8M308.4 583.4h8M312.4 579.4v8M308.4 579.4l8 8M308.4 587.4l8 -8M309 582.5h8M313 578.5v8M309 578.5l8 8M309 586.5l8 -8M309.6 582.5h8M313.6 578.5v8M309.6 578.5l8 8M309.6 586.5l8 -8M310.2 583.1h8M314.2 579.1v8M310.2 579.1l8 8M310.2 587.1l8 -8M310.8 582.5h8M314.8 578.5v8M310.8 578.5l8 8M310.8 586.5l8 -8M311.4 581.7h8M315.4 577.7v8M311.4 577.7l8 8M311.4 585.7l8 -8M312 582.6h8M316 578.6v8M312 578.6l8 8M312 586.6l8 -8M312.5 582.5h8M316.5 578.5v8M312.5 578.5l8 8M312.5 586.5l8 -8M313.1 584h8M317.1 580v8M313.1 580l8 8M313.1 588l8 -8M313.6 581.8h8M317.6 577.8v8M313.6 577.8l8 8M313.6 585.8l8 -8M314.2 583.4h8M318.2 579.4v8M314.2 579.4l8 8M314.2 587.4l8 -8M314.7 582h8M318.7 578v8M314.7 578l8 8M314.7 586l8 -8M315.2 582.3h8M319.2 578.3v8M315.2 578.3l8 8M315.2 586.3l8 -8M315.7 582.3h8M319.7 578.3v8M315.7 578.3l8 8M315.7 586.3l8 -8M316.2 582.8h8M320.2 578.8v8M316.2 578.8l8 8M316.2 586.8l8 -8M316.7 583.3h8M320.7 579.3v8M316.7 579.3l8 8M316.7 587.3l8 -8M317.2 584h8M321.2 580v8M317.2 580l8 8M317.2 588l8 -8M317.7 582.1h8M321.7 578.1v8M317.7 578.1l8 8M317.7 586.1l8 -8M318.2 583.7h8M322.2 579.7v8M318.2 579.7l8 8M318.2 587.7l8 -8M318.7 583.4h8M322.7 579.4v8M318.7 579.4l8 8M318.7 587.4l8 -8M319.2 583.3h8M323.2 579.3v8M319.2 579.3l8 8M319.2 587.3l8 -8M319.6 582h8M323.6 578v8M319.6 578l8 8M319.6 586l8 -8M320.1 583.3h8M324.1 579.3v8M320.1 579.3l8 8M320.1 587.3l8 -8M320.6 582.5h8M324.6 578.5v8M320.6 578.5l8 8M320.6 586.5l8 -8M321 582.9h8M325 578.9v8M321 578.9l8 8M321 586.9l8 -8M321.5 582.4h8M325.5 578.4v8M321.5 578.4l8 8M321.5 586.4l8 -8M321.9 583.2h8M325.9 579.2v8M321.9 579.2l8 8M321.9 587.2l8 -8M322.3 583.5h8M326.3 579.5v8M322.3 579.5l8 8M322.3 587.5l8 -8M322.8 583.6h8M326.8 579.6v8M322.8 579.6l8 8M322.8 587.6l8 -8M323.2 582.5h8M327.2 578.5v8M323.2 578.5l8 8M323.2 586.5l8 -8M323.6 583.5h8M327.6 579.5v8M323.6 579.5l8 8M323.6 587.5l8 -8M324 583.9h8M328 579.9v8M324 579.9l8 8M324 587.9l8 -8M324.5 582h8M328.5 578v8M324.5 578l8 8M324.5 586l8 -8M324.9 583.9h8M328.9 579.9v8M324.9 579.9l8 8M324.9 587.9l8 -8M325.3 581.7h8M329.3 577.7v8M325.3 577.7l8 8M325.3 585.7l8 -8M325.7 583.2h8M329.7 579.2v8M325.7 579.2l8 8M325.7 587.2l8 -8M326.1 583.2h8M330.1 579.2v8M326.1 579.2l8 8M326.1 587.2l8 -8M326.5 583.9h8M330.5 579.9v8M326.5 579.9l8 8M326.5 587.9l8 -8M326.9 583h8M330.9 579v8M326.9 579l8 8M326.9 587l8 -8M327.2 582.4h8M331.2 578.4v8M327.2 578.4l8 8M327.2 586.4l8 -8M327.6 582.1h8M331.6 578.1v8M327.6 578.1l8 8M327.6 586.1l8 -8M328 581.8h8M332 577.8v8M328 577.8l8 8M328 585.8l8 -8M328.4 583.4h8M332.4 579.4v8M328.4 579.4l8 8M328.4 587.4l8 -8M328.8 582.6h8M332.8 578.6v8M328.8 578.6l8 8M328.8 586.6l8 -8M329.1 582.3h8M333.1 578.3v8M329.1 578.3l8 8M329.1 586.3l8 -8M329.5 583.3h8M333.5 579.3v8M329.5 579.3l8 8M329.5 587.3l8 -8M329.8 582.3h8M333.8 578.3v8M329.8 578.3l8 8M329.8 586.3l8 -8M330.2 582.5h8M334.2 578.5v8M330.2 578.5l8 8M330.2 586.5l8 -8M330.6 582.6h8M334.6 578.6v8M330.6 578.6l8 8M330.6 586.6l8 -8M330.9 584.3h8M334.9 580.3v8M330.9 580.3l8 8M330.9 588.3l8 -8M331.3 584.1h8M335.3 580.1v8M331.3 580.1l8 8M331.3 588.1l8 -8M331.6 582.9h8M335.6 578.9v8M331.6 578.9l8 8M331.6 586.9l8 -8M332 581.8h8M336 577.8v8M332 577.8l8 8M332 585.8l8 -8M332.3 583.3h8M336.3 579.3v8M332.3 579.3l8 8M332.3 587.3l8 -8M332.6 583.2h8M336.6 579.2v8M332.6 579.2l8 8M332.6 587.2l8 -8M333 583.4h8M337 579.4v8M333 579.4l8 8M333 587.4l8 -8M333.3 583.6h8M337.3 579.6v8M333.3 579.6l8 8M333.3 587.6l8 -8M333.6 583h8M337.6 579v8M333.6 579l8 8M333.6 587l8 -8M334 584h8M338 580v8M334 580l8 8M334 588l8 -8M334.3 584h8M338.3 580v8M334.3 580l8 8M334.3 588l8 -8M334.6 583.5h8M338.6 579.5v8M334.6 579.5l8 8M334.6 587.5l8 -8M334.9 583.1h8M338.9 579.1v8M334.9 579.1l8 8M334.9 587.1l8 -8M335.2 583.1h8M339.2 579.1v8M335.2 579.1l8 8M335.2 587.1l8 -8M335.6 584h8M339.6 580v8M335.6 580l8 8M335.6 588l8 -8M335.9 582.6h8M339.9 578.6v8M335.9 578.6l8 8M335.9 586.6l8 -8M336.2 583.4h8M340.2 579.4v8M336.2 579.4l8 8M336.2 587.4l8 -8M336.5 583h8M340.5 579v8M336.5 579l8 8M336.5 587l8 -8M336.8 582.6h8M340.8 578.6v8M336.8 578.6l8 8M336.8 586.6l8 -8M337.1 584.2h8M341.1 580.2v8M337.1 580.2l8 8M337.1 588.2l8 -8M337.4 583.8h8M341.4 579.8v8M337.4 579.8l8 8M337.4 587.8l8 -8M337.7 583.9h8M341.7 579.9v8M337.7 579.9l8 8M337.7 587.9l8 -8M338 584.6h8M342 580.6v8M338 580.6l8 8M338 588.6l8 -8M338.3 582.7h8M342.3 578.7v8M338.3 578.7l8 8M338.3 586.7l8 -8M338.6 583.9h8M342.6 579.9v8M338.6 579.9l8 8M338.6 587.9l8 -8M338.9 584.3h8M342.9 580.3v8M338.9 580.3l8 8M338.9 588.3l8 -8M339.1 584.7h8M343.1 580.7v8M339.1 580.7l8 8M339.1 588.7l8 -8M339.4 583.3h8M343.4 579.3v8M339.4 579.3l8 8M339.4 587.3l8 -8M339.7 584.8h8M343.7 580.8v8M339.7 580.8l8 8M339.7 588.8l8 -8M340 584.4h8M344 580.4v8M340 580.4l8 8M340 588.4l8 -8M340.3 585.4h8M344.3 581.4v8M340.3 581.4l8 8M340.3 589.4l8 -8M340.6 585.3h8M344.6 581.3v8M340.6 581.3l8 8M340.6 589.3l8 -8M340.8 584.8h8M344.8 580.8v8M340.8 580.8l8 8M340.8 588.8l8 -8M341.1 586.2h8M345.1 582.2v8M341.1 582.2l8 8M341.1 590.2l8 -8M341.4 584.5h8M345.4 580.5v8M341.4 580.5l8 8M341.4 588.5l8 -8M341.6 584.3h8M345.6 580.3v8M341.6 580.3l8 8M341.6 588.3l8 -8M341.9 584.4h8M345.9 580.4v8M341.9 580.4l8 8M341.9 588.4l8 -8M342.2 584h8M346.2 580v8M342.2 580l8 8M342.2 588l8 -8M342.4 584.8h8M346.4 580.8v8M342.4 580.8l8 8M342.4 588.8l8 -8M342.7 583.4h8M346.7 579.4v8M342.7 579.4l8 8M342.7 587.4l8 -8M343 584.9h8M347 580.9v8M343 580.9l8 8M343 588.9l8 -8M343.2 585.4h8M347.2 581.4v8M343.2 581.4l8 8M343.2 589.4l8 -8M343.5 585.9h8M347.5 581.9v8M343.5 581.9l8 8M343.5 589.9l8 -8M343.7 584.9h8M347.7 580.9v8M343.7 580.9l8 8M343.7 588.9l8 -8M344 586.4h8M348 582.4v8M344 582.4l8 8M344 590.4l8 -8M344.2 584.9h8M348.2 580.9v8M344.2 580.9l8 8M344.2 588.9l8 -8M344.5 585.4h8M348.5 581.4v8M344.5 581.4l8 8M344.5 589.4l8 -8M344.7 584.1h8M348.7 580.1v8M344.7 580.1l8 8M344.7 588.1l8 -8M345 585h8M349 581v8M345 581l8 8M345 589l8 -8M345.2 585.1h8M349.2 581.1v8M345.2 581.1l8 8M345.2 589.1l8 -8M345.5 587h8M349.5 583v8M345.5 583l8 8M345.5 591l8 -8M345.7 586.3h8M349.7 582.3v8M345.7 582.3l8 8M345.7 590.3l8 -8M346 585.2h8M350 581.2v8M346 581.2l8 8M346 589.2l8 -8M346.2 586.6h8M350.2 582.6v8M346.2 582.6l8 8M346.2 590.6l8 -8M346.5 586.6h8M350.5 582.6v8M346.5 582.6l8 8M346.5 590.6l8 -8M346.7 586.2h8M350.7 582.2v8M346.7 582.2l8 8M346.7 590.2l8 -8M346.9 586.5h8M350.9 582.5v8M346.9 582.5l8 8M346.9 590.5l8 -8M347.2 586.3h8M351.2 582.3v8M347.2 582.3l8 8M347.2 590.3l8 -8M347.4 586.2h8M351.4 582.2v8M347.4 582.2l8 8M347.4 590.2l8 -8M347.6 585.4h8M351.6 581.4v8M347.6 581.4l8 8M347.6 589.4l8 -8M347.9 586.8h8M351.9 582.8v8M347.9 582.8l8 8M347.9 590.8l8 -8M348.1 588h8M352.1 584v8M348.1 584l8 8M348.1 592l8 -8M348.3 588.2h8M352.3 584.2v8M348.3 584.2l8 8M348.3 592.2l8 -8M348.5 587h8M352.5 583v8M348.5 583l8 8M348.5 591l8 -8M348.8 586.8h8M352.8 582.8v8M348.8 582.8l8 8M348.8 590.8l8 -8M349 587.3h8M353 583.3v8M349 583.3l8 8M349 591.3l8 -8M349.2 588.3h8M353.2 584.3v8M349.2 584.3l8 8M349.2 592.3l8 -8M349.4 588h8M353.4 584v8M349.4 584l8 8M349.4 592l8 -8M349.7 587.4h8M353.7 583.4v8M349.7 583.4l8 8M349.7 591.4l8 -8M349.9 588.2h8M353.9 584.2v8M349.9 584.2l8 8M349.9 592.2l8 -8M350.1 587.9h8M354.1 583.9v8M350.1 583.9l8 8M350.1 591.9l8 -8M350.3 588.6h8M354.3 584.6v8M350.3 584.6l8 8M350.3 592.6l8 -8M350.5 588h8M354.5 584v8M350.5 584l8 8M350.5 592l8 -8M350.7 587.3h8M354.7 583.3v8M350.7 583.3l8 8M350.7 591.3l8 -8M351 588.6h8M355 584.6v8M351 584.6l8 8M351 592.6l8 -8M351.2 589.3h8M355.2 585.3v8M351.2 585.3l8 8M351.2 593.3l8 -8M351.4 588h8M355.4 584v8M351.4 584l8 8M351.4 592l8 -8M351.6 589h8M355.6 585v8M351.6 585l8 8M351.6 593l8 -8M351.8 589.9h8M355.8 585.9v8M351.8 585.9l8 8M351.8 593.9l8 -8M352 589.1h8M356 585.1v8M352 585.1l8 8M352 593.1l8 -8M352.2 589.1h8M356.2 585.1v8M352.2 585.1l8 8M352.2 593.1l8 -8M352.4 591.3h8M356.4 587.3v8M352.4 587.3l8 8M352.4 595.3l8 -8M352.6 590.6h8M356.6 586.6v8M352.6 586.6l8 8M352.6 594.6l8 -8M352.8 590.9h8M356.8 586.9v8M352.8 586.9l8 8M352.8 594.9l8 -8M353 589.6h8M357 585.6v8M353 585.6l8 8M353 593.6l8 -8M353.2 591.8h8M357.2 587.8v8M353.2 587.8l8 8M353.2 595.8l8 -8M353.4 589.4h8M357.4 585.4v8M353.4 585.4l8 8M353.4 593.4l8 -8M353.6 590.5h8M357.6 586.5v8M353.6 586.5l8 8M353.6 594.5l8 -8M353.8 591.7h8M357.8 587.7v8M353.8 587.7l8 8M353.8 595.7l8 -8M354 592.4h8M358 588.4v8M354 588.4l8 8M354 596.4l8 -8M354.2 590.8h8M358.2 586.8v8M354.2 586.8l8 8M354.2 594.8l8 -8M354.4 591.2h8M358.4 587.2v8M354.4 587.2l8 8M354.4 595.2l8 -8M354.6 592.1h8M358.6 588.1v8M354.6 588.1l8 8M354.6 596.1l8 -8M354.8 590.7h8M358.8 586.7v8M354.8 586.7l8 8M354.8 594.7l8 -8M355 592.9h8M359 588.9v8M355 588.9l8 8M355 596.9l8 -8M355.2 593.1h8M359.2 589.1v8M355.2 589.1l8 8M355.2 597.1l8 -8M355.4 592.5h8M359.4 588.5v8M355.4 588.5l8 8M355.4 596.5l8 -8M355.6 593.5h8M359.6 589.5v8M355.6 589.5l8 8M355.6 597.5l8 -8M355.8 594h8M359.8 590v8M355.8 590l8 8M355.8 598l8 -8M356 593.9h8M360 589.9v8M356 589.9l8 8M356 597.9l8 -8M356.2 594.3h8M360.2 590.3v8M356.2 590.3l8 8M356.2 598.3l8 -8M356.3 595.3h8M360.3 591.3v8M356.3 591.3l8 8M356.3 599.3l8 -8M356.5 594.1h8M360.5 590.1v8M356.5 590.1l8 8M356.5 598.1l8 -8M356.7 594.9h8M360.7 590.9v8M356.7 590.9l8 8M356.7 598.9l8 -8M356.9 594.6h8M360.9 590.6v8M356.9 590.6l8 8M356.9 598.6l8 -8M357.1 596.2h8M361.1 592.2v8M357.1 592.2l8 8M357.1 600.2l8 -8M357.3 595.4h8M361.3 591.4v8M357.3 591.4l8 8M357.3 599.4l8 -8M357.4 596.4h8M361.4 592.4v8M357.4 592.4l8 8M357.4 600.4l8 -8M357.6 596.4h8M361.6 592.4v8M357.6 592.4l8 8M357.6 600.4l8 -8M357.8 596.7h8M361.8 592.7v8M357.8 592.7l8 8M357.8 600.7l8 -8M358 598.4h8M362 594.4v8M358 594.4l8 8M358 602.4l8 -8M358.2 597.3h8M362.2 593.3v8M358.2 593.3l8 8M358.2 601.3l8 -8M358.3 598.8h8M362.3 594.8v8M358.3 594.8l8 8M358.3 602.8l8 -8M358.5 598.7h8M362.5 594.7v8M358.5 594.7l8 8M358.5 602.7l8 -8M358.7 599.5h8M362.7 595.5v8M358.7 595.5l8 8M358.7 603.5l8 -8M358.9 598.7h8M362.9 594.7v8M358.9 594.7l8 8M358.9 602.7l8 -8M359 599.9h8M363 595.9v8M359 595.9l8 8M359 603.9l8 -8M359.2 600.2h8M363.2 596.2v8M359.2 596.2l8 8M359.2 604.2l8 -8M359.4 599.5h8M363.4 595.5v8M359.4 595.5l8 8M359.4 603.5l8 -8M359.6 600.6h8M363.6 596.6v8M359.6 596.6l8 8M359.6 604.6l8 -8M359.7 600.7h8M363.7 596.7v8M359.7 596.7l8 8M359.7 604.7l8 -8M359.9 601.2h8M363.9 597.2v8M359.9 597.2l8 8M359.9 605.2l8 -8M360.1 602.6h8M364.1 598.6v8M360.1 598.6l8 8M360.1 606.6l8 -8M360.2 601.5h8M364.2 597.5v8M360.2 597.5l8 8M360.2 605.5l8 -8M360.4 601.2h8M364.4 597.2v8M360.4 597.2l8 8M360.4 605.2l8 -8M360.6 601.6h8M364.6 597.6v8M360.6 597.6l8 8M360.6 605.6l8 -8M360.8 603.1h8M364.8 599.1v8M360.8 599.1l8 8M360.8 607.1l8 -8M360.9 603.4h8M364.9 599.4v8M360.9 599.4l8 8M360.9 607.4l8 -8M361.1 604.4h8M365.1 600.4v8M361.1 600.4l8 8M361.1 608.4l8 -8M361.2 605.4h8M365.2 601.4v8M361.2 601.4l8 8M361.2 609.4l8 -8M361.4 606.8h8M365.4 602.8v8M361.4 602.8l8 8M361.4 610.8l8 -8M361.6 606.2h8M365.6 602.2v8M361.6 602.2l8 8M361.6 610.2l8 -8M361.7 606.8h8M365.7 602.8v8M361.7 602.8l8 8M361.7 610.8l8 -8M361.9 606.4h8M365.9 602.4v8M361.9 602.4l8 8M361.9 610.4l8 -8M362.1 607.9h8M366.1 603.9v8M362.1 603.9l8 8M362.1 611.9l8 -8M362.2 609.1h8M366.2 605.1v8M362.2 605.1l8 8M362.2 613.1l8 -8M362.4 609.6h8M366.4 605.6v8M362.4 605.6l8 8M362.4 613.6l8 -8M362.5 607.6h8M366.5 603.6v8M362.5 603.6l8 8M362.5 611.6l8 -8M362.7 610.3h8M366.7 606.3v8M362.7 606.3l8 8M362.7 614.3l8 -8M362.9 611.3h8M366.9 607.3v8M362.9 607.3l8 8M362.9 615.3l8 -8M363 611.3h8M367 607.3v8M363 607.3l8 8M363 615.3l8 -8M363.2 610h8M367.2 606v8M363.2 606l8 8M363.2 614l8 -8M363.3 611.4h8M367.3 607.4v8M363.3 607.4l8 8M363.3 615.4l8 -8M363.5 612.7h8M367.5 608.7v8M363.5 608.7l8 8M363.5 616.7l8 -8M363.7 613.1h8M367.7 609.1v8M363.7 609.1l8 8M363.7 617.1l8 -8M363.8 612.7h8M367.8 608.7v8M363.8 608.7l8 8M363.8 616.7l8 -8M364 613.3h8M368 609.3v8M364 609.3l8 8M364 617.3l8 -8M364.1 615.3h8M368.1 611.3v8M364.1 611.3l8 8M364.1 619.3l8 -8M364.3 614.2h8M368.3 610.2v8M364.3 610.2l8 8M364.3 618.2l8 -8M364.4 617h8M368.4 613v8M364.4 613l8 8M364.4 621l8 -8M364.6 616.7h8M368.6 612.7v8M364.6 612.7l8 8M364.6 620.7l8 -8M364.7 617.6h8M368.7 613.6v8M364.7 613.6l8 8M364.7 621.6l8 -8M364.9 617.2h8M368.9 613.2v8M364.9 613.2l8 8M364.9 621.2l8 -8M365 618.7h8M369 614.7v8M365 614.7l8 8M365 622.7l8 -8M365.2 620.6h8M369.2 616.6v8M365.2 616.6l8 8M365.2 624.6l8 -8M365.3 620h8M369.3 616v8M365.3 616l8 8M365.3 624l8 -8M365.5 623.9h8M369.5 619.9v8M365.5 619.9l8 8M365.5 627.9l8 -8M365.6 622.4h8M369.6 618.4v8M365.6 618.4l8 8M365.6 626.4l8 -8M365.8 623.8h8M369.8 619.8v8M365.8 619.8l8 8M365.8 627.8l8 -8M365.9 626.1h8M369.9 622.1v8M365.9 622.1l8 8M365.9 630.1l8 -8M366.1 627.8h8M370.1 623.8v8M366.1 623.8l8 8M366.1 631.8l8 -8M366.2 629.3h8M370.2 625.3v8M366.2 625.3l8 8M366.2 633.3l8 -8M366.4 629.9h8M370.4 625.9v8M366.4 625.9l8 8M366.4 633.9l8 -8M366.5 631.5h8M370.5 627.5v8M366.5 627.5l8 8M366.5 635.5l8 -8M366.6 632.9h8M370.6 628.9v8M366.6 628.9l8 8M366.6 636.9l8 -8M366.8 634.1h8M370.8 630.1v8M366.8 630.1l8 8M366.8 638.1l8 -8M366.9 634h8M370.9 630v8M366.9 630l8 8M366.9 638l8 -8M367.1 638.4h8M371.1 634.4v8M367.1 634.4l8 8M367.1 642.4l8 -8M367.2 639.4h8M371.2 635.4v8M367.2 635.4l8 8M367.2 643.4l8 -8M367.4 641.1h8M371.4 637.1v8M367.4 637.1l8 8M367.4 645.1l8 -8M367.5 642.1h8M371.5 638.1v8M367.5 638.1l8 8M367.5 646.1l8 -8M367.6 644.7h8M371.6 640.7v8M367.6 640.7l8 8M367.6 648.7l8 -8M367.8 646.3h8M371.8 642.3v8M367.8 642.3l8 8M367.8 650.3l8 -8M367.9 648.2h8M371.9 644.2v8M367.9 644.2l8 8M367.9 652.2l8 -8M368.1 651.3h8M372.1 647.3v8M368.1 647.3l8 8M368.1 655.3l8 -8M368.2 650.3h8M372.2 646.3v8M368.2 646.3l8 8M368.2 654.3l8 -8M368.3 654.4h8M372.3 650.4v8M368.3 650.4l8 8M368.3 658.4l8 -8M368.5 655h8M372.5 651v8M368.5 651l8 8M368.5 659l8 -8M368.6 657.7h8M372.6 653.7v8M368.6 653.7l8 8M368.6 661.7l8 -8M368.8 661.8h8M372.8 657.8v8M368.8 657.8l8 8M368.8 665.8l8 -8M368.9 661h8M372.9 657v8M368.9 657l8 8M368.9 665l8 -8M369 664.4h8M373 660.4v8M369 660.4l8 8M369 668.4l8 -8M369.2 666.1h8M373.2 662.1v8M369.2 662.1l8 8M369.2 670.1l8 -8M369.3 670.6h8M373.3 666.6v8M369.3 666.6l8 8M369.3 674.6l8 -8M369.4 670.6h8M373.4 666.6v8M369.4 666.6l8 8M369.4 674.6l8 -8M369.6 672.3h8M373.6 668.3v8M369.6 668.3l8 8M369.6 676.3l8 -8M369.7 679.2h8M373.7 675.2v8M369.7 675.2l8 8M369.7 683.2l8 -8M369.8 681.2h8M373.8 677.2v8M369.8 677.2l8 8M369.8 685.2l8 -8M370 684.8h8M374 680.8v8M370 680.8l8 8M370 688.8l8 -8M370.1 691.1h8M374.1 687.1v8M370.1 687.1l8 8M370.1 695.1l8 -8M370.2 690.9h8M374.2 686.9v8M370.2 686.9l8 8M370.2 694.9l8 -8M370.4 695.4h8M374.4 691.4v8M370.4 691.4l8 8M370.4 699.4l8 -8M370.5 699.9h8M374.5 695.9v8M370.5 695.9l8 8M370.5 703.9l8 -8M370.6 704h8M374.6 700v8M370.6 700l8 8M370.6 708l8 -8M370.8 705.9h8M374.8 701.9v8M370.8 701.9l8 8M370.8 709.9l8 -8M370.9 712.4h8M374.9 708.4v8M370.9 708.4l8 8M370.9 716.4l8 -8M371 718.3h8M375 714.3v8M371 714.3l8 8M371 722.3l8 -8M371.1 716.9h8M375.1 712.9v8M371.1 712.9l8 8M371.1 720.9l8 -8M371.3 724.8h8M375.3 720.8v8M371.3 720.8l8 8M371.3 728.8l8 -8M371.4 720.9h8M375.4 716.9v8M371.4 716.9l8 8M371.4 724.9l8 -8M371.5 731.1h8M375.5 727.1v8M371.5 727.1l8 8M371.5 735.1l8 -8M371.7 731.4h8M375.7 727.4v8M371.7 727.4l8 8M371.7 735.4l8 -8M371.8 735.9h8M375.8 731.9v8M371.8 731.9l8 8M371.8 739.9l8 -8M371.9 738.6h8M375.9 734.6v8M371.9 734.6l8 8M371.9 742.6l8 -8M372 739.3h8M376 735.3v8M372 735.3l8 8M372 743.3l8 -8" fill="none" stroke="#0000ff" stroke-width="0.7"/>
<path d="M246.8 598.8h7.5v7.5h-7.5zM266.9 579.2h7.5v7.5h-7.5zM280.2 567.8h7.5v7.5h-7.5zM290.1 560.6h7.5v7.5h-7.5zM298.1 548.6h7.5v7.5h-7.5zM304.8 542.4h7.5v7.5h-7.5zM310.5 539.4h7.5v7.5h-7.5zM315.5 536.8h7.5v7.5h-7.5zM319.9 534.4h7.5v7.5h-7.5zM323.9 535.1h7.5v7.5h-7.5zM327.6 533.1h7.5v7.5h-7.5zM330.9 531.7h7.5v7.5h-7.5zM334 530.4h7.5v7.5h-7.5zM336.8 529.2h7.5v7.5h-7.5zM339.5 530.2h7.5v7.5h-7.5zM342 529.2h7.5v7.5h-7.5zM344.4 527.2h7.5v7.5h-7.5zM346.6 528.2h7.5v7.5h-7.5zM348.7 526.2h7.5v7.5h-7.5zM350.7 527.1h7.5v7.5h-7.5zM352.6 525.5h7.5v7.5h-7.5zM354.4 525.6h7.5v7.5h-7.5zM356.2 526h7.5v7.5h-7.5zM357.8 525.7h7.5v7.5h-7.5zM359.4 525.8h7.5v7.5h-7.5zM361 524.2h7.5v7.5h-7.5zM362.5 525.8h7.5v7.5h-7.5zM363.9 525.4h7.5v7.5h-7.5zM365.3 524.2h7.5v7.5h-7.5zM366.6 524.4h7.5v7.5h-7.5zM367.9 523.3h7.5v7.5h-7.5zM369.2 523.6h7.5v7.5h-7.5zM370.4 522.5h7.5v7.5h-7.5zM371.6 523.4h7.5v7.5h-7.5zM372.7 523.4h7.5v7.5h-7.5zM373.8 524.1h7.5v7.5h-7.5zM374.9 523.7h7.5v7.5h-7.5zM376 523.4h7.5v7.5h-7.5zM377 522.4h7.5v7.5h-7.5zM378 522.4h7.5v7.5h-7.5zM379 522.2h7.5v7.5h-7.5zM379.9 522.6h7.5v7.5h-7.5zM380.9 520.9h7.5v7.5h-7.5zM381.8 522.9h7.5v7.5h-7.5zM382.7 521h7.5v7.5h-7.5zM383.5 521.8h7.5v7.5h-7.5zM384.4 522.2h7.5v7.5h-7.5zM385.2 521.8h7.5v7.5h-7.5zM386 523.4h7.5v7.5h-7.5zM386.8 522.1h7.5v7.5h-7.5zM387.6 523.4h7.5v7.5h-7.5zM388.4 523.1h7.5v7.5h-7.5zM389.2 521.9h7.5v7.5h-7.5zM389.9 522.6h7.5v7.5h-7.5zM390.6 523.3h7.5v7.5h-7.5zM391.3 522.1h7.5v7.5h-7.5zM392 522.5h7.5v7.5h-7.5zM392.7 522.1h7.5v7.5h-7.5zM393.4 522.6h7.5v7.5h-7.5zM394.1 522.3h7.5v7.5h-7.5zM394.7 522.7h7.5v7.5h-7.5zM395.4 523.5h7.5v7.5h-7.5zM396 523.8h7.5v7.5h-7.5zM396.7 522.9h7.5v7.5h-7.5zM397.3 523h7.5v7.5h-7.5zM397.9 523.5h7.5v7.5h-7.5zM398.5 522.7h7.5v7.5h-7.5zM399.1 522.1h7.5v7.5h-7.5zM399.7 523.8h7.5v7.5h-7.5zM400.2 522.3h7.5v7.5h-7.5zM400.8 523.8h7.5v7.5h-7.5zM401.3 522.4h7.5v7.5h-7.5zM401.9 524.5h7.5v7.5h-7.5zM402.4 522.4h7.5v7.5h-7.5zM403 523.9h7.5v7.5h-7.5zM403.5 524.4h7.5v7.5h-7.5zM404 522.6h7.5v7.5h-7.5zM404.5 524.5h7.5v7.5h-7.5zM405 522.8h7.5v7.5h-7.5zM405.6 522.1h7.5v7.5h-7.5zM406 524h7.5v7.5h-7.5zM406.5 524.1h7.5v7.5h-7.5zM407 523.4h7.5v7.5h-7.5zM407.5 521.7h7.5v7.5h-7.5zM408 523.7h7.5v7.5h-7.5zM408.4 523.5h7.5v7.5h-7.5zM408.9 523.5h7.5v7.5h-7.5zM409.4 523.7h7.5v7.5h-7.5zM409.8 522.6h7.5v7.5h-7.5zM410.2 523.6h7.5v7.5h-7.5zM410.7 525.5h7.5v7.5h-7.5zM411.1 525.4h7.5v7.5h-7.5zM411.6 524h7.5v7.5h-7.5zM412 523.9h7.5v7.5h-7.5zM412.4 524.8h7.5v7.5h-7.5zM412.8 525.5h7.5v7.5h-7.5zM413.2 525.3h7.5v7.5h-7.5zM413.6 524h7.5v7.5h-7.5zM414.1 525.1h7.5v7.5h-7.5zM414.5 525.2h7.5v7.5h-7.5zM414.9 526.4h7.5v7.5h-7.5zM415.2 526.3h7.5v7.5h-7.5zM415.6 525.9h7.5v7.5h-7.5zM416 526.6h7.5v7.5h-7.5zM416.4 525.5h7.5v7.5h-7.5zM416.8 527.2h7.5v7.5h-7.5zM417.2 525.8h7.5v7.5h-7.5zM417.5 526.6h7.5v7.5h-7.5zM417.9 527.1h7.5v7.5h-7.5zM418.3 525.9h7.5v7.5h-7.5zM418.6 526.2h7.5v7.5h-7.5zM419 525.5h7.5v7.5h-7.5zM419.3 527.2h7.5v7.5h-7.5zM419.7 527.2h7.5v7.5h-7.5zM420 527.1h7.5v7.5h-7.5zM420.4 527.9h7.5v7.5h-7.5zM420.7 526.1h7.5v7.5h-7.5zM421.1 527.8h7.5v7.5h-7.5zM421.4 528.1h7.5v7.5h-7.5zM421.7 528h7.5v7.5h-7.5zM422.1 529h7.5v7.5h-7.5zM422.4 530h7.5v7.5h-7.5zM422.7 528.5h7.5v7.5h-7.5zM423.1 528.3h7.5v7.5h-7.5zM423.4 528.8h7.5v7.5h-7.5zM423.7 529.5h7.5v7.5h-7.5zM424 530.1h7.5v7.5h-7.5zM424.3 529.3h7.5v7.5h-7.5zM424.6 530.9h7.5v7.5h-7.5zM424.9 529.6h7.5v7.5h-7.5zM425.2 531.3h7.5v7.5h-7.5zM425.6 531.2h7.5v7.5h-7.5zM425.9 531.5h7.5v7.5h-7.5zM426.2 533.1h7.5v7.5h-7.5zM426.4 531.5h7.5v7.5h-7.5zM426.7 531.8h7.5v7.5h-7.5zM427 532.6h7.5v7.5h-7.5zM427.3 533.1h7.5v7.5h-7.5zM427.6 531.7h7.5v7.5h-7.5zM427.9 533.2h7.5v7.5h-7.5zM428.2 532.7h7.5v7.5h-7.5zM428.5 534.1h7.5v7.5h-7.5zM428.8 534.9h7.5v7.5h-7.5zM429 534.2h7.5v7.5h-7.5zM429.3 534.3h7.5v7.5h-7.5zM429.6 534.9h7.5v7.5h-7.5zM429.9 532.8h7.5v7.5h-7.5zM430.1 535.9h7.5v7.5h-7.5zM430.4 536.1h7.5v7.5h-7.5zM430.7 536.1h7.5v7.5h-7.5zM430.9 536h7.5v7.5h-7.5zM431.2 536.2h7.5v7.5h-7.5zM431.5 537h7.5v7.5h-7.5zM431.7 538.4h7.5v7.5h-7.5zM432 537.8h7.5v7.5h-7.5zM432.2 539.4h7.5v7.5h-7.5zM432.5 536.8h7.5v7.5h-7.5zM432.7 538.9h7.5v7.5h-7.5zM433 540h7.5v7.5h-7.5zM433.2 540.3h7.5v7.5h-7.5zM433.5 539.6h7.5v7.5h-7.5zM433.7 541h7.5v7.5h-7.5zM434 543.2h7.5v7.5h-7.5zM434.2 542h7.5v7.5h-7.5zM434.5 543h7.5v7.5h-7.5zM434.7 543.8h7.5v7.5h-7.5zM435 545.1h7.5v7.5h-7.5zM435.2 546.9h7.5v7.5h-7.5zM435.4 547.9h7.5v7.5h-7.5zM435.7 546.9h7.5v7.5h-7.5zM435.9 550.6h7.5v7.5h-7.5zM436.1 550.1h7.5v7.5h-7.5zM436.4 551.2h7.5v7.5h-7.5zM436.6 554.2h7.5v7.5h-7.5zM436.8 554.2h7.5v7.5h-7.5zM437.1 554.8h7.5v7.5h-7.5zM437.3 556.8h7.5v7.5h-7.5zM437.5 558.3h7.5v7.5h-7.5zM437.7 559.7h7.5v7.5h-7.5zM438 562h7.5v7.5h-7.5zM438.2 564.8h7.5v7.5h-7.5zM438.4 566.1h7.5v7.5h-7.5zM438.6 566.2h7.5v7.5h-7.5zM438.8 572.2h7.5v7.5h-7.5zM439.1 570.4h7.5v7.5h-7.5zM439.3 573.5h7.5v7.5h-7.5zM439.5 575.5h7.5v7.5h-7.5zM439.7 578.5h7.5v7.5h-7.5zM439.9 579.5h7.5v7.5h-7.5zM440.1 582.7h7.5v7.5h-7.5zM440.3 587.2h7.5v7.5h-7.5zM440.5 587.2h7.5v7.5h-7.5zM440.8 588.2h7.5v7.5h-7.5zM441 593.3h7.5v7.5h-7.5zM441.2 594.7h7.5v7.5h-7.5zM441.4 599.5h7.5v7.5h-7.5zM441.6 605.3h7.5v7.5h-7.5zM441.8 609.9h7.5v7.5h-7.5zM442 612.5h7.5v7.5h-7.5zM442.2 618.7h7.5v7.5h-7.5zM442.4 620.5h7.5v7.5h-7.5zM442.6 622.3h7.5v7.5h-7.5zM442.8 631.5h7.5v7.5h-7.5zM443 633.8h7.5v7.5h-7.5zM443.2 647.4h7.5v7.5h-7.5zM443.4 648.4h7.5v7.5h-7.5zM443.6 663.2h7.5v7.5h-7.5zM443.8 671h7.5v7.5h-7.5zM443.9 665.7h7.5v7.5h-7.5zM444.1 680.4h7.5v7.5h-7.5zM444.3 691.2h7.5v7.5h-7.5zM444.5 712.2h7.5v7.5h-7.5zM444.7 705.6h7.5v7.5h-7.5zM444.9 727.9h7.5v7.5h-7.5zM445.1 735.5h7.5v7.5h-7.5zM445.3 735.5h7.5v7.5h-7.5z" fill="none" stroke="#ff00ff" stroke-width="0.7"/><path d="M250.3 602.6h.6M270.3 583h.6M283.6 571.5h.6M293.6 564.4h.6M301.6 552.4h.6M308.2 546.2h.6M313.9 543.1h.6M318.9 540.5h.6M323.4 538.1h.6M327.4 538.8h.6M331 536.8h.6M334.3 535.5h.6M337.4 534.2h.6M340.3 532.9h.6M342.9 534h.6M345.5 532.9h.6M347.8 531h.6M350 532h.6M352.1 529.9h.6M354.1 530.9h.6M356.1 529.3h.6M357.9 529.4h.6M359.6 529.7h.6M361.3 529.4h.6M362.9 529.6h.6M364.4 527.9h.6M365.9 529.6h.6M367.3 529.2h.6M368.7 527.9h.6M370.1 528.1h.6M371.4 527h.6M372.6 527.3h.6M373.8 526.3h.6M375 527.2h.6M376.2 527.1h.6M377.3 527.9h.6M378.4 527.4h.6M379.4 527.2h.6M380.4 526.2h.6M381.4 526.2h.6M382.4 526h.6M383.4 526.3h.6M384.3 524.6h.6M385.2 526.6h.6M386.1 524.8h.6M387 525.5h.6M387.8 525.9h.6M388.7 525.5h.6M389.5 527.2h.6M390.3 525.8h.6M391.1 527.1h.6M391.8 526.9h.6M392.6 525.6h.6M393.3 526.4h.6M394.1 527.1h.6M394.8 525.9h.6M395.5 526.3h.6M396.2 525.8h.6M396.9 526.3h.6M397.5 526.1h.6M398.2 526.5h.6M398.8 527.2h.6M399.5 527.6h.6M400.1 526.6h.6M400.7 526.7h.6M401.3 527.3h.6M401.9 526.4h.6M402.5 525.9h.6M403.1 527.6h.6M403.7 526h.6M404.2 527.5h.6M404.8 526.1h.6M405.3 528.3h.6M405.9 526.1h.6M406.4 527.6h.6M407 528.2h.6M407.5 526.3h.6M408 528.2h.6M408.5 526.5h.6M409 525.8h.6M409.5 527.8h.6M410 527.8h.6M410.5 527.2h.6M410.9 525.5h.6M411.4 527.4h.6M411.9 527.3h.6M412.3 527.3h.6M412.8 527.4h.6M413.3 526.3h.6M413.7 527.4h.6M414.1 529.3h.6M414.6 529.2h.6M415 527.8h.6M415.4 527.6h.6M415.9 528.6h.6M416.3 529.2h.6M416.7 529.1h.6M417.1 527.7h.6M417.5 528.9h.6M417.9 529h.6M418.3 530.1h.6M418.7 530.1h.6M419.1 529.7h.6M419.5 530.4h.6M419.9 529.3h.6M420.2 530.9h.6M420.6 529.5h.6M421 530.3h.6M421.3 530.9h.6M421.7 529.6h.6M422.1 529.9h.6M422.4 529.3h.6M422.8 530.9h.6M423.1 530.9h.6M423.5 530.9h.6M423.8 531.6h.6M424.2 529.8h.6M424.5 531.6h.6M424.9 531.8h.6M425.2 531.8h.6M425.5 532.8h.6M425.9 533.7h.6M426.2 532.2h.6M426.5 532.1h.6M426.8 532.5h.6M427.1 533.3h.6M427.5 533.9h.6M427.8 533h.6M428.1 534.7h.6M428.4 533.4h.6M428.7 535h.6M429 535h.6M429.3 535.3h.6M429.6 536.8h.6M429.9 535.2h.6M430.2 535.6h.6M430.5 536.3h.6M430.8 536.9h.6M431.1 535.5h.6M431.4 537h.6M431.6 536.5h.6M431.9 537.8h.6M432.2 538.7h.6M432.5 537.9h.6M432.8 538.1h.6M433 538.6h.6M433.3 536.5h.6M433.6 539.7h.6M433.8 539.8h.6M434.1 539.9h.6M434.4 539.8h.6M434.6 539.9h.6M434.9 540.7h.6M435.2 542.2h.6M435.4 541.6h.6M435.7 543.1h.6M435.9 540.6h.6M436.2 542.6h.6M436.4 543.7h.6M436.7 544h.6M436.9 543.3h.6M437.2 544.7h.6M437.4 546.9h.6M437.7 545.7h.6M437.9 546.8h.6M438.2 547.5h.6M438.4 548.8h.6M438.6 550.7h.6M438.9 551.6h.6M439.1 550.6h.6M439.4 554.3h.6M439.6 553.8h.6M439.8 555h.6M440.1 557.9h.6M440.3 558h.6M440.5 558.5h.6M440.7 560.5h.6M441 562.1h.6M441.2 563.5h.6M441.4 565.8h.6M441.6 568.5h.6M441.9 569.8h.6M442.1 570h.6M442.3 575.9h.6M442.5 574.1h.6M442.7 577.3h.6M442.9 579.3h.6M443.2 582.3h.6M443.4 583.2h.6M443.6 586.5h.6M443.8 590.9h.6M444 590.9h.6M444.2 592h.6M444.4 597h.6M444.6 598.5h.6M444.8 603.3h.6M445 609h.6M445.2 613.6h.6M445.4 616.2h.6M445.6 622.4h.6M445.8 624.3h.6M446 626h.6M446.2 635.3h.6M446.4 637.6h.6M446.6 651.2h.6M446.8 652.2h.6M447 667h.6M447.2 674.8h.6M447.4 669.5h.6M447.6 684.2h.6M447.8 695h.6M448 716h.6M448.2 709.3h.6M448.3 731.6h.6M448.5 739.3h.6M448.7 739.3h.6" stroke="#ff00ff" stroke-width=".6" fill="none" opacity=".6"/>
<path d="M272 575.3h8v8h-8zM291.5 558h8v8h-8zM304.5 545.7h8v8h-8zM314.3 537.9h8v8h-8zM322.2 528.8h8v8h-8zM328.8 522h8v8h-8zM334.5 518.3h8v8h-8zM339.5 515.1h8v8h-8zM343.9 513h8v8h-8zM347.8 511.6h8v8h-8zM351.5 511h8v8h-8zM354.8 508.3h8v8h-8zM357.8 507.5h8v8h-8zM360.7 507.2h8v8h-8zM363.4 506.3h8v8h-8zM365.8 505.8h8v8h-8zM368.2 503.3h8v8h-8zM370.4 504.5h8v8h-8zM372.5 504.1h8v8h-8zM374.5 504.4h8v8h-8zM376.4 501.8h8v8h-8zM378.2 502.6h8v8h-8zM380 502.8h8v8h-8zM381.6 502.4h8v8h-8zM383.2 502.6h8v8h-8zM384.8 502.1h8v8h-8zM386.3 500.1h8v8h-8zM387.7 501h8v8h-8zM389.1 499.9h8v8h-8zM390.4 499.2h8v8h-8zM391.7 500.7h8v8h-8zM392.9 498.7h8v8h-8zM394.2 498.2h8v8h-8zM395.3 498.3h8v8h-8zM396.5 497.7h8v8h-8zM397.6 498.9h8v8h-8zM398.7 498.2h8v8h-8zM399.7 498.8h8v8h-8zM400.7 497.8h8v8h-8zM401.8 496.9h8v8h-8zM402.7 497.9h8v8h-8zM403.7 496.5h8v8h-8zM404.6 496.4h8v8h-8zM405.5 496.5h8v8h-8zM406.4 496.5h8v8h-8zM407.3 497.3h8v8h-8zM408.1 495.7h8v8h-8zM409 496.3h8v8h-8zM409.8 495.9h8v8h-8zM410.6 494.9h8v8h-8zM411.4 494.9h8v8h-8zM412.1 495.5h8v8h-8zM412.9 495.9h8v8h-8zM413.6 495.7h8v8h-8zM414.4 495.8h8v8h-8zM415.1 495.3h8v8h-8zM415.8 494.9h8v8h-8zM416.5 495.5h8v8h-8zM417.2 494.3h8v8h-8zM417.8 494h8v8h-8zM418.5 494.7h8v8h-8zM419.1 493.8h8v8h-8zM419.8 494.4h8v8h-8zM420.4 494.2h8v8h-8zM421 494.2h8v8h-8zM421.6 494.6h8v8h-8zM422.2 493.9h8v8h-8zM422.8 494.2h8v8h-8zM423.4 493.1h8v8h-8zM424 494.5h8v8h-8zM424.5 493.7h8v8h-8zM425.1 494.7h8v8h-8zM425.6 492.1h8v8h-8zM426.2 493.7h8v8h-8zM426.7 494.5h8v8h-8zM427.2 492.4h8v8h-8zM427.8 494h8v8h-8zM428.3 494.3h8v8h-8zM428.8 494.3h8v8h-8zM429.3 493h8v8h-8zM429.8 494.4h8v8h-8zM430.3 494.3h8v8h-8zM430.7 493.4h8v8h-8zM431.2 494.7h8v8h-8zM431.7 494.1h8v8h-8zM432.2 494.2h8v8h-8zM432.6 493.8h8v8h-8zM433.1 494.6h8v8h-8zM433.5 494.2h8v8h-8zM434 495h8v8h-8zM434.4 494.5h8v8h-8zM434.9 493.7h8v8h-8zM435.3 494h8v8h-8zM435.7 494.8h8v8h-8zM436.1 493.8h8v8h-8zM436.6 494.4h8v8h-8zM437 494.5h8v8h-8zM437.4 494h8v8h-8zM437.8 492.3h8v8h-8zM438.2 494.2h8v8h-8zM438.6 494.3h8v8h-8zM439 494.2h8v8h-8zM439.4 493.5h8v8h-8zM439.7 495h8v8h-8zM440.1 494h8v8h-8zM440.5 493.6h8v8h-8zM440.9 493.5h8v8h-8zM441.3 494.4h8v8h-8zM441.6 493.3h8v8h-8zM442 493.3h8v8h-8zM442.3 495.7h8v8h-8zM442.7 495.2h8v8h-8zM443.1 495h8v8h-8zM443.4 495.3h8v8h-8zM443.8 494.7h8v8h-8zM444.1 492.9h8v8h-8zM444.5 495.2h8v8h-8zM444.8 495.3h8v8h-8zM445.1 494.7h8v8h-8zM445.5 492.9h8v8h-8zM445.8 495.4h8v8h-8zM446.1 495.5h8v8h-8zM446.4 494.1h8v8h-8zM446.8 494.7h8v8h-8zM447.1 495.2h8v8h-8zM447.4 494.6h8v8h-8zM447.7 495.6h8v8h-8zM448 494.8h8v8h-8zM448.4 495.3h8v8h-8zM448.7 494.9h8v8h-8zM449 493.7h8v8h-8zM449.3 494.2h8v8h-8zM449.6 497.4h8v8h-8zM449.9 495.2h8v8h-8zM450.2 496.1h8v8h-8zM450.5 496h8v8h-8zM450.8 496.5h8v8h-8zM451 495.6h8v8h-8zM451.3 494.8h8v8h-8zM451.6 495.3h8v8h-8zM451.9 493.9h8v8h-8zM452.2 495.2h8v8h-8zM452.5 496.1h8v8h-8zM452.8 493.8h8v8h-8zM453 495.7h8v8h-8zM453.3 496.2h8v8h-8zM453.6 496.7h8v8h-8zM453.8 495h8v8h-8zM454.1 495.3h8v8h-8zM454.4 494.4h8v8h-8zM454.6 495.1h8v8h-8zM454.9 496.4h8v8h-8zM455.2 497.6h8v8h-8zM455.4 495.2h8v8h-8zM455.7 497.2h8v8h-8zM456 496.5h8v8h-8zM456.2 495.9h8v8h-8zM456.5 498h8v8h-8zM456.7 494.4h8v8h-8zM457 496.4h8v8h-8zM457.2 496.7h8v8h-8zM457.5 498.2h8v8h-8zM457.7 498h8v8h-8zM458 498.5h8v8h-8zM458.2 496.9h8v8h-8zM458.4 497.6h8v8h-8zM458.7 498h8v8h-8zM458.9 497.4h8v8h-8zM459.2 497.4h8v8h-8zM459.4 497h8v8h-8zM459.6 496.9h8v8h-8zM459.9 496.3h8v8h-8zM460.1 498.9h8v8h-8zM460.3 497.1h8v8h-8zM460.6 495.9h8v8h-8zM460.8 497.8h8v8h-8zM461 497.6h8v8h-8zM461.2 497.9h8v8h-8zM461.5 499.2h8v8h-8zM461.7 497.8h8v8h-8zM461.9 497.8h8v8h-8zM462.1 497.5h8v8h-8zM462.3 498.2h8v8h-8zM462.6 497.9h8v8h-8zM462.8 498.5h8v8h-8zM463 500.9h8v8h-8zM463.2 498.8h8v8h-8zM463.4 498h8v8h-8zM463.6 500.2h8v8h-8zM463.8 499.5h8v8h-8zM464.1 499.6h8v8h-8zM464.3 499.6h8v8h-8zM464.5 499.8h8v8h-8zM464.7 499.8h8v8h-8zM464.9 500.4h8v8h-8zM465.1 500.2h8v8h-8zM465.3 500.6h8v8h-8zM465.5 499.3h8v8h-8zM465.7 499.8h8v8h-8zM465.9 499.3h8v8h-8zM466.1 500.8h8v8h-8zM466.3 500.8h8v8h-8zM466.5 499.9h8v8h-8zM466.7 500.8h8v8h-8zM466.9 502.6h8v8h-8zM467.1 501.6h8v8h-8zM467.3 499.9h8v8h-8zM467.5 500.8h8v8h-8zM467.7 501.5h8v8h-8zM467.8 501.2h8v8h-8zM468 501.6h8v8h-8zM468.2 502.4h8v8h-8zM468.4 501.9h8v8h-8zM468.6 501h8v8h-8zM468.8 502.5h8v8h-8zM469 502.1h8v8h-8zM469.2 502.4h8v8h-8zM469.3 502.1h8v8h-8zM469.5 501.6h8v8h-8zM469.7 501.9h8v8h-8zM469.9 502.8h8v8h-8zM470.1 502.5h8v8h-8zM470.3 501.4h8v8h-8zM470.4 504.6h8v8h-8zM470.6 503.1h8v8h-8zM470.8 503.6h8v8h-8zM471 504.8h8v8h-8zM471.1 502.8h8v8h-8zM471.3 505.9h8v8h-8zM471.5 504.5h8v8h-8zM471.7 505.9h8v8h-8zM471.8 505.2h8v8h-8zM472 506.1h8v8h-8zM472.2 506.2h8v8h-8zM472.4 506.4h8v8h-8zM472.5 505.2h8v8h-8zM472.7 505.7h8v8h-8zM472.9 507.1h8v8h-8zM473 508.5h8v8h-8zM473.2 507.2h8v8h-8zM473.4 508.3h8v8h-8zM473.5 508.3h8v8h-8zM473.7 508.9h8v8h-8zM473.9 509.6h8v8h-8zM474 507.9h8v8h-8zM474.2 509.6h8v8h-8zM474.3 509.6h8v8h-8zM474.5 509.8h8v8h-8zM474.7 509.8h8v8h-8zM474.8 510.2h8v8h-8zM475 510.3h8v8h-8zM475.1 510.6h8v8h-8zM475.3 513.8h8v8h-8zM475.5 513.6h8v8h-8zM475.6 512.6h8v8h-8zM475.8 513.6h8v8h-8zM475.9 512.7h8v8h-8zM476.1 511.7h8v8h-8zM476.2 512.8h8v8h-8zM476.4 514.8h8v8h-8zM476.6 516.2h8v8h-8zM476.7 515.5h8v8h-8zM476.9 515.2h8v8h-8zM477 516.2h8v8h-8zM477.2 516.1h8v8h-8zM477.3 516.3h8v8h-8zM477.5 517.7h8v8h-8zM477.6 518.1h8v8h-8zM477.8 518.3h8v8h-8zM477.9 518.7h8v8h-8zM478.1 519.2h8v8h-8zM478.2 520.7h8v8h-8zM478.4 522.2h8v8h-8zM478.5 521.5h8v8h-8zM478.6 524.1h8v8h-8zM478.8 521.7h8v8h-8zM478.9 523.8h8v8h-8zM479.1 523.4h8v8h-8zM479.2 524.8h8v8h-8zM479.4 525.7h8v8h-8zM479.5 526.8h8v8h-8zM479.7 528h8v8h-8zM479.8 527.4h8v8h-8zM479.9 527.7h8v8h-8zM480.1 529.4h8v8h-8zM480.2 530.7h8v8h-8zM480.4 530.9h8v8h-8zM480.5 533.1h8v8h-8zM480.6 534.7h8v8h-8zM480.8 533.4h8v8h-8zM480.9 535.9h8v8h-8zM481.1 537.5h8v8h-8zM481.2 536.4h8v8h-8zM481.3 539.2h8v8h-8zM481.5 540.1h8v8h-8zM481.6 540.4h8v8h-8zM481.7 544h8v8h-8zM481.9 544.5h8v8h-8zM482 545.5h8v8h-8zM482.1 547.8h8v8h-8zM482.3 549.6h8v8h-8zM482.4 551.4h8v8h-8zM482.5 552.9h8v8h-8zM482.7 554.4h8v8h-8zM482.8 554.7h8v8h-8zM482.9 557.2h8v8h-8zM483.1 559.6h8v8h-8zM483.2 558.5h8v8h-8zM483.3 565.6h8v8h-8zM483.4 565h8v8h-8zM483.6 566.3h8v8h-8zM483.7 567.5h8v8h-8zM483.8 572h8v8h-8zM484 573.9h8v8h-8zM484.1 575.4h8v8h-8zM484.2 577.9h8v8h-8zM484.3 579.6h8v8h-8zM484.5 582.2h8v8h-8zM484.6 585.5h8v8h-8zM484.7 587.3h8v8h-8zM484.8 591.6h8v8h-8zM485 593h8v8h-8zM485.1 596.1h8v8h-8zM485.2 599.3h8v8h-8zM485.3 603.8h8v8h-8zM485.5 606.1h8v8h-8zM485.6 609.1h8v8h-8zM485.7 612.2h8v8h-8zM485.8 614.9h8v8h-8zM486 620.2h8v8h-8zM486.1 627.1h8v8h-8zM486.2 630.8h8v8h-8zM486.3 634.1h8v8h-8zM486.4 636.7h8v8h-8zM486.6 641.3h8v8h-8zM486.7 652.3h8v8h-8zM486.8 660.3h8v8h-8zM486.9 664.3h8v8h-8zM487 664.7h8v8h-8zM487.2 674.9h8v8h-8zM487.3 683h8v8h-8zM487.4 685.6h8v8h-8zM487.5 696.7h8v8h-8zM487.6 701.3h8v8h-8zM487.7 705.7h8v8h-8zM487.9 710.8h8v8h-8zM488 724.7h8v8h-8zM488.1 728.4h8v8h-8z" fill="#00ffff" stroke="none"/>
<path d="M298.3 555a3.75 3.75 0 1 0 7.5 0a3.75 3.75 0 1 0 -7.5 0M319.2 536.8a3.75 3.75 0 1 0 7.5 0a3.75 3.75 0 1 0 -7.5 0M332.8 526.8a3.75 3.75 0 1 0 7.5 0a3.75 3.75 0 1 0 -7.5 0M343 515.2a3.75 3.75 0 1 0 7.5 0a3.75 3.75 0 1 0 -7.5 0M351.1 509.5a3.75 3.75 0 1 0 7.5 0a3.75 3.75 0 1 0 -7.5 0M357.8 506.9a3.75 3.75 0 1 0 7.5 0a3.75 3.75 0 1 0 -7.5 0M363.6 502a3.75 3.75 0 1 0 7.5 0a3.75 3.75 0 1 0 -7.5 0M368.6 499.3a3.75 3.75 0 1 0 7.5 0a3.75 3.75 0 1 0 -7.5 0M373.1 499.3a3.75 3.75 0 1 0 7.5 0a3.75 3.75 0 1 0 -7.5 0M377.1 497a3.75 3.75 0 1 0 7.5 0a3.75 3.75 0 1 0 -7.5 0M380.8 496.2a3.75 3.75 0 1 0 7.5 0a3.75 3.75 0 1 0 -7.5 0M384.1 495a3.75 3.75 0 1 0 7.5 0a3.75 3.75 0 1 0 -7.5 0M387.2 493.4a3.75 3.75 0 1 0 7.5 0a3.75 3.75 0 1 0 -7.5 0M390.1 492.6a3.75 3.75 0 1 0 7.5 0a3.75 3.75 0 1 0 -7.5 0M392.8 492.7a3.75 3.75 0 1 0 7.5 0a3.75 3.75 0 1 0 -7.5 0M395.3 493.4a3.75 3.75 0 1 0 7.5 0a3.75 3.75 0 1 0 -7.5 0M397.7 491a3.75 3.75 0 1 0 7.5 0a3.75 3.75 0 1 0 -7.5 0M399.9 492.4a3.75 3.75 0 1 0 7.5 0a3.75 3.75 0 1 0 -7.5 0M402 491.1a3.75 3.75 0 1 0 7.5 0a3.75 3.75 0 1 0 -7.5 0M404 489.6a3.75 3.75 0 1 0 7.5 0a3.75 3.75 0 1 0 -7.5 0M406 490.3a3.75 3.75 0 1 0 7.5 0a3.75 3.75 0 1 0 -7.5 0M407.8 490.1a3.75 3.75 0 1 0 7.5 0a3.75 3.75 0 1 0 -7.5 0M409.5 488.5a3.75 3.75 0 1 0 7.5 0a3.75 3.75 0 1 0 -7.5 0M411.2 487.1a3.75 3.75 0 1 0 7.5 0a3.75 3.75 0 1 0 -7.5 0M412.8 488.6a3.75 3.75 0 1 0 7.5 0a3.75 3.75 0 1 0 -7.5 0M414.4 487.2a3.75 3.75 0 1 0 7.5 0a3.75 3.75 0 1 0 -7.5 0M415.9 488.1a3.75 3.75 0 1 0 7.5 0a3.75 3.75 0 1 0 -7.5 0M417.3 486a3.75 3.75 0 1 0 7.5 0a3.75 3.75 0 1 0 -7.5 0M418.7 487.2a3.75 3.75 0 1 0 7.5 0a3.75 3.75 0 1 0 -7.5 0M420 486.5a3.75 3.75 0 1 0 7.5 0a3.75 3.75 0 1 0 -7.5 0M421.3 485.8a3.75 3.75 0 1 0 7.5 0a3.75 3.75 0 1 0 -7.5 0M422.6 486.5a3.75 3.75 0 1 0 7.5 0a3.75 3.75 0 1 0 -7.5 0M423.8 486.7a3.75 3.75 0 1 0 7.5 0a3.75 3.75 0 1 0 -7.5 0M425 486a3.75 3.75 0 1 0 7.5 0a3.75 3.75 0 1 0 -7.5 0M426.1 485.4a3.75 3.75 0 1 0 7.5 0a3.75 3.75 0 1 0 -7.5 0M427.2 486.3a3.75 3.75 0 1 0 7.5 0a3.75 3.75 0 1 0 -7.5 0M428.3 484.7a3.75 3.75 0 1 0 7.5 0a3.75 3.75 0 1 0 -7.5 0M429.4 486.4a3.75 3.75 0 1 0 7.5 0a3.75 3.75 0 1 0 -7.5 0M430.4 486.2a3.75 3.75 0 1 0 7.5 0a3.75 3.75 0 1 0 -7.5 0M431.4 487.1a3.75 3.75 0 1 0 7.5 0a3.75 3.75 0 1 0 -7.5 0M432.4 486.4a3.75 3.75 0 1 0 7.5 0a3.75 3.75 0 1 0 -7.5 0M433.3 485.9a3.75 3.75 0 1 0 7.5 0a3.75 3.75 0 1 0 -7.5 0M434.3 485.7a3.75 3.75 0 1 0 7.5 0a3.75 3.75 0 1 0 -7.5 0M435.2 485.5a3.75 3.75 0 1 0 7.5 0a3.75 3.75 0 1 0 -7.5 0M436.1 484.3a3.75 3.75 0 1 0 7.5 0a3.75 3.75 0 1 0 -7.5 0M437 486.4a3.75 3.75 0 1 0 7.5 0a3.75 3.75 0 1 0 -7.5 0M437.8 485.7a3.75 3.75 0 1 0 7.5 0a3.75 3.75 0 1 0 -7.5 0M438.7 485a3.75 3.75 0 1 0 7.5 0a3.75 3.75 0 1 0 -7.5 0M439.5 484.2a3.75 3.75 0 1 0 7.5 0a3.75 3.75 0 1 0 -7.5 0M440.3 486.2a3.75 3.75 0 1 0 7.5 0a3.75 3.75 0 1 0 -7.5 0M441.1 485.4a3.75 3.75 0 1 0 7.5 0a3.75 3.75 0 1 0 -7.5 0M441.8 484a3.75 3.75 0 1 0 7.5 0a3.75 3.75 0 1 0 -7.5 0M442.6 485.4a3.75 3.75 0 1 0 7.5 0a3.75 3.75 0 1 0 -7.5 0M443.3 486.3a3.75 3.75 0 1 0 7.5 0a3.75 3.75 0 1 0 -7.5 0M444.1 484.8a3.75 3.75 0 1 0 7.5 0a3.75 3.75 0 1 0 -7.5 0M444.8 485.1a3.75 3.75 0 1 0 7.5 0a3.75 3.75 0 1 0 -7.5 0M445.5 484.4a3.75 3.75 0 1 0 7.5 0a3.75 3.75 0 1 0 -7.5 0M446.2 484.2a3.75 3.75 0 1 0 7.5 0a3.75 3.75 0 1 0 -7.5 0M446.9 485.5a3.75 3.75 0 1 0 7.5 0a3.75 3.75 0 1 0 -7.5 0M447.5 487a3.75 3.75 0 1 0 7.5 0a3.75 3.75 0 1 0 -7.5 0M448.2 484.7a3.75 3.75 0 1 0 7.5 0a3.75 3.75 0 1 0 -7.5 0M448.8 484.5a3.75 3.75 0 1 0 7.5 0a3.75 3.75 0 1 0 -7.5 0M449.5 485.2a3.75 3.75 0 1 0 7.5 0a3.75 3.75 0 1 0 -7.5 0M450.1 484.3a3.75 3.75 0 1 0 7.5 0a3.75 3.75 0 1 0 -7.5 0M450.7 485.1a3.75 3.75 0 1 0 7.5 0a3.75 3.75 0 1 0 -7.5 0M451.3 485.1a3.75 3.75 0 1 0 7.5 0a3.75 3.75 0 1 0 -7.5 0M451.9 483.7a3.75 3.75 0 1 0 7.5 0a3.75 3.75 0 1 0 -7.5 0M452.5 483.6a3.75 3.75 0 1 0 7.5 0a3.75 3.75 0 1 0 -7.5 0M453.1 484.4a3.75 3.75 0 1 0 7.5 0a3.75 3.75 0 1 0 -7.5 0M453.7 485.1a3.75 3.75 0 1 0 7.5 0a3.75 3.75 0 1 0 -7.5 0M454.2 484.6a3.75 3.75 0 1 0 7.5 0a3.75 3.75 0 1 0 -7.5 0M454.8 485.4a3.75 3.75 0 1 0 7.5 0a3.75 3.75 0 1 0 -7.5 0M455.4 483.3a3.75 3.75 0 1 0 7.5 0a3.75 3.75 0 1 0 -7.5 0M455.9 484.7a3.75 3.75 0 1 0 7.5 0a3.75 3.75 0 1 0 -7.5 0M456.4 483.9a3.75 3.75 0 1 0 7.5 0a3.75 3.75 0 1 0 -7.5 0M457 484.4a3.75 3.75 0 1 0 7.5 0a3.75 3.75 0 1 0 -7.5 0M457.5 484.6a3.75 3.75 0 1 0 7.5 0a3.75 3.75 0 1 0 -7.5 0M458 483.5a3.75 3.75 0 1 0 7.5 0a3.75 3.75 0 1 0 -7.5 0M458.5 484.1a3.75 3.75 0 1 0 7.5 0a3.75 3.75 0 1 0 -7.5 0M459 483.4a3.75 3.75 0 1 0 7.5 0a3.75 3.75 0 1 0 -7.5 0M459.5 484.5a3.75 3.75 0 1 0 7.5 0a3.75 3.75 0 1 0 -7.5 0M460 483.6a3.75 3.75 0 1 0 7.5 0a3.75 3.75 0 1 0 -7.5 0M460.5 483.8a3.75 3.75 0 1 0 7.5 0a3.75 3.75 0 1 0 -7.5 0M461 484.4a3.75 3.75 0 1 0 7.5 0a3.75 3.75 0 1 0 -7.5 0M461.4 483.7a3.75 3.75 0 1 0 7.5 0a3.75 3.75 0 1 0 -7.5 0M461.9 485.1a3.75 3.75 0 1 0 7.5 0a3.75 3.75 0 1 0 -7.5 0M462.4 483.7a3.75 3.75 0 1 0 7.5 0a3.75 3.75 0 1 0 -7.5 0M462.8 484.8a3.75 3.75 0 1 0 7.5 0a3.75 3.75 0 1 0 -7.5 0M463.3 484.4a3.75 3.75 0 1 0 7.5 0a3.75 3.75 0 1 0 -7.5 0M463.7 483.4a3.75 3.75 0 1 0 7.5 0a3.75 3.75 0 1 0 -7.5 0M464.2 484a3.75 3.75 0 1 0 7.5 0a3.75 3.75 0 1 0 -7.5 0M464.6 483.5a3.75 3.75 0 1 0 7.5 0a3.75 3.75 0 1 0 -7.5 0M465 483.9a3.75 3.75 0 1 0 7.5 0a3.75 3.75 0 1 0 -7.5 0M465.4 483.9a3.75 3.75 0 1 0 7.5 0a3.75 3.75 0 1 0 -7.5 0M465.9 485.5a3.75 3.75 0 1 0 7.5 0a3.75 3.75 0 1 0 -7.5 0M466.3 483.8a3.75 3.75 0 1 0 7.5 0a3.75 3.75 0 1 0 -7.5 0M466.7 485.3a3.75 3.75 0 1 0 7.5 0a3.75 3.75 0 1 0 -7.5 0M467.1 484.5a3.75 3.75 0 1 0 7.5 0a3.75 3.75 0 1 0 -7.5 0M467.5 483.1a3.75 3.75 0 1 0 7.5 0a3.75 3.75 0 1 0 -7.5 0M467.9 482.3a3.75 3.75 0 1 0 7.5 0a3.75 3.75 0 1 0 -7.5 0M468.3 484.6a3.75 3.75 0 1 0 7.5 0a3.75 3.75 0 1 0 -7.5 0M468.7 482.6a3.75 3.75 0 1 0 7.5 0a3.75 3.75 0 1 0 -7.5 0M469.1 484.7a3.75 3.75 0 1 0 7.5 0a3.75 3.75 0 1 0 -7.5 0M469.5 484.9a3.75 3.75 0 1 0 7.5 0a3.75 3.75 0 1 0 -7.5 0M469.9 484.4a3.75 3.75 0 1 0 7.5 0a3.75 3.75 0 1 0 -7.5 0M470.3 483.9a3.75 3.75 0 1 0 7.5 0a3.75 3.75 0 1 0 -7.5 0M470.6 483.9a3.75 3.75 0 1 0 7.5 0a3.75 3.75 0 1 0 -7.5 0M471 484.3a3.75 3.75 0 1 0 7.5 0a3.75 3.75 0 1 0 -7.5 0M471.4 483.9a3.75 3.75 0 1 0 7.5 0a3.75 3.75 0 1 0 -7.5 0M471.7 483.7a3.75 3.75 0 1 0 7.5 0a3.75 3.75 0 1 0 -7.5 0M472.1 483.9a3.75 3.75 0 1 0 7.5 0a3.75 3.75 0 1 0 -7.5 0M472.5 485.1a3.75 3.75 0 1 0 7.5 0a3.75 3.75 0 1 0 -7.5 0M472.8 483.7a3.75 3.75 0 1 0 7.5 0a3.75 3.75 0 1 0 -7.5 0M473.2 484.5a3.75 3.75 0 1 0 7.5 0a3.75 3.75 0 1 0 -7.5 0M473.5 483.4a3.75 3.75 0 1 0 7.5 0a3.75 3.75 0 1 0 -7.5 0M473.9 483.8a3.75 3.75 0 1 0 7.5 0a3.75 3.75 0 1 0 -7.5 0M474.2 483.3a3.75 3.75 0 1 0 7.5 0a3.75 3.75 0 1 0 -7.5 0M474.5 484.2a3.75 3.75 0 1 0 7.5 0a3.75 3.75 0 1 0 -7.5 0M474.9 484.9a3.75 3.75 0 1 0 7.5 0a3.75 3.75 0 1 0 -7.5 0M475.2 484.7a3.75 3.75 0 1 0 7.5 0a3.75 3.75 0 1 0 -7.5 0M475.5 484.1a3.75 3.75 0 1 0 7.5 0a3.75 3.75 0 1 0 -7.5 0M475.9 485a3.75 3.75 0 1 0 7.5 0a3.75 3.75 0 1 0 -7.5 0M476.2 484.3a3.75 3.75 0 1 0 7.5 0a3.75 3.75 0 1 0 -7.5 0M476.5 484.9a3.75 3.75 0 1 0 7.5 0a3.75 3.75 0 1 0 -7.5 0M476.8 484.8a3.75 3.75 0 1 0 7.5 0a3.75 3.75 0 1 0 -7.5 0M477.2 485.1a3.75 3.75 0 1 0 7.5 0a3.75 3.75 0 1 0 -7.5 0M477.5 482.8a3.75 3.75 0 1 0 7.5 0a3.75 3.75 0 1 0 -7.5 0M477.8 483.8a3.75 3.75 0 1 0 7.5 0a3.75 3.75 0 1 0 -7.5 0M478.1 485.4a3.75 3.75 0 1 0 7.5 0a3.75 3.75 0 1 0 -7.5 0M478.4 484.8a3.75 3.75 0 1 0 7.5 0a3.75 3.75 0 1 0 -7.5 0M478.7 486.6a3.75 3.75 0 1 0 7.5 0a3.75 3.75 0 1 0 -7.5 0M479 484.8a3.75 3.75 0 1 0 7.5 0a3.75 3.75 0 1 0 -7.5 0M479.3 484.6a3.75 3.75 0 1 0 7.5 0a3.75 3.75 0 1 0 -7.5 0M479.6 486.2a3.75 3.75 0 1 0 7.5 0a3.75 3.75 0 1 0 -7.5 0M479.9 485.5a3.75 3.75 0 1 0 7.5 0a3.75 3.75 0 1 0 -7.5 0M480.2 486.6a3.75 3.75 0 1 0 7.5 0a3.75 3.75 0 1 0 -7.5 0M480.5 485.6a3.75 3.75 0 1 0 7.5 0a3.75 3.75 0 1 0 -7.5 0M480.8 485.1a3.75 3.75 0 1 0 7.5 0a3.75 3.75 0 1 0 -7.5 0M481.1 485.8a3.75 3.75 0 1 0 7.5 0a3.75 3.75 0 1 0 -7.5 0M481.4 484.7a3.75 3.75 0 1 0 7.5 0a3.75 3.75 0 1 0 -7.5 0M481.7 485a3.75 3.75 0 1 0 7.5 0a3.75 3.75 0 1 0 -7.5 0M481.9 485a3.75 3.75 0 1 0 7.5 0a3.75 3.75 0 1 0 -7.5 0M482.2 485.3a3.75 3.75 0 1 0 7.5 0a3.75 3.75 0 1 0 -7.5 0M482.5 486.1a3.75 3.75 0 1 0 7.5 0a3.75 3.75 0 1 0 -7.5 0M482.8 485.2a3.75 3.75 0 1 0 7.5 0a3.75 3.75 0 1 0 -7.5 0M483.1 485.9a3.75 3.75 0 1 0 7.5 0a3.75 3.75 0 1 0 -7.5 0M483.3 485.4a3.75 3.75 0 1 0 7.5 0a3.75 3.75 0 1 0 -7.5 0M483.6 486.5a3.75 3.75 0 1 0 7.5 0a3.75 3.75 0 1 0 -7.5 0M483.9 483.7a3.75 3.75 0 1 0 7.5 0a3.75 3.75 0 1 0 -7.5 0M484.1 485.8a3.75 3.75 0 1 0 7.5 0a3.75 3.75 0 1 0 -7.5 0M484.4 486.2a3.75 3.75 0 1 0 7.5 0a3.75 3.75 0 1 0 -7.5 0M484.7 485.3a3.75 3.75 0 1 0 7.5 0a3.75 3.75 0 1 0 -7.5 0M484.9 487a3.75 3.75 0 1 0 7.5 0a3.75 3.75 0 1 0 -7.5 0M485.2 486.4a3.75 3.75 0 1 0 7.5 0a3.75 3.75 0 1 0 -7.5 0M485.5 487.4a3.75 3.75 0 1 0 7.5 0a3.75 3.75 0 1 0 -7.5 0M485.7 487.2a3.75 3.75 0 1 0 7.5 0a3.75 3.75 0 1 0 -7.5 0M486 487a3.75 3.75 0 1 0 7.5 0a3.75 3.75 0 1 0 -7.5 0M486.2 486.5a3.75 3.75 0 1 0 7.5 0a3.75 3.75 0 1 0 -7.5 0M486.5 485.9a3.75 3.75 0 1 0 7.5 0a3.75 3.75 0 1 0 -7.5 0M486.7 486.6a3.75 3.75 0 1 0 7.5 0a3.75 3.75 0 1 0 -7.5 0M487 486.5a3.75 3.75 0 1 0 7.5 0a3.75 3.75 0 1 0 -7.5 0M487.2 487.2a3.75 3.75 0 1 0 7.5 0a3.75 3.75 0 1 0 -7.5 0M487.5 486.7a3.75 3.75 0 1 0 7.5 0a3.75 3.75 0 1 0 -7.5 0M487.7 489.5a3.75 3.75 0 1 0 7.5 0a3.75 3.75 0 1 0 -7.5 0M488 486a3.75 3.75 0 1 0 7.5 0a3.75 3.75 0 1 0 -7.5 0M488.2 488.3a3.75 3.75 0 1 0 7.5 0a3.75 3.75 0 1 0 -7.5 0M488.4 487.1a3.75 3.75 0 1 0 7.5 0a3.75 3.75 0 1 0 -7.5 0M488.7 487.4a3.75 3.75 0 1 0 7.5 0a3.75 3.75 0 1 0 -7.5 0M488.9 488.4a3.75 3.75 0 1 0 7.5 0a3.75 3.75 0 1 0 -7.5 0M489.2 487.8a3.75 3.75 0 1 0 7.5 0a3.75 3.75 0 1 0 -7.5 0M489.4 486.9a3.75 3.75 0 1 0 7.5 0a3.75 3.75 0 1 0 -7.5 0M489.6 488.3a3.75 3.75 0 1 0 7.5 0a3.75 3.75 0 1 0 -7.5 0M489.9 487.9a3.75 3.75 0 1 0 7.5 0a3.75 3.75 0 1 0 -7.5 0M490.1 486.6a3.75 3.75 0 1 0 7.5 0a3.75 3.75 0 1 0 -7.5 0M490.3 488.4a3.75 3.75 0 1 0 7.5 0a3.75 3.75 0 1 0 -7.5 0M490.5 487.5a3.75 3.75 0 1 0 7.5 0a3.75 3.75 0 1 0 -7.5 0M490.8 487.9a3.75 3.75 0 1 0 7.5 0a3.75 3.75 0 1 0 -7.5 0M491 488.9a3.75 3.75 0 1 0 7.5 0a3.75 3.75 0 1 0 -7.5 0M491.2 488.9a3.75 3.75 0 1 0 7.5 0a3.75 3.75 0 1 0 -7.5 0M491.4 488.6a3.75 3.75 0 1 0 7.5 0a3.75 3.75 0 1 0 -7.5 0M491.7 490.6a3.75 3.75 0 1 0 7.5 0a3.75 3.75 0 1 0 -7.5 0M491.9 489.3a3.75 3.75 0 1 0 7.5 0a3.75 3.75 0 1 0 -7.5 0M492.1 488.7a3.75 3.75 0 1 0 7.5 0a3.75 3.75 0 1 0 -7.5 0M492.3 489.4a3.75 3.75 0 1 0 7.5 0a3.75 3.75 0 1 0 -7.5 0M492.5 489.3a3.75 3.75 0 1 0 7.5 0a3.75 3.75 0 1 0 -7.5 0M492.8 487.8a3.75 3.75 0 1 0 7.5 0a3.75 3.75 0 1 0 -7.5 0M493 488.4a3.75 3.75 0 1 0 7.5 0a3.75 3.75 0 1 0 -7.5 0M493.2 488.7a3.75 3.75 0 1 0 7.5 0a3.75 3.75 0 1 0 -7.5 0M493.4 491.5a3.75 3.75 0 1 0 7.5 0a3.75 3.75 0 1 0 -7.5 0M493.6 489.9a3.75 3.75 0 1 0 7.5 0a3.75 3.75 0 1 0 -7.5 0M493.8 489.9a3.75 3.75 0 1 0 7.5 0a3.75 3.75 0 1 0 -7.5 0M494 489.9a3.75 3.75 0 1 0 7.5 0a3.75 3.75 0 1 0 -7.5 0M494.2 491.2a3.75 3.75 0 1 0 7.5 0a3.75 3.75 0 1 0 -7.5 0M494.4 490.6a3.75 3.75 0 1 0 7.5 0a3.75 3.75 0 1 0 -7.5 0M494.6 492a3.75 3.75 0 1 0 7.5 0a3.75 3.75 0 1 0 -7.5 0M494.9 491.5a3.75 3.75 0 1 0 7.5 0a3.75 3.75 0 1 0 -7.5 0M495.1 492.3a3.75 3.75 0 1 0 7.5 0a3.75 3.75 0 1 0 -7.5 0M495.3 491.1a3.75 3.75 0 1 0 7.5 0a3.75 3.75 0 1 0 -7.5 0M495.5 491.6a3.75 3.75 0 1 0 7.5 0a3.75 3.75 0 1 0 -7.5 0M495.7 491.2a3.75 3.75 0 1 0 7.5 0a3.75 3.75 0 1 0 -7.5 0M495.9 491.5a3.75 3.75 0 1 0 7.5 0a3.75 3.75 0 1 0 -7.5 0M496.1 490.5a3.75 3.75 0 1 0 7.5 0a3.75 3.75 0 1 0 -7.5 0M496.3 491.6a3.75 3.75 0 1 0 7.5 0a3.75 3.75 0 1 0 -7.5 0M496.5 491.4a3.75 3.75 0 1 0 7.5 0a3.75 3.75 0 1 0 -7.5 0M496.6 491.8a3.75 3.75 0 1 0 7.5 0a3.75 3.75 0 1 0 -7.5 0M496.8 493.5a3.75 3.75 0 1 0 7.5 0a3.75 3.75 0 1 0 -7.5 0M497 492.9a3.75 3.75 0 1 0 7.5 0a3.75 3.75 0 1 0 -7.5 0M497.2 493.8a3.75 3.75 0 1 0 7.5 0a3.75 3.75 0 1 0 -7.5 0M497.4 493.7a3.75 3.75 0 1 0 7.5 0a3.75 3.75 0 1 0 -7.5 0M497.6 494a3.75 3.75 0 1 0 7.5 0a3.75 3.75 0 1 0 -7.5 0M497.8 494.2a3.75 3.75 0 1 0 7.5 0a3.75 3.75 0 1 0 -7.5 0M498 493.2a3.75 3.75 0 1 0 7.5 0a3.75 3.75 0 1 0 -7.5 0M498.2 494.5a3.75 3.75 0 1 0 7.5 0a3.75 3.75 0 1 0 -7.5 0M498.4 493.9a3.75 3.75 0 1 0 7.5 0a3.75 3.75 0 1 0 -7.5 0M498.6 494a3.75 3.75 0 1 0 7.5 0a3.75 3.75 0 1 0 -7.5 0M498.7 495.6a3.75 3.75 0 1 0 7.5 0a3.75 3.75 0 1 0 -7.5 0M498.9 496.6a3.75 3.75 0 1 0 7.5 0a3.75 3.75 0 1 0 -7.5 0M499.1 494.4a3.75 3.75 0 1 0 7.5 0a3.75 3.75 0 1 0 -7.5 0M499.3 496.8a3.75 3.75 0 1 0 7.5 0a3.75 3.75 0 1 0 -7.5 0M499.5 496.4a3.75 3.75 0 1 0 7.5 0a3.75 3.75 0 1 0 -7.5 0M499.7 495.4a3.75 3.75 0 1 0 7.5 0a3.75 3.75 0 1 0 -7.5 0M499.8 496.5a3.75 3.75 0 1 0 7.5 0a3.75 3.75 0 1 0 -7.5 0M500 496.9a3.75 3.75 0 1 0 7.5 0a3.75 3.75 0 1 0 -7.5 0M500.2 497.2a3.75 3.75 0 1 0 7.5 0a3.75 3.75 0 1 0 -7.5 0M500.4 497a3.75 3.75 0 1 0 7.5 0a3.75 3.75 0 1 0 -7.5 0M500.6 496.6a3.75 3.75 0 1 0 7.5 0a3.75 3.75 0 1 0 -7.5 0M500.7 497.9a3.75 3.75 0 1 0 7.5 0a3.75 3.75 0 1 0 -7.5 0M500.9 498.9a3.75 3.75 0 1 0 7.5 0a3.75 3.75 0 1 0 -7.5 0M501.1 499.2a3.75 3.75 0 1 0 7.5 0a3.75 3.75 0 1 0 -7.5 0M501.3 499.4a3.75 3.75 0 1 0 7.5 0a3.75 3.75 0 1 0 -7.5 0M501.4 500.1a3.75 3.75 0 1 0 7.5 0a3.75 3.75 0 1 0 -7.5 0M501.6 498.9a3.75 3.75 0 1 0 7.5 0a3.75 3.75 0 1 0 -7.5 0M501.8 500a3.75 3.75 0 1 0 7.5 0a3.75 3.75 0 1 0 -7.5 0M502 500.7a3.75 3.75 0 1 0 7.5 0a3.75 3.75 0 1 0 -7.5 0M502.1 501.6a3.75 3.75 0 1 0 7.5 0a3.75 3.75 0 1 0 -7.5 0M502.3 501.3a3.75 3.75 0 1 0 7.5 0a3.75 3.75 0 1 0 -7.5 0M502.5 502a3.75 3.75 0 1 0 7.5 0a3.75 3.75 0 1 0 -7.5 0M502.6 502.2a3.75 3.75 0 1 0 7.5 0a3.75 3.75 0 1 0 -7.5 0M502.8 504.1a3.75 3.75 0 1 0 7.5 0a3.75 3.75 0 1 0 -7.5 0M503 501.3a3.75 3.75 0 1 0 7.5 0a3.75 3.75 0 1 0 -7.5 0M503.1 503.5a3.75 3.75 0 1 0 7.5 0a3.75 3.75 0 1 0 -7.5 0M503.3 505.9a3.75 3.75 0 1 0 7.5 0a3.75 3.75 0 1 0 -7.5 0M503.5 504.7a3.75 3.75 0 1 0 7.5 0a3.75 3.75 0 1 0 -7.5 0M503.6 503.7a3.75 3.75 0 1 0 7.5 0a3.75 3.75 0 1 0 -7.5 0M503.8 505.8a3.75 3.75 0 1 0 7.5 0a3.75 3.75 0 1 0 -7.5 0M504 505.1a3.75 3.75 0 1 0 7.5 0a3.75 3.75 0 1 0 -7.5 0M504.1 506.3a3.75 3.75 0 1 0 7.5 0a3.75 3.75 0 1 0 -7.5 0M504.3 507.6a3.75 3.75 0 1 0 7.5 0a3.75 3.75 0 1 0 -7.5 0M504.4 509.4a3.75 3.75 0 1 0 7.5 0a3.75 3.75 0 1 0 -7.5 0M504.6 509.1a3.75 3.75 0 1 0 7.5 0a3.75 3.75 0 1 0 -7.5 0M504.8 509.9a3.75 3.75 0 1 0 7.5 0a3.75 3.75 0 1 0 -7.5 0M504.9 510.8a3.75 3.75 0 1 0 7.5 0a3.75 3.75 0 1 0 -7.5 0M505.1 510.9a3.75 3.75 0 1 0 7.5 0a3.75 3.75 0 1 0 -7.5 0M505.2 510.8a3.75 3.75 0 1 0 7.5 0a3.75 3.75 0 1 0 -7.5 0M505.4 512.1a3.75 3.75 0 1 0 7.5 0a3.75 3.75 0 1 0 -7.5 0M505.6 513.3a3.75 3.75 0 1 0 7.5 0a3.75 3.75 0 1 0 -7.5 0M505.7 513.6a3.75 3.75 0 1 0 7.5 0a3.75 3.75 0 1 0 -7.5 0M505.9 514.2a3.75 3.75 0 1 0 7.5 0a3.75 3.75 0 1 0 -7.5 0M506 515.3a3.75 3.75 0 1 0 7.5 0a3.75 3.75 0 1 0 -7.5 0M506.2 515.4a3.75 3.75 0 1 0 7.5 0a3.75 3.75 0 1 0 -7.5 0M506.3 516.7a3.75 3.75 0 1 0 7.5 0a3.75 3.75 0 1 0 -7.5 0M506.5 518.5a3.75 3.75 0 1 0 7.5 0a3.75 3.75 0 1 0 -7.5 0M506.6 519.3a3.75 3.75 0 1 0 7.5 0a3.75 3.75 0 1 0 -7.5 0M506.8 520.7a3.75 3.75 0 1 0 7.5 0a3.75 3.75 0 1 0 -7.5 0M506.9 522.9a3.75 3.75 0 1 0 7.5 0a3.75 3.75 0 1 0 -7.5 0M507.1 523.2a3.75 3.75 0 1 0 7.5 0a3.75 3.75 0 1 0 -7.5 0M507.2 524.2a3.75 3.75 0 1 0 7.5 0a3.75 3.75 0 1 0 -7.5 0M507.4 524.7a3.75 3.75 0 1 0 7.5 0a3.75 3.75 0 1 0 -7.5 0M507.5 526.2a3.75 3.75 0 1 0 7.5 0a3.75 3.75 0 1 0 -7.5 0M507.7 528.9a3.75 3.75 0 1 0 7.5 0a3.75 3.75 0 1 0 -7.5 0M507.8 529.5a3.75 3.75 0 1 0 7.5 0a3.75 3.75 0 1 0 -7.5 0M508 532.3a3.75 3.75 0 1 0 7.5 0a3.75 3.75 0 1 0 -7.5 0M508.1 532.7a3.75 3.75 0 1 0 7.5 0a3.75 3.75 0 1 0 -7.5 0M508.3 535.6a3.75 3.75 0 1 0 7.5 0a3.75 3.75 0 1 0 -7.5 0M508.4 537.2a3.75 3.75 0 1 0 7.5 0a3.75 3.75 0 1 0 -7.5 0M508.6 540.3a3.75 3.75 0 1 0 7.5 0a3.75 3.75 0 1 0 -7.5 0M508.7 540.8a3.75 3.75 0 1 0 7.5 0a3.75 3.75 0 1 0 -7.5 0M508.9 543a3.75 3.75 0 1 0 7.5 0a3.75 3.75 0 1 0 -7.5 0M509 545.8a3.75 3.75 0 1 0 7.5 0a3.75 3.75 0 1 0 -7.5 0M509.1 547.9a3.75 3.75 0 1 0 7.5 0a3.75 3.75 0 1 0 -7.5 0M509.3 552.3a3.75 3.75 0 1 0 7.5 0a3.75 3.75 0 1 0 -7.5 0M509.4 552.3a3.75 3.75 0 1 0 7.5 0a3.75 3.75 0 1 0 -7.5 0M509.6 554.5a3.75 3.75 0 1 0 7.5 0a3.75 3.75 0 1 0 -7.5 0M509.7 557.4a3.75 3.75 0 1 0 7.5 0a3.75 3.75 0 1 0 -7.5 0M509.9 561.5a3.75 3.75 0 1 0 7.5 0a3.75 3.75 0 1 0 -7.5 0M510 564.1a3.75 3.75 0 1 0 7.5 0a3.75 3.75 0 1 0 -7.5 0M510.1 568a3.75 3.75 0 1 0 7.5 0a3.75 3.75 0 1 0 -7.5 0M510.3 567.7a3.75 3.75 0 1 0 7.5 0a3.75 3.75 0 1 0 -7.5 0M510.4 578.3a3.75 3.75 0 1 0 7.5 0a3.75 3.75 0 1 0 -7.5 0M510.6 581.3a3.75 3.75 0 1 0 7.5 0a3.75 3.75 0 1 0 -7.5 0M510.7 581.3a3.75 3.75 0 1 0 7.5 0a3.75 3.75 0 1 0 -7.5 0M510.8 582.7a3.75 3.75 0 1 0 7.5 0a3.75 3.75 0 1 0 -7.5 0M511 588.5a3.75 3.75 0 1 0 7.5 0a3.75 3.75 0 1 0 -7.5 0M511.1 591.3a3.75 3.75 0 1 0 7.5 0a3.75 3.75 0 1 0 -7.5 0M511.2 590.4a3.75 3.75 0 1 0 7.5 0a3.75 3.75 0 1 0 -7.5 0M511.4 595.1a3.75 3.75 0 1 0 7.5 0a3.75 3.75 0 1 0 -7.5 0M511.5 595.7a3.75 3.75 0 1 0 7.5 0a3.75 3.75 0 1 0 -7.5 0M511.6 603.2a3.75 3.75 0 1 0 7.5 0a3.75 3.75 0 1 0 -7.5 0M511.8 612.8a3.75 3.75 0 1 0 7.5 0a3.75 3.75 0 1 0 -7.5 0M511.9 618.3a3.75 3.75 0 1 0 7.5 0a3.75 3.75 0 1 0 -7.5 0M512 616.1a3.75 3.75 0 1 0 7.5 0a3.75 3.75 0 1 0 -7.5 0M512.2 632.6a3.75 3.75 0 1 0 7.5 0a3.75 3.75 0 1 0 -7.5 0M512.3 637.7a3.75 3.75 0 1 0 7.5 0a3.75 3.75 0 1 0 -7.5 0M512.4 640a3.75 3.75 0 1 0 7.5 0a3.75 3.75 0 1 0 -7.5 0M512.6 650.1a3.75 3.75 0 1 0 7.5 0a3.75 3.75 0 1 0 -7.5 0M512.7 661a3.75 3.75 0 1 0 7.5 0a3.75 3.75 0 1 0 -7.5 0M512.8 661.3a3.75 3.75 0 1 0 7.5 0a3.75 3.75 0 1 0 -7.5 0M513 669.9a3.75 3.75 0 1 0 7.5 0a3.75 3.75 0 1 0 -7.5 0M513.1 675.2a3.75 3.75 0 1 0 7.5 0a3.75 3.75 0 1 0 -7.5 0M513.2 689.9a3.75 3.75 0 1 0 7.5 0a3.75 3.75 0 1 0 -7.5 0M513.4 684a3.75 3.75 0 1 0 7.5 0a3.75 3.75 0 1 0 -7.5 0M513.5 707a3.75 3.75 0 1 0 7.5 0a3.75 3.75 0 1 0 -7.5 0M513.6 704.9a3.75 3.75 0 1 0 7.5 0a3.75 3.75 0 1 0 -7.5 0M513.7 720.9a3.75 3.75 0 1 0 7.5 0a3.75 3.75 0 1 0 -7.5 0M513.9 718.1a3.75 3.75 0 1 0 7.5 0a3.75 3.75 0 1 0 -7.5 0M514 729a3.75 3.75 0 1 0 7.5 0a3.75 3.75 0 1 0 -7.5 0M514.1 739.3a3.75 3.75 0 1 0 7.5 0a3.75 3.75 0 1 0 -7.5 0" fill="none" stroke="#ff4500" stroke-width="0.7"/><path d="M301.8 555h.6M322.6 536.8h.6M336.2 526.8h.6M346.4 515.2h.6M354.5 509.5h.6M361.3 506.9h.6M367 502h.6M372.1 499.3h.6M376.5 499.3h.6M380.6 497h.6M384.2 496.2h.6M387.6 495h.6M390.7 493.4h.6M393.6 492.6h.6M396.2 492.7h.6M398.8 493.4h.6M401.1 491h.6M403.4 492.4h.6M405.5 491.1h.6M407.5 489.6h.6M409.4 490.3h.6M411.2 490.1h.6M413 488.5h.6M414.7 487.1h.6M416.3 488.6h.6M417.8 487.2h.6M419.3 488.1h.6M420.7 486h.6M422.1 487.2h.6M423.5 486.5h.6M424.8 485.8h.6M426 486.5h.6M427.2 486.7h.6M428.4 486h.6M429.6 485.4h.6M430.7 486.3h.6M431.8 484.7h.6M432.8 486.4h.6M433.9 486.2h.6M434.9 487.1h.6M435.8 486.4h.6M436.8 485.9h.6M437.7 485.7h.6M438.6 485.5h.6M439.5 484.3h.6M440.4 486.4h.6M441.3 485.7h.6M442.1 485h.6M442.9 484.2h.6M443.7 486.2h.6M444.5 485.4h.6M445.3 484h.6M446 485.4h.6M446.8 486.3h.6M447.5 484.8h.6M448.2 485.1h.6M448.9 484.4h.6M449.6 484.2h.6M450.3 485.5h.6M451 487h.6M451.6 484.7h.6M452.3 484.5h.6M452.9 485.2h.6M453.6 484.3h.6M454.2 485.1h.6M454.8 485.1h.6M455.4 483.7h.6M456 483.6h.6M456.6 484.4h.6M457.1 485.1h.6M457.7 484.6h.6M458.3 485.4h.6M458.8 483.3h.6M459.3 484.7h.6M459.9 483.9h.6M460.4 484.4h.6M460.9 484.6h.6M461.4 483.5h.6M462 484.1h.6M462.5 483.4h.6M463 484.5h.6M463.4 483.6h.6M463.9 483.8h.6M464.4 484.4h.6M464.9 483.7h.6M465.3 485.1h.6M465.8 483.7h.6M466.3 484.8h.6M466.7 484.4h.6M467.2 483.4h.6M467.6 484h.6M468 483.5h.6M468.5 483.9h.6M468.9 483.9h.6M469.3 485.5h.6M469.7 483.8h.6M470.2 485.3h.6M470.6 484.5h.6M471 483.1h.6M471.4 482.3h.6M471.8 484.6h.6M472.2 482.6h.6M472.6 484.7h.6M472.9 484.9h.6M473.3 484.4h.6M473.7 483.9h.6M474.1 483.9h.6M474.4 484.3h.6M474.8 483.9h.6M475.2 483.7h.6M475.5 483.9h.6M475.9 485.1h.6M476.3 483.7h.6M476.6 484.5h.6M477 483.4h.6M477.3 483.8h.6M477.6 483.3h.6M478 484.2h.6M478.3 484.9h.6M478.7 484.7h.6M479 484.1h.6M479.3 485h.6M479.6 484.3h.6M480 484.9h.6M480.3 484.8h.6M480.6 485.1h.6M480.9 482.8h.6M481.2 483.8h.6M481.6 485.4h.6M481.9 484.8h.6M482.2 486.6h.6M482.5 484.8h.6M482.8 484.6h.6M483.1 486.2h.6M483.4 485.5h.6M483.7 486.6h.6M484 485.6h.6M484.3 485.1h.6M484.5 485.8h.6M484.8 484.7h.6M485.1 485h.6M485.4 485h.6M485.7 485.3h.6M486 486.1h.6M486.2 485.2h.6M486.5 485.9h.6M486.8 485.4h.6M487.1 486.5h.6M487.3 483.7h.6M487.6 485.8h.6M487.9 486.2h.6M488.1 485.3h.6M488.4 487h.6M488.6 486.4h.6M488.9 487.4h.6M489.2 487.2h.6M489.4 487h.6M489.7 486.5h.6M489.9 485.9h.6M490.2 486.6h.6M490.4 486.5h.6M490.7 487.2h.6M490.9 486.7h.6M491.2 489.5h.6M491.4 486h.6M491.6 488.3h.6M491.9 487.1h.6M492.1 487.4h.6M492.4 488.4h.6M492.6 487.8h.6M492.8 486.9h.6M493.1 488.3h.6M493.3 487.9h.6M493.5 486.6h.6M493.8 488.4h.6M494 487.5h.6M494.2 487.9h.6M494.4 488.9h.6M494.7 488.9h.6M494.9 488.6h.6M495.1 490.6h.6M495.3 489.3h.6M495.6 488.7h.6M495.8 489.4h.6M496 489.3h.6M496.2 487.8h.6M496.4 488.4h.6M496.6 488.7h.6M496.8 491.5h.6M497.1 489.9h.6M497.3 489.9h.6M497.5 489.9h.6M497.7 491.2h.6M497.9 490.6h.6M498.1 492h.6M498.3 491.5h.6M498.5 492.3h.6M498.7 491.1h.6M498.9 491.6h.6M499.1 491.2h.6M499.3 491.5h.6M499.5 490.5h.6M499.7 491.6h.6M499.9 491.4h.6M500.1 491.8h.6M500.3 493.5h.6M500.5 492.9h.6M500.7 493.8h.6M500.9 493.7h.6M501.1 494h.6M501.3 494.2h.6M501.4 493.2h.6M501.6 494.5h.6M501.8 493.9h.6M502 494h.6M502.2 495.6h.6M502.4 496.6h.6M502.6 494.4h.6M502.7 496.8h.6M502.9 496.4h.6M503.1 495.4h.6M503.3 496.5h.6M503.5 496.9h.6M503.7 497.2h.6M503.8 497h.6M504 496.6h.6M504.2 497.9h.6M504.4 498.9h.6M504.5 499.2h.6M504.7 499.4h.6M504.9 500.1h.6M505.1 498.9h.6M505.2 500h.6M505.4 500.7h.6M505.6 501.6h.6M505.7 501.3h.6M505.9 502h.6M506.1 502.2h.6M506.2 504.1h.6M506.4 501.3h.6M506.6 503.5h.6M506.7 505.9h.6M506.9 504.7h.6M507.1 503.7h.6M507.2 505.8h.6M507.4 505.1h.6M507.6 506.3h.6M507.7 507.6h.6M507.9 509.4h.6M508.1 509.1h.6M508.2 509.9h.6M508.4 510.8h.6M508.5 510.9h.6M508.7 510.8h.6M508.8 512.1h.6M509 513.3h.6M509.2 513.6h.6M509.3 514.2h.6M509.5 515.3h.6M509.6 515.4h.6M509.8 516.7h.6M509.9 518.5h.6M510.1 519.3h.6M510.2 520.7h.6M510.4 522.9h.6M510.5 523.2h.6M510.7 524.2h.6M510.8 524.7h.6M511 526.2h.6M511.1 528.9h.6M511.3 529.5h.6M511.4 532.3h.6M511.6 532.7h.6M511.7 535.6h.6M511.9 537.2h.6M512 540.3h.6M512.2 540.8h.6M512.3 543h.6M512.5 545.8h.6M512.6 547.9h.6M512.7 552.3h.6M512.9 552.3h.6M513 554.5h.6M513.2 557.4h.6M513.3 561.5h.6M513.4 564.1h.6M513.6 568h.6M513.7 567.7h.6M513.9 578.3h.6M514 581.3h.6M514.1 581.3h.6M514.3 582.7h.6M514.4 588.5h.6M514.6 591.3h.6M514.7 590.4h.6M514.8 595.1h.6M515 595.7h.6M515.1 603.2h.6M515.2 612.8h.6M515.4 618.3h.6M515.5 616.1h.6M515.6 632.6h.6M515.8 637.7h.6M515.9 640h.6M516 650.1h.6M516.2 661h.6M516.3 661.3h.6M516.4 669.9h.6M516.5 675.2h.6M516.7 689.9h.6M516.8 684h.6M516.9 707h.6M517.1 704.9h.6M517.2 720.9h.6M517.3 718.1h.6M517.4 729h.6M517.6 739.3h.6" stroke="#ff4500" stroke-width=".6" fill="none" opacity=".6"/>
<path d="M166 717.1L166.8 715.6L167.6 714.1L168.4 712.7L169.2 711.2L170 709.8L170.8 708.4L171.6 707L172.4 705.5L173.2 704.1L174 702.7L174.8 701.4L175.6 700L176.4 698.6L177.2 697.3L178 695.9L178.8 694.6L179.6 693.2L180.4 691.9L181.2 690.6L182 689.3L182.8 688L183.6 686.7L184.4 685.4L185.2 684.1L186 682.9L186.8 681.6L187.6 680.4L188.3 679.1L189.1 677.9L189.9 676.7L190.7 675.5L191.5 674.3L192.3 673.1L193.1 671.9L193.9 670.7L194.7 669.5L195.5 668.4L196.3 667.2L197.1 666L197.9 664.9L198.7 663.8L199.5 662.6L200.3 661.5L201.1 660.4L201.9 659.3L202.7 658.2L203.5 657.1L204.3 656L205.1 655L205.9 653.9L206.7 652.9L207.5 651.8L208.3 650.8L209.1 649.7L209.9 648.7L210.7 647.7L211.4 646.6L212.2 645.6L213 644.6L213.8 643.6L214.6 642.6L215.4 641.7L216.2 640.7L217 639.7L217.8 638.7L218.6 637.8L219.4 636.8L220.2 635.9L221 634.9L221.8 634L222.6 633L223.4 632.1L224.2 631.2L225 630.3L225.8 629.4L226.6 628.5L227.4 627.6L228.2 626.7L229 625.8L229.8 624.9L230.6 624L231.4 623.1L232.2 622.2L233 621.4L233.8 620.5L234.6 619.6L235.3 618.8L236.1 617.9L236.9 617.1L237.7 616.2L238.5 615.4L239.3 614.6L240.1 613.7L240.9 612.9L241.7 612.1L242.5 611.3L243.3 610.4L244.1 609.6L244.9 608.8L245.7 608L246.5 607.2L247.3 606.4L248.1 605.6L248.9 604.8L249.7 604L250.5 603.2L251.3 602.4L252.1 601.6L252.9 600.8L253.7 600.1L254.5 599.3L255.3 598.5L256.1 597.7L256.9 597L257.7 596.2L258.4 595.4L259.2 594.7L260 593.9L260.8 593.1L261.6 592.4L262.4 591.6L263.2 590.9L264 590.1L264.8 589.4L265.6 588.6L266.4 587.9L267.2 587.1L268 586.4L268.8 585.6L269.6 584.9L270.4 584.2L271.2 583.4L272 582.7L272.8 581.9L273.6 581.2L274.4 580.5L275.2 579.8L276 579L276.8 578.3L277.6 577.6L278.4 576.8L279.2 576.1L280 575.4L280.8 574.7L281.5 574L282.3 573.2L283.1 572.5L283.9 571.8L284.7 571.1L285.5 570.4L286.3 569.7L287.1 569L287.9 568.2L288.7 567.5L289.5 566.8L290.3 566.1L291.1 565.4L291.9 564.7L292.7 564L293.5 563.3L294.3 562.6L295.1 561.9L295.9 561.2L296.7 560.5L297.5 559.8L298.3 559.1L299.1 558.4L299.9 557.7L300.7 557L301.5 556.3L302.3 555.6L303.1 554.9L303.9 554.2L304.6 553.5L305.4 552.8L306.2 552.1L307 551.4L307.8 550.7L308.6 550L309.4 549.3L310.2 548.6L311 547.9L311.8 547.2L312.6 546.5L313.4 545.8L314.2 545.2L315 544.5L315.8 543.8L316.6 543.1L317.4 542.4L318.2 541.7L319 541L319.8 540.3L320.6 539.6L321.4 539L322.2 538.3L323 537.6L323.8 536.9L324.6 536.2L325.4 535.5L326.2 534.8L327 534.2L327.7 533.5L328.5 532.8L329.3 532.1L330.1 531.4L330.9 530.7L331.7 530L332.5 529.4L333.3 528.7L334.1 528L334.9 527.3L335.7 526.6L336.5 525.9L337.3 525.3L338.1 524.6L338.9 523.9L339.7 523.2L340.5 522.5L341.3 521.9L342.1 521.2L342.9 520.5L343.7 519.8L344.5 519.1L345.3 518.5L346.1 517.8L346.9 517.1L347.7 516.4L348.5 515.7L349.3 515.1L350.1 514.4L350.8 513.7L351.6 513L352.4 512.3L353.2 511.7L354 511L354.8 510.3L355.6 509.6L356.4 508.9L357.2 508.3L358 507.6L358.8 506.9L359.6 506.2L360.4 505.5L361.2 504.9L362 504.2L362.8 503.5L363.6 502.8L364.4 502.2L365.2 501.5L366 500.8L366.8 500.1L367.6 499.4L368.4 498.8L369.2 498.1L370 497.4L370.8 496.7L371.6 496.1L372.4 495.4L373.2 494.7L374 494L374.7 493.3L375.5 492.7L376.3 492L377.1 491.3L377.9 490.6L378.7 490L379.5 489.3L380.3 488.6L381.1 487.9L381.9 487.3L382.7 486.6L383.5 485.9L384.3 485.2L385.1 484.5L385.9 483.9L386.7 483.2L387.5 482.5L388.3 481.8L389.1 481.2L389.9 480.5L390.7 479.8L391.5 479.1L392.3 478.5L393.1 477.8L393.9 477.1L394.7 476.4L395.5 475.8L396.3 475.1L397.1 474.4L397.8 473.7L398.6 473L399.4 472.4L400.2 471.7L401 471L401.8 470.3L402.6 469.7L403.4 469L404.2 468.3L405 467.6L405.8 467L406.6 466.3L407.4 465.6L408.2 464.9L409 464.3L409.8 463.6L410.6 462.9L411.4 462.2L412.2 461.6L413 460.9L413.8 460.2L414.6 459.5L415.4 458.9L416.2 458.2L417 457.5L417.8 456.8L418.6 456.2L419.4 455.5L420.2 454.8L420.9 454.1L421.7 453.5L422.5 452.8L423.3 452.1L424.1 451.4L424.9 450.7L425.7 450.1L426.5 449.4L427.3 448.7L428.1 448L428.9 447.4L429.7 446.7L430.5 446L431.3 445.3L432.1 444.7L432.9 444L433.7 443.3L434.5 442.6L435.3 442L436.1 441.3L436.9 440.6L437.7 439.9L438.5 439.3L439.3 438.6L440.1 437.9L440.9 437.2L441.7 436.6L442.5 435.9L443.3 435.2L444 434.5L444.8 433.9L445.6 433.2L446.4 432.5L447.2 431.8L448 431.2L448.8 430.5L449.6 429.8L450.4 429.1L451.2 428.5" stroke="#000" stroke-width="1.7" fill="none" stroke-dasharray="1.8 1.2 1.8 4.9"/>
<text x="225" y="448.2" text-anchor="end" font-size="17.5">U=2.00</text>
<path d="M256.1 442.4h8M260.1 438.4v8" fill="none" stroke="#ff0000" stroke-width="0.7"/>
<text x="225" y="465.9" text-anchor="end" font-size="17.5">U=<tspan class="o">1</tspan>.50</text>
<path d="M256.3 456.3l7.6 7.6M256.3 463.9l7.6 -7.6" fill="none" stroke="#00ff00" stroke-width="0.7"/>
<text x="225" y="483.6" text-anchor="end" font-size="17.5">U=<tspan class="o">1</tspan>.25</text>
<path d="M256.1 477.8h8M260.1 473.8v8M256.1 473.8l8 8M256.1 481.8l8 -8" fill="none" stroke="#0000ff" stroke-width="0.7"/>
<text x="225" y="501.3" text-anchor="end" font-size="17.5">U=<tspan class="o">1</tspan>.00</text>
<path d="M256.4 491.7h7.5v7.5h-7.5z" fill="none" stroke="#ff00ff" stroke-width="0.7"/><path d="M259.8 495.5h.6" stroke="#ff00ff" stroke-width=".6" fill="none" opacity=".6"/>
<text x="225" y="519" text-anchor="end" font-size="17.5">U=0.90</text>
<path d="M256.1 509.2h8v8h-8z" fill="#00ffff" stroke="none"/>
<text x="225" y="536.7" text-anchor="end" font-size="17.5">U=0.80</text>
<path d="M256.4 530.9a3.75 3.75 0 1 0 7.5 0a3.75 3.75 0 1 0 -7.5 0" fill="none" stroke="#ff4500" stroke-width="0.7"/><path d="M259.8 530.9h.6" stroke="#ff4500" stroke-width=".6" fill="none" opacity=".6"/>
<text x="225" y="556.5" text-anchor="end" font-size="17.5">(x<tspan font-size="14.0" dy="-8.8">-2</tspan><tspan dy="8.8">+x</tspan><tspan font-size="14.0" dy="-8.8">-0.68</tspan><tspan dy="8.8">)</tspan><tspan font-size="14.0" dy="-8.8">-<tspan class="o">1</tspan></tspan></text>
<path d="M236.4 548.6h44.5" stroke="#000" stroke-width="1.9" fill="none" stroke-dasharray="2.1 .9 2.1 4.6"/>
</g>
<g id="ones" fill="#000" stroke="#000">
<path transform="translate(47.10 27.70) scale(17.5)" stroke-width="0.0086" d="M.3726 0H.2847V-.56Q.2529 -.5298 .2014 -.4995T.1089 -.4541V-.5391Q.1821 -.5737 .2371 -.6226T.3149 -.7188H.3726Z"/>
<path transform="translate(56.83 183.10) scale(17.5)" stroke-width="0.0086" d="M.3726 0H.2847V-.56Q.2529 -.5298 .2014 -.4995T.1089 -.4541V-.5391Q.1821 -.5737 .2371 -.6226T.3149 -.7188H.3726Z"/>
<path transform="translate(66.57 338.50) scale(17.5)" stroke-width="0.0086" d="M.3726 0H.2847V-.56Q.2529 -.5298 .2014 -.4995T.1089 -.4541V-.5391Q.1821 -.5737 .2371 -.6226T.3149 -.7188H.3726Z"/>
<path transform="translate(71.54 357.80) scale(17.5)" stroke-width="0.0086" d="M.3726 0H.2847V-.56Q.2529 -.5298 .2014 -.4995T.1089 -.4541V-.5391Q.1821 -.5737 .2371 -.6226T.3149 -.7188H.3726Z"/>
<path transform="translate(137.53 357.80) scale(17.5)" stroke-width="0.0086" d="M.3726 0H.2847V-.56Q.2529 -.5298 .2014 -.4995T.1089 -.4541V-.5391Q.1821 -.5737 .2371 -.6226T.3149 -.7188H.3726Z"/>
<path transform="translate(161.67 349.00) scale(14)" stroke-width="0.0107" d="M.3726 0H.2847V-.56Q.2529 -.5298 .2014 -.4995T.1089 -.4541V-.5391Q.1821 -.5737 .2371 -.6226T.3149 -.7188H.3726Z"/>
<path transform="translate(205.97 357.80) scale(17.5)" stroke-width="0.0086" d="M.3726 0H.2847V-.56Q.2529 -.5298 .2014 -.4995T.1089 -.4541V-.5391Q.1821 -.5737 .2371 -.6226T.3149 -.7188H.3726Z"/>
<path transform="translate(271.97 357.80) scale(17.5)" stroke-width="0.0086" d="M.3726 0H.2847V-.56Q.2529 -.5298 .2014 -.4995T.1089 -.4541V-.5391Q.1821 -.5737 .2371 -.6226T.3149 -.7188H.3726Z"/>
<path transform="translate(291.44 349.00) scale(14)" stroke-width="0.0107" d="M.3726 0H.2847V-.56Q.2529 -.5298 .2014 -.4995T.1089 -.4541V-.5391Q.1821 -.5737 .2371 -.6226T.3149 -.7188H.3726Z"/>
<path transform="translate(338.07 357.80) scale(17.5)" stroke-width="0.0086" d="M.3726 0H.2847V-.56Q.2529 -.5298 .2014 -.4995T.1089 -.4541V-.5391Q.1821 -.5737 .2371 -.6226T.3149 -.7188H.3726Z"/>
<path transform="translate(404.07 357.80) scale(17.5)" stroke-width="0.0086" d="M.3726 0H.2847V-.56Q.2529 -.5298 .2014 -.4995T.1089 -.4541V-.5391Q.1821 -.5737 .2371 -.6226T.3149 -.7188H.3726Z"/>
<path transform="translate(470.17 357.80) scale(17.5)" stroke-width="0.0086" d="M.3726 0H.2847V-.56Q.2529 -.5298 .2014 -.4995T.1089 -.4541V-.5391Q.1821 -.5737 .2371 -.6226T.3149 -.7188H.3726Z"/>
<path transform="translate(536.17 357.80) scale(17.5)" stroke-width="0.0086" d="M.3726 0H.2847V-.56Q.2529 -.5298 .2014 -.4995T.1089 -.4541V-.5391Q.1821 -.5737 .2371 -.6226T.3149 -.7188H.3726Z"/>
<path transform="translate(104.83 149.70) scale(17.5)" stroke-width="0.0086" d="M.3726 0H.2847V-.56Q.2529 -.5298 .2014 -.4995T.1089 -.4541V-.5391Q.1821 -.5737 .2371 -.6226T.3149 -.7188H.3726Z"/>
<path transform="translate(47.10 434.50) scale(17.5)" stroke-width="0.0086" d="M.3726 0H.2847V-.56Q.2529 -.5298 .2014 -.4995T.1089 -.4541V-.5391Q.1821 -.5737 .2371 -.6226T.3149 -.7188H.3726Z"/>
<path transform="translate(56.83 549.70) scale(17.5)" stroke-width="0.0086" d="M.3726 0H.2847V-.56Q.2529 -.5298 .2014 -.4995T.1089 -.4541V-.5391Q.1821 -.5737 .2371 -.6226T.3149 -.7188H.3726Z"/>
<path transform="translate(66.57 665.00) scale(17.5)" stroke-width="0.0086" d="M.3726 0H.2847V-.56Q.2529 -.5298 .2014 -.4995T.1089 -.4541V-.5391Q.1821 -.5737 .2371 -.6226T.3149 -.7188H.3726Z"/>
<path transform="translate(71.53 764.80) scale(17.5)" stroke-width="0.0086" d="M.3726 0H.2847V-.56Q.2529 -.5298 .2014 -.4995T.1089 -.4541V-.5391Q.1821 -.5737 .2371 -.6226T.3149 -.7188H.3726Z"/>
<path transform="translate(95.67 756.00) scale(14)" stroke-width="0.0107" d="M.3726 0H.2847V-.56Q.2529 -.5298 .2014 -.4995T.1089 -.4541V-.5391Q.1821 -.5737 .2371 -.6226T.3149 -.7188H.3726Z"/>
<path transform="translate(166.37 764.80) scale(17.5)" stroke-width="0.0086" d="M.3726 0H.2847V-.56Q.2529 -.5298 .2014 -.4995T.1089 -.4541V-.5391Q.1821 -.5737 .2371 -.6226T.3149 -.7188H.3726Z"/>
<path transform="translate(258.77 764.80) scale(17.5)" stroke-width="0.0086" d="M.3726 0H.2847V-.56Q.2529 -.5298 .2014 -.4995T.1089 -.4541V-.5391Q.1821 -.5737 .2371 -.6226T.3149 -.7188H.3726Z"/>
<path transform="translate(278.24 756.00) scale(14)" stroke-width="0.0107" d="M.3726 0H.2847V-.56Q.2529 -.5298 .2014 -.4995T.1089 -.4541V-.5391Q.1821 -.5737 .2371 -.6226T.3149 -.7188H.3726Z"/>
<path transform="translate(351.27 764.80) scale(17.5)" stroke-width="0.0086" d="M.3726 0H.2847V-.56Q.2529 -.5298 .2014 -.4995T.1089 -.4541V-.5391Q.1821 -.5737 .2371 -.6226T.3149 -.7188H.3726Z"/>
<path transform="translate(443.67 764.80) scale(17.5)" stroke-width="0.0086" d="M.3726 0H.2847V-.56Q.2529 -.5298 .2014 -.4995T.1089 -.4541V-.5391Q.1821 -.5737 .2371 -.6226T.3149 -.7188H.3726Z"/>
<path transform="translate(536.17 764.80) scale(17.5)" stroke-width="0.0086" d="M.3726 0H.2847V-.56Q.2529 -.5298 .2014 -.4995T.1089 -.4541V-.5391Q.1821 -.5737 .2371 -.6226T.3149 -.7188H.3726Z"/>
<path transform="translate(190.94 465.90) scale(17.5)" stroke-width="0.0086" d="M.3726 0H.2847V-.56Q.2529 -.5298 .2014 -.4995T.1089 -.4541V-.5391Q.1821 -.5737 .2371 -.6226T.3149 -.7188H.3726Z"/>
<path transform="translate(190.94 483.60) scale(17.5)" stroke-width="0.0086" d="M.3726 0H.2847V-.56Q.2529 -.5298 .2014 -.4995T.1089 -.4541V-.5391Q.1821 -.5737 .2371 -.6226T.3149 -.7188H.3726Z"/>
<path transform="translate(190.94 501.30) scale(17.5)" stroke-width="0.0086" d="M.3726 0H.2847V-.56Q.2529 -.5298 .2014 -.4995T.1089 -.4541V-.5391Q.1821 -.5737 .2371 -.6226T.3149 -.7188H.3726Z"/>
<path transform="translate(217.20 547.70) scale(14)" stroke-width="0.0107" d="M.3726 0H.2847V-.56Q.2529 -.5298 .2014 -.4995T.1089 -.4541V-.5391Q.1821 -.5737 .2371 -.6226T.3149 -.7188H.3726Z"/>
</g>
</svg>
</body></html>
